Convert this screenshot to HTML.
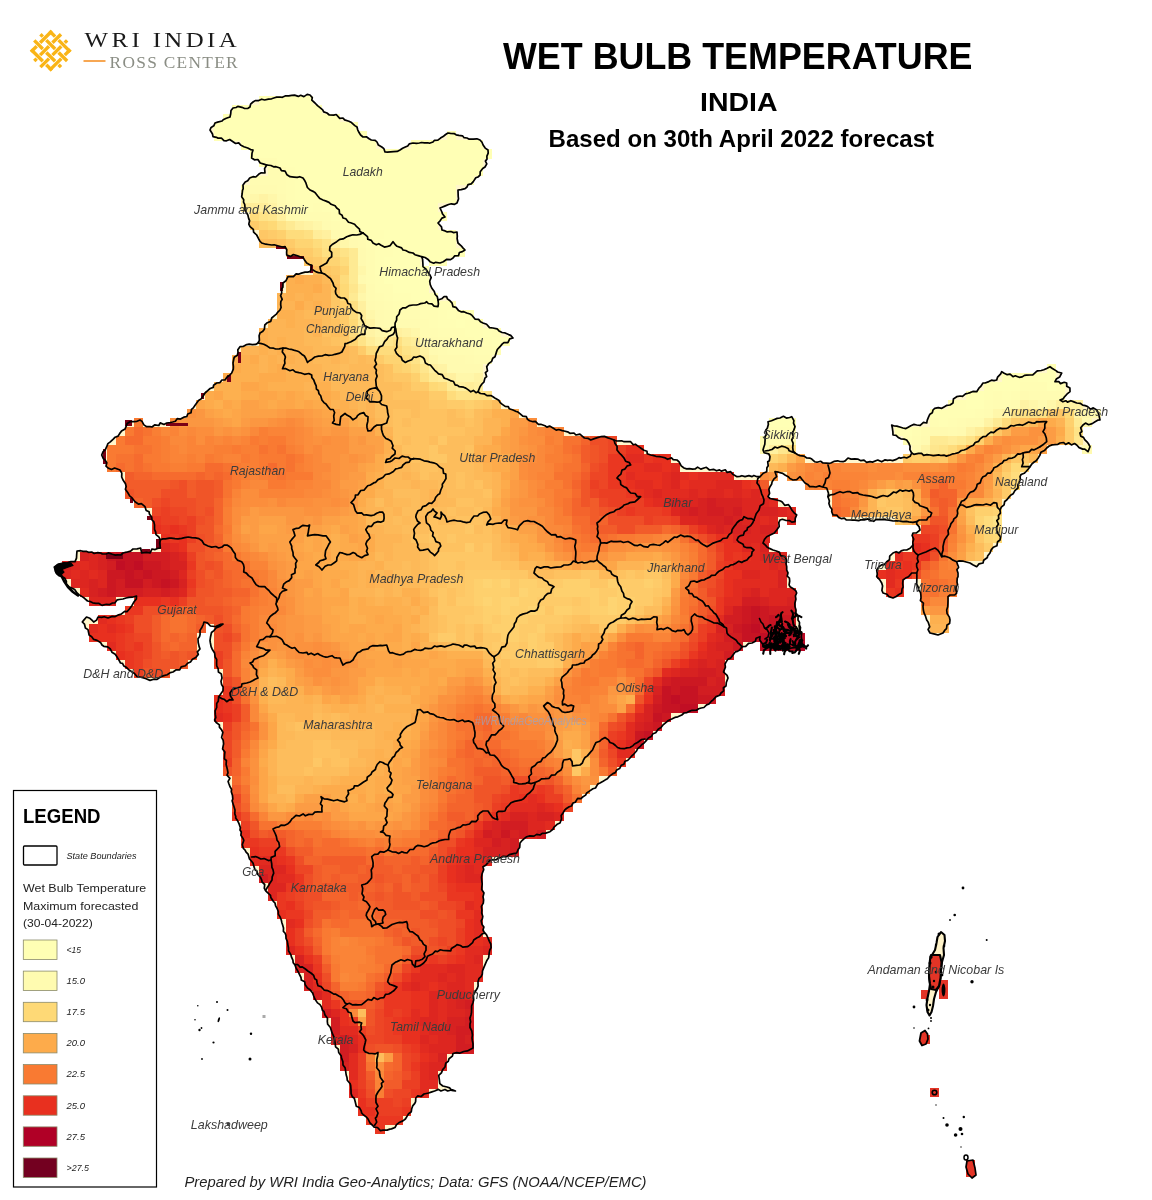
<!DOCTYPE html>
<html lang="en"><head><meta charset="utf-8"><title>Wet Bulb Temperature - India</title>
<style>html,body{margin:0;padding:0;background:#fff}body{width:1152px;height:1200px;position:relative;overflow:hidden;font-family:"Liberation Sans",sans-serif}</style>
</head><body>
<svg width="1152" height="1200" viewBox="0 0 1152 1200" style="position:absolute;left:0;top:0">
<polygon points="210.0,130.0 215.0,123.0 230.0,117.0 233.0,108.0 250.0,107.0 253.0,102.0 280.0,97.0 310.0,95.0 315.0,103.0 327.0,113.0 343.0,118.0 357.0,127.0 363.0,137.0 377.0,142.0 385.0,152.0 400.0,150.0 413.0,143.0 433.0,142.0 448.0,133.0 467.0,138.0 480.0,140.0 488.0,150.0 485.0,167.0 478.0,177.0 467.0,187.0 458.0,190.0 457.0,203.0 440.0,208.0 445.0,217.0 438.0,223.0 442.0,230.0 457.0,232.0 458.0,243.0 465.0,250.0 453.0,258.0 440.0,263.0 430.0,261.7 421.7,256.7 423.0,266.7 430.0,275.0 431.7,288.0 438.0,300.0 446.7,296.7 453.0,306.7 466.7,313.0 483.0,323.0 493.0,328.0 513.0,338.0 500.0,346.7 495.0,356.7 486.7,366.7 486.7,376.7 480.0,386.7 478.0,391.7 493.0,396.7 513.0,410.0 533.0,421.7 553.0,428.0 574.0,433.0 590.7,440.0 600.7,436.7 614.0,440.0 630.7,441.7 650.7,455.0 677.0,460.0 684.0,468.0 704.0,468.0 730.7,471.7 737.0,476.7 757.0,476.7 766.7,471.7 770.0,456.7 763.0,450.0 765.0,436.7 768.0,421.7 780.0,418.0 791.7,416.7 795.0,426.7 791.7,440.0 795.0,453.0 806.7,458.0 823.0,463.0 843.0,461.7 848.0,458.0 870.0,461.7 890.0,460.0 906.7,458.0 911.7,453.0 906.7,440.0 893.0,435.0 891.7,425.0 903.0,428.0 916.7,425.0 926.7,423.0 933.0,410.0 950.0,405.0 956.7,396.7 976.7,391.7 983.0,383.0 996.7,380.0 1001.7,371.7 1013.0,376.7 1030.0,375.0 1050.0,366.7 1061.7,373.0 1055.0,381.7 1066.7,383.0 1070.0,391.7 1060.0,400.0 1076.7,403.0 1096.7,410.0 1100.0,420.0 1083.0,425.0 1080.0,433.0 1090.0,446.7 1088.0,451.7 1076.7,445.0 1060.0,443.0 1046.7,448.0 1040.0,455.0 1030.0,466.7 1020.0,476.7 1018.0,488.0 1006.7,500.0 1000.0,510.0 996.7,526.7 1000.0,540.0 990.0,553.0 983.0,563.0 976.7,566.7 970.0,563.0 956.7,561.7 958.0,573.0 956.7,593.0 948.0,596.7 946.7,610.0 950.0,620.0 943.0,633.0 938.0,635.0 930.0,633.0 926.7,620.0 923.0,606.7 918.0,586.7 916.7,573.0 911.7,573.0 903.0,580.0 901.7,593.0 893.0,598.0 883.0,593.0 881.7,583.0 876.7,576.7 876.7,570.0 886.7,561.7 893.0,553.0 906.7,550.0 913.0,545.0 913.0,533.0 920.0,530.0 916.7,521.7 903.0,521.7 886.7,520.0 870.0,520.0 850.0,520.0 833.0,515.0 830.0,506.7 828.0,496.7 826.7,488.0 821.7,486.7 813.0,486.7 805.0,483.0 800.0,476.7 793.0,480.0 785.0,475.0 775.0,471.7 776.7,476.7 770.0,486.7 768.0,496.7 776.7,500.0 790.0,506.7 796.7,515.0 795.0,521.7 780.0,520.0 776.7,530.0 766.7,536.7 763.0,543.0 773.0,550.0 785.0,556.7 786.7,570.0 790.0,586.7 796.7,593.0 795.0,606.7 798.0,620.0 801.7,633.0 801.7,646.7 780.0,648.0 763.0,646.7 760.0,636.7 752.0,643.0 742.0,646.7 733.0,655.0 725.0,664.0 723.5,672.0 728.0,678.0 726.0,686.0 721.0,693.0 709.0,704.0 698.7,708.7 684.0,713.0 671.7,719.0 661.0,727.5 653.0,733.7 640.0,746.7 630.0,758.0 616.7,770.0 600.0,783.0 586.7,793.0 573.0,803.0 563.0,813.0 560.0,823.0 550.0,831.7 540.0,835.0 526.7,836.7 520.0,843.0 516.7,853.0 506.7,856.7 490.0,860.0 483.0,866.7 481.7,880.0 483.0,896.7 481.7,913.0 483.0,930.0 488.0,938.0 490.8,944.0 489.8,950.0 486.7,960.8 482.5,971.0 478.0,981.7 475.0,992.0 473.0,1002.5 471.0,1015.0 470.0,1027.5 472.0,1038.0 473.0,1048.0 463.7,1051.5 453.0,1053.5 449.0,1058.7 445.0,1067.0 438.7,1075.4 439.8,1083.7 447.0,1087.0 455.4,1091.0 445.0,1089.5 434.6,1091.0 424.0,1094.0 415.8,1098.0 411.7,1108.7 405.4,1119.0 395.0,1127.5 380.4,1130.6 370.0,1123.0 361.7,1113.0 355.4,1102.5 351.0,1090.0 347.0,1077.5 343.0,1065.0 338.7,1052.5 334.6,1040.0 330.4,1027.5 325.0,1015.0 320.0,1004.6 313.7,996.0 307.5,988.0 301.0,977.5 295.0,965.0 290.8,954.6 287.7,944.0 285.0,933.0 280.0,916.7 275.0,903.0 268.0,893.0 261.7,880.0 253.0,863.0 245.0,850.0 240.0,830.0 235.0,810.0 230.0,786.7 226.7,766.7 223.0,746.7 221.7,730.0 214.6,720.0 216.7,707.5 218.7,697.0 223.0,690.8 222.0,678.0 216.7,665.8 214.6,653.0 210.4,643.0 211.5,632.5 216.0,628.0 223.0,624.0 210.4,626.0 204.0,622.0 200.0,630.4 198.0,638.7 200.0,649.0 195.8,657.5 185.4,665.8 173.0,672.0 160.4,677.0 150.0,680.4 139.6,677.0 129.0,670.0 118.7,659.6 110.4,649.0 102.0,645.0 91.7,636.7 85.4,628.0 82.3,622.0 86.5,617.0 93.7,622.0 98.0,617.0 108.0,618.0 118.7,614.8 127.0,611.7 132.0,605.4 136.5,596.0 123.0,599.0 112.5,603.0 102.0,605.4 87.5,601.0 77.0,593.0 68.8,586.7 64.6,578.0 57.0,574.0 55.0,568.0 60.0,564.0 64.6,564.8 75.0,561.7 77.0,551.0 91.7,552.0 106.0,554.0 120.8,555.0 123.0,553.0 133.0,549.0 140.6,548.0 141.7,553.0 150.0,553.0 152.0,549.0 160.4,548.0 160.4,539.8 156.0,534.6 152.0,520.0 145.0,506.7 135.0,501.7 128.0,493.0 123.0,480.0 120.0,470.0 108.0,468.0 105.0,460.0 101.7,455.0 106.7,446.7 120.0,433.0 130.0,421.7 140.0,420.0 146.7,426.7 166.7,423.0 186.7,416.7 196.7,403.0 205.0,393.0 216.7,383.0 225.0,380.0 231.7,373.0 233.0,363.0 240.0,346.7 258.0,343.0 260.0,333.0 271.7,318.0 280.0,310.0 281.7,293.0 283.0,283.0 288.0,276.7 310.0,271.7 311.7,265.0 300.0,256.7 286.7,255.0 285.0,246.7 271.7,245.0 261.7,243.0 256.7,235.0 250.0,226.7 246.7,213.0 241.7,196.7 243.0,185.0 253.0,176.7 265.0,173.0 266.7,165.0 251.7,158.0 253.0,150.0 233.0,141.7 213.0,136.7" fill="#fff6cc" stroke="none"/>
<g shape-rendering="crispEdges"><rect x="259.0" y="95.6" width="54.0" height="9.2" fill="#ffffb5"/><rect x="232.2" y="104.5" width="89.8" height="9.2" fill="#ffffb5"/><rect x="223.2" y="113.5" width="116.6" height="9.2" fill="#ffffb5"/><rect x="214.3" y="122.4" width="143.5" height="9.2" fill="#ffffb5"/><rect x="214.3" y="131.4" width="152.4" height="9.2" fill="#ffffb5"/><rect x="447.0" y="131.4" width="9.2" height="9.2" fill="#ffffb5"/><rect x="241.1" y="140.3" width="134.6" height="9.2" fill="#ffffb5"/><rect x="411.2" y="140.3" width="71.9" height="9.2" fill="#ffffb5"/><rect x="250.1" y="149.3" width="241.9" height="9.2" fill="#ffffb5"/><rect x="259.0" y="158.2" width="18.2" height="9.2" fill="#fffdb3"/><rect x="276.9" y="158.2" width="206.2" height="9.2" fill="#ffffb5"/><rect x="268.0" y="167.2" width="18.2" height="9.2" fill="#fffcb2"/><rect x="285.9" y="167.2" width="9.2" height="9.2" fill="#fffeb4"/><rect x="294.8" y="167.2" width="188.2" height="9.2" fill="#ffffb5"/><rect x="250.1" y="176.2" width="36.1" height="9.2" fill="#fffcb2"/><rect x="285.9" y="176.2" width="9.2" height="9.2" fill="#fffdb3"/><rect x="294.8" y="176.2" width="9.2" height="9.2" fill="#fffeb4"/><rect x="303.8" y="176.2" width="170.3" height="9.2" fill="#ffffb5"/><rect x="241.1" y="185.1" width="36.1" height="9.2" fill="#fffbb1"/><rect x="276.9" y="185.1" width="9.2" height="9.2" fill="#fffcb2"/><rect x="285.9" y="185.1" width="9.2" height="9.2" fill="#fffdb3"/><rect x="294.8" y="185.1" width="18.2" height="9.2" fill="#fffeb4"/><rect x="312.8" y="185.1" width="143.5" height="9.2" fill="#ffffb5"/><rect x="241.1" y="194.0" width="9.2" height="9.2" fill="#fffab0"/><rect x="250.1" y="194.0" width="9.2" height="9.2" fill="#fff7aa"/><rect x="259.0" y="194.0" width="9.2" height="9.2" fill="#fff3a4"/><rect x="268.0" y="194.0" width="9.2" height="9.2" fill="#fff7aa"/><rect x="276.9" y="194.0" width="9.2" height="9.2" fill="#fffbb1"/><rect x="285.9" y="194.0" width="9.2" height="9.2" fill="#fffdb3"/><rect x="294.8" y="194.0" width="27.1" height="9.2" fill="#fffeb4"/><rect x="321.7" y="194.0" width="134.6" height="9.2" fill="#ffffb5"/><rect x="241.1" y="203.0" width="27.1" height="9.2" fill="#ffed99"/><rect x="268.0" y="203.0" width="9.2" height="9.2" fill="#fff3a4"/><rect x="276.9" y="203.0" width="9.2" height="9.2" fill="#fffab0"/><rect x="285.9" y="203.0" width="9.2" height="9.2" fill="#fffcb2"/><rect x="294.8" y="203.0" width="9.2" height="9.2" fill="#fffdb3"/><rect x="303.8" y="203.0" width="9.2" height="9.2" fill="#fffeb4"/><rect x="312.8" y="203.0" width="9.2" height="9.2" fill="#fffdb3"/><rect x="321.7" y="203.0" width="9.2" height="9.2" fill="#fffeb4"/><rect x="330.6" y="203.0" width="107.7" height="9.2" fill="#ffffb5"/><rect x="250.1" y="211.9" width="9.2" height="9.2" fill="#fedc7c"/><rect x="259.0" y="211.9" width="9.2" height="9.2" fill="#fee387"/><rect x="268.0" y="211.9" width="9.2" height="9.2" fill="#fee68d"/><rect x="276.9" y="211.9" width="9.2" height="9.2" fill="#fff09f"/><rect x="285.9" y="211.9" width="9.2" height="9.2" fill="#fffab0"/><rect x="294.8" y="211.9" width="9.2" height="9.2" fill="#fffbb1"/><rect x="303.8" y="211.9" width="27.1" height="9.2" fill="#fffcb2"/><rect x="330.6" y="211.9" width="18.2" height="9.2" fill="#fffeb4"/><rect x="348.5" y="211.9" width="98.7" height="9.2" fill="#ffffb5"/><rect x="250.1" y="220.9" width="9.2" height="9.2" fill="#fecb69"/><rect x="259.0" y="220.9" width="9.2" height="9.2" fill="#fed472"/><rect x="268.0" y="220.9" width="9.2" height="9.2" fill="#fed976"/><rect x="276.9" y="220.9" width="9.2" height="9.2" fill="#fee387"/><rect x="285.9" y="220.9" width="9.2" height="9.2" fill="#feea93"/><rect x="294.8" y="220.9" width="9.2" height="9.2" fill="#fff09f"/><rect x="303.8" y="220.9" width="9.2" height="9.2" fill="#fff3a4"/><rect x="312.8" y="220.9" width="9.2" height="9.2" fill="#fff7aa"/><rect x="321.7" y="220.9" width="9.2" height="9.2" fill="#fffbb1"/><rect x="330.6" y="220.9" width="9.2" height="9.2" fill="#fffcb2"/><rect x="339.6" y="220.9" width="9.2" height="9.2" fill="#fffdb3"/><rect x="348.5" y="220.9" width="9.2" height="9.2" fill="#fffeb4"/><rect x="357.5" y="220.9" width="80.8" height="9.2" fill="#ffffb5"/><rect x="259.0" y="229.8" width="9.2" height="9.2" fill="#fec765"/><rect x="268.0" y="229.8" width="9.2" height="9.2" fill="#fecb69"/><rect x="276.9" y="229.8" width="9.2" height="9.2" fill="#fed06d"/><rect x="285.9" y="229.8" width="18.2" height="9.2" fill="#fedc7c"/><rect x="303.8" y="229.8" width="9.2" height="9.2" fill="#fee082"/><rect x="312.8" y="229.8" width="9.2" height="9.2" fill="#ffed99"/><rect x="321.7" y="229.8" width="9.2" height="9.2" fill="#fff09f"/><rect x="330.6" y="229.8" width="9.2" height="9.2" fill="#fffab0"/><rect x="339.6" y="229.8" width="18.2" height="9.2" fill="#fffcb2"/><rect x="357.5" y="229.8" width="9.2" height="9.2" fill="#fffdb3"/><rect x="366.4" y="229.8" width="18.2" height="9.2" fill="#fffeb4"/><rect x="384.3" y="229.8" width="71.9" height="9.2" fill="#ffffb5"/><rect x="259.0" y="238.8" width="18.2" height="9.2" fill="#fdbd5c"/><rect x="276.9" y="238.8" width="9.2" height="9.2" fill="#fec260"/><rect x="285.9" y="238.8" width="9.2" height="9.2" fill="#fecb69"/><rect x="294.8" y="238.8" width="18.2" height="9.2" fill="#fed472"/><rect x="312.8" y="238.8" width="9.2" height="9.2" fill="#fedc7c"/><rect x="321.7" y="238.8" width="9.2" height="9.2" fill="#fee387"/><rect x="330.6" y="238.8" width="9.2" height="9.2" fill="#fff09f"/><rect x="339.6" y="238.8" width="9.2" height="9.2" fill="#fff7aa"/><rect x="348.5" y="238.8" width="9.2" height="9.2" fill="#fffab0"/><rect x="357.5" y="238.8" width="9.2" height="9.2" fill="#fffbb1"/><rect x="366.4" y="238.8" width="9.2" height="9.2" fill="#fffdb3"/><rect x="375.4" y="238.8" width="80.8" height="9.2" fill="#ffffb5"/><rect x="285.9" y="247.7" width="9.2" height="9.2" fill="#fec260"/><rect x="294.8" y="247.7" width="18.2" height="9.2" fill="#fecb69"/><rect x="312.8" y="247.7" width="9.2" height="9.2" fill="#fed472"/><rect x="321.7" y="247.7" width="9.2" height="9.2" fill="#fee082"/><rect x="330.6" y="247.7" width="9.2" height="9.2" fill="#fedc7c"/><rect x="339.6" y="247.7" width="9.2" height="9.2" fill="#fee387"/><rect x="348.5" y="247.7" width="9.2" height="9.2" fill="#feea93"/><rect x="357.5" y="247.7" width="9.2" height="9.2" fill="#fffab0"/><rect x="366.4" y="247.7" width="9.2" height="9.2" fill="#fffcb2"/><rect x="375.4" y="247.7" width="18.2" height="9.2" fill="#fffeb4"/><rect x="393.3" y="247.7" width="71.9" height="9.2" fill="#ffffb5"/><rect x="303.8" y="256.7" width="9.2" height="9.2" fill="#fec765"/><rect x="312.8" y="256.7" width="9.2" height="9.2" fill="#fecb69"/><rect x="321.7" y="256.7" width="18.2" height="9.2" fill="#fed472"/><rect x="339.6" y="256.7" width="9.2" height="9.2" fill="#fedc7c"/><rect x="348.5" y="256.7" width="9.2" height="9.2" fill="#feea93"/><rect x="357.5" y="256.7" width="9.2" height="9.2" fill="#fffab0"/><rect x="366.4" y="256.7" width="9.2" height="9.2" fill="#fffcb2"/><rect x="375.4" y="256.7" width="9.2" height="9.2" fill="#fffeb4"/><rect x="384.3" y="256.7" width="36.1" height="9.2" fill="#ffffb5"/><rect x="429.1" y="256.7" width="18.2" height="9.2" fill="#ffffb5"/><rect x="312.8" y="265.6" width="9.2" height="9.2" fill="#fdbd5c"/><rect x="321.7" y="265.6" width="9.2" height="9.2" fill="#fec765"/><rect x="330.6" y="265.6" width="9.2" height="9.2" fill="#fecb69"/><rect x="339.6" y="265.6" width="9.2" height="9.2" fill="#fed472"/><rect x="348.5" y="265.6" width="9.2" height="9.2" fill="#feea93"/><rect x="357.5" y="265.6" width="9.2" height="9.2" fill="#fff7aa"/><rect x="366.4" y="265.6" width="9.2" height="9.2" fill="#fffcb2"/><rect x="375.4" y="265.6" width="18.2" height="9.2" fill="#fffeb4"/><rect x="393.3" y="265.6" width="36.1" height="9.2" fill="#ffffb5"/><rect x="285.9" y="274.6" width="9.2" height="9.2" fill="#fdb04f"/><rect x="294.8" y="274.6" width="9.2" height="9.2" fill="#fdab4b"/><rect x="303.8" y="274.6" width="18.2" height="9.2" fill="#fdb04f"/><rect x="321.7" y="274.6" width="9.2" height="9.2" fill="#fdb958"/><rect x="330.6" y="274.6" width="9.2" height="9.2" fill="#fec765"/><rect x="339.6" y="274.6" width="9.2" height="9.2" fill="#fedc7c"/><rect x="348.5" y="274.6" width="9.2" height="9.2" fill="#feea93"/><rect x="357.5" y="274.6" width="9.2" height="9.2" fill="#fffab0"/><rect x="366.4" y="274.6" width="9.2" height="9.2" fill="#fffcb2"/><rect x="375.4" y="274.6" width="9.2" height="9.2" fill="#fffdb3"/><rect x="384.3" y="274.6" width="45.0" height="9.2" fill="#ffffb5"/><rect x="285.9" y="283.5" width="27.1" height="9.2" fill="#fdb04f"/><rect x="312.8" y="283.5" width="9.2" height="9.2" fill="#fdab4b"/><rect x="321.7" y="283.5" width="9.2" height="9.2" fill="#fdb454"/><rect x="330.6" y="283.5" width="9.2" height="9.2" fill="#fec260"/><rect x="339.6" y="283.5" width="9.2" height="9.2" fill="#fed976"/><rect x="348.5" y="283.5" width="9.2" height="9.2" fill="#fee68d"/><rect x="357.5" y="283.5" width="9.2" height="9.2" fill="#fff3a4"/><rect x="366.4" y="283.5" width="9.2" height="9.2" fill="#fffbb1"/><rect x="375.4" y="283.5" width="18.2" height="9.2" fill="#fffdb3"/><rect x="393.3" y="283.5" width="36.1" height="9.2" fill="#ffffb5"/><rect x="276.9" y="292.5" width="9.2" height="9.2" fill="#fdb454"/><rect x="285.9" y="292.5" width="9.2" height="9.2" fill="#fdb04f"/><rect x="294.8" y="292.5" width="9.2" height="9.2" fill="#fdb454"/><rect x="303.8" y="292.5" width="9.2" height="9.2" fill="#fdb04f"/><rect x="312.8" y="292.5" width="18.2" height="9.2" fill="#fdb454"/><rect x="330.6" y="292.5" width="9.2" height="9.2" fill="#fec765"/><rect x="339.6" y="292.5" width="9.2" height="9.2" fill="#fed976"/><rect x="348.5" y="292.5" width="9.2" height="9.2" fill="#feea93"/><rect x="357.5" y="292.5" width="9.2" height="9.2" fill="#fff7aa"/><rect x="366.4" y="292.5" width="9.2" height="9.2" fill="#fffbb1"/><rect x="375.4" y="292.5" width="9.2" height="9.2" fill="#fffcb2"/><rect x="384.3" y="292.5" width="9.2" height="9.2" fill="#fffdb3"/><rect x="393.3" y="292.5" width="18.2" height="9.2" fill="#fffeb4"/><rect x="411.2" y="292.5" width="27.1" height="9.2" fill="#ffffb5"/><rect x="276.9" y="301.4" width="18.2" height="9.2" fill="#fdb454"/><rect x="294.8" y="301.4" width="9.2" height="9.2" fill="#fdab4b"/><rect x="303.8" y="301.4" width="9.2" height="9.2" fill="#fdb454"/><rect x="312.8" y="301.4" width="9.2" height="9.2" fill="#fdb04f"/><rect x="321.7" y="301.4" width="9.2" height="9.2" fill="#fdb454"/><rect x="330.6" y="301.4" width="9.2" height="9.2" fill="#fec765"/><rect x="339.6" y="301.4" width="9.2" height="9.2" fill="#fed06d"/><rect x="348.5" y="301.4" width="9.2" height="9.2" fill="#fee082"/><rect x="357.5" y="301.4" width="9.2" height="9.2" fill="#fff09f"/><rect x="366.4" y="301.4" width="9.2" height="9.2" fill="#fffab0"/><rect x="375.4" y="301.4" width="9.2" height="9.2" fill="#fffbb1"/><rect x="384.3" y="301.4" width="9.2" height="9.2" fill="#fffcb2"/><rect x="393.3" y="301.4" width="36.1" height="9.2" fill="#fffdb3"/><rect x="429.1" y="301.4" width="27.1" height="9.2" fill="#fffeb4"/><rect x="276.9" y="310.4" width="18.2" height="9.2" fill="#fdb04f"/><rect x="294.8" y="310.4" width="9.2" height="9.2" fill="#fdb454"/><rect x="303.8" y="310.4" width="18.2" height="9.2" fill="#fdb958"/><rect x="321.7" y="310.4" width="9.2" height="9.2" fill="#fdbd5c"/><rect x="330.6" y="310.4" width="9.2" height="9.2" fill="#fec765"/><rect x="339.6" y="310.4" width="9.2" height="9.2" fill="#fecb69"/><rect x="348.5" y="310.4" width="9.2" height="9.2" fill="#fedc7c"/><rect x="357.5" y="310.4" width="9.2" height="9.2" fill="#ffed99"/><rect x="366.4" y="310.4" width="9.2" height="9.2" fill="#fff7aa"/><rect x="375.4" y="310.4" width="9.2" height="9.2" fill="#fffab0"/><rect x="384.3" y="310.4" width="9.2" height="9.2" fill="#fffbb1"/><rect x="393.3" y="310.4" width="27.1" height="9.2" fill="#fffcb2"/><rect x="420.1" y="310.4" width="18.2" height="9.2" fill="#fffdb3"/><rect x="438.0" y="310.4" width="9.2" height="9.2" fill="#fffeb4"/><rect x="447.0" y="310.4" width="9.2" height="9.2" fill="#ffffb5"/><rect x="455.9" y="310.4" width="9.2" height="9.2" fill="#fffeb4"/><rect x="464.9" y="310.4" width="9.2" height="9.2" fill="#ffffb5"/><rect x="268.0" y="319.3" width="18.2" height="9.2" fill="#fdb454"/><rect x="285.9" y="319.3" width="9.2" height="9.2" fill="#fdb04f"/><rect x="294.8" y="319.3" width="27.1" height="9.2" fill="#fdb454"/><rect x="321.7" y="319.3" width="9.2" height="9.2" fill="#fdbd5c"/><rect x="330.6" y="319.3" width="9.2" height="9.2" fill="#fec260"/><rect x="339.6" y="319.3" width="9.2" height="9.2" fill="#fecb69"/><rect x="348.5" y="319.3" width="9.2" height="9.2" fill="#fed976"/><rect x="357.5" y="319.3" width="9.2" height="9.2" fill="#feea93"/><rect x="366.4" y="319.3" width="9.2" height="9.2" fill="#fff3a4"/><rect x="375.4" y="319.3" width="9.2" height="9.2" fill="#fffab0"/><rect x="384.3" y="319.3" width="36.1" height="9.2" fill="#fffbb1"/><rect x="420.1" y="319.3" width="9.2" height="9.2" fill="#fffcb2"/><rect x="429.1" y="319.3" width="9.2" height="9.2" fill="#fffdb3"/><rect x="438.0" y="319.3" width="18.2" height="9.2" fill="#fffeb4"/><rect x="455.9" y="319.3" width="9.2" height="9.2" fill="#ffffb5"/><rect x="464.9" y="319.3" width="18.2" height="9.2" fill="#fffeb4"/><rect x="259.0" y="328.3" width="9.2" height="9.2" fill="#fdb04f"/><rect x="268.0" y="328.3" width="36.1" height="9.2" fill="#fdb454"/><rect x="303.8" y="328.3" width="9.2" height="9.2" fill="#fdb958"/><rect x="312.8" y="328.3" width="9.2" height="9.2" fill="#fdb454"/><rect x="321.7" y="328.3" width="9.2" height="9.2" fill="#fec260"/><rect x="330.6" y="328.3" width="9.2" height="9.2" fill="#fdbd5c"/><rect x="339.6" y="328.3" width="9.2" height="9.2" fill="#fec260"/><rect x="348.5" y="328.3" width="9.2" height="9.2" fill="#fedc7c"/><rect x="357.5" y="328.3" width="9.2" height="9.2" fill="#feea93"/><rect x="366.4" y="328.3" width="9.2" height="9.2" fill="#fff3a4"/><rect x="375.4" y="328.3" width="18.2" height="9.2" fill="#fff7aa"/><rect x="393.3" y="328.3" width="9.2" height="9.2" fill="#fff09f"/><rect x="402.2" y="328.3" width="9.2" height="9.2" fill="#fff3a4"/><rect x="411.2" y="328.3" width="9.2" height="9.2" fill="#fff7aa"/><rect x="420.1" y="328.3" width="18.2" height="9.2" fill="#fffcb2"/><rect x="438.0" y="328.3" width="27.1" height="9.2" fill="#fffdb3"/><rect x="464.9" y="328.3" width="18.2" height="9.2" fill="#fffeb4"/><rect x="482.8" y="328.3" width="9.2" height="9.2" fill="#ffffb5"/><rect x="491.7" y="328.3" width="9.2" height="9.2" fill="#fffeb4"/><rect x="259.0" y="337.2" width="9.2" height="9.2" fill="#fdb04f"/><rect x="268.0" y="337.2" width="9.2" height="9.2" fill="#fdb454"/><rect x="276.9" y="337.2" width="9.2" height="9.2" fill="#fdb04f"/><rect x="285.9" y="337.2" width="18.2" height="9.2" fill="#fdb454"/><rect x="303.8" y="337.2" width="18.2" height="9.2" fill="#fdb958"/><rect x="321.7" y="337.2" width="9.2" height="9.2" fill="#fdbd5c"/><rect x="330.6" y="337.2" width="9.2" height="9.2" fill="#fec260"/><rect x="339.6" y="337.2" width="9.2" height="9.2" fill="#fec765"/><rect x="348.5" y="337.2" width="9.2" height="9.2" fill="#fed472"/><rect x="357.5" y="337.2" width="9.2" height="9.2" fill="#fee387"/><rect x="366.4" y="337.2" width="9.2" height="9.2" fill="#ffed99"/><rect x="375.4" y="337.2" width="9.2" height="9.2" fill="#fff3a4"/><rect x="384.3" y="337.2" width="9.2" height="9.2" fill="#fee68d"/><rect x="393.3" y="337.2" width="9.2" height="9.2" fill="#fee082"/><rect x="402.2" y="337.2" width="9.2" height="9.2" fill="#feea93"/><rect x="411.2" y="337.2" width="9.2" height="9.2" fill="#ffed99"/><rect x="420.1" y="337.2" width="9.2" height="9.2" fill="#fffab0"/><rect x="429.1" y="337.2" width="9.2" height="9.2" fill="#fffbb1"/><rect x="438.0" y="337.2" width="18.2" height="9.2" fill="#fffcb2"/><rect x="455.9" y="337.2" width="18.2" height="9.2" fill="#fffdb3"/><rect x="473.8" y="337.2" width="18.2" height="9.2" fill="#fffeb4"/><rect x="491.7" y="337.2" width="18.2" height="9.2" fill="#ffffb5"/><rect x="241.1" y="346.2" width="18.2" height="9.2" fill="#fdb454"/><rect x="259.0" y="346.2" width="9.2" height="9.2" fill="#fdb04f"/><rect x="268.0" y="346.2" width="9.2" height="9.2" fill="#fdb454"/><rect x="276.9" y="346.2" width="9.2" height="9.2" fill="#fdb04f"/><rect x="285.9" y="346.2" width="27.1" height="9.2" fill="#fdb454"/><rect x="312.8" y="346.2" width="36.1" height="9.2" fill="#fdb958"/><rect x="348.5" y="346.2" width="9.2" height="9.2" fill="#fdbd5c"/><rect x="357.5" y="346.2" width="9.2" height="9.2" fill="#fecb69"/><rect x="366.4" y="346.2" width="27.1" height="9.2" fill="#fedc7c"/><rect x="393.3" y="346.2" width="9.2" height="9.2" fill="#fed976"/><rect x="402.2" y="346.2" width="9.2" height="9.2" fill="#fee387"/><rect x="411.2" y="346.2" width="9.2" height="9.2" fill="#fee68d"/><rect x="420.1" y="346.2" width="9.2" height="9.2" fill="#fff3a4"/><rect x="429.1" y="346.2" width="9.2" height="9.2" fill="#fffab0"/><rect x="438.0" y="346.2" width="9.2" height="9.2" fill="#fffbb1"/><rect x="447.0" y="346.2" width="27.1" height="9.2" fill="#fffcb2"/><rect x="473.8" y="346.2" width="18.2" height="9.2" fill="#fffdb3"/><rect x="491.7" y="346.2" width="9.2" height="9.2" fill="#fffeb4"/><rect x="232.2" y="355.1" width="18.2" height="9.2" fill="#fdb04f"/><rect x="250.1" y="355.1" width="9.2" height="9.2" fill="#fdab4b"/><rect x="259.0" y="355.1" width="9.2" height="9.2" fill="#fdb454"/><rect x="268.0" y="355.1" width="9.2" height="9.2" fill="#fdb04f"/><rect x="276.9" y="355.1" width="9.2" height="9.2" fill="#fdb454"/><rect x="285.9" y="355.1" width="9.2" height="9.2" fill="#fdb04f"/><rect x="294.8" y="355.1" width="18.2" height="9.2" fill="#fdb454"/><rect x="312.8" y="355.1" width="18.2" height="9.2" fill="#fdb958"/><rect x="330.6" y="355.1" width="9.2" height="9.2" fill="#fdb454"/><rect x="339.6" y="355.1" width="9.2" height="9.2" fill="#fdb958"/><rect x="348.5" y="355.1" width="9.2" height="9.2" fill="#fdbd5c"/><rect x="357.5" y="355.1" width="9.2" height="9.2" fill="#fdb958"/><rect x="366.4" y="355.1" width="9.2" height="9.2" fill="#fdbd5c"/><rect x="375.4" y="355.1" width="9.2" height="9.2" fill="#fecb69"/><rect x="384.3" y="355.1" width="18.2" height="9.2" fill="#fed472"/><rect x="402.2" y="355.1" width="9.2" height="9.2" fill="#fedc7c"/><rect x="411.2" y="355.1" width="9.2" height="9.2" fill="#fee387"/><rect x="420.1" y="355.1" width="9.2" height="9.2" fill="#fff09f"/><rect x="429.1" y="355.1" width="9.2" height="9.2" fill="#fff7aa"/><rect x="438.0" y="355.1" width="27.1" height="9.2" fill="#fffab0"/><rect x="464.9" y="355.1" width="9.2" height="9.2" fill="#fffbb1"/><rect x="473.8" y="355.1" width="18.2" height="9.2" fill="#fffcb2"/><rect x="232.2" y="364.1" width="9.2" height="9.2" fill="#fdab4b"/><rect x="241.1" y="364.1" width="18.2" height="9.2" fill="#fdb04f"/><rect x="259.0" y="364.1" width="9.2" height="9.2" fill="#fdb454"/><rect x="268.0" y="364.1" width="9.2" height="9.2" fill="#fdb04f"/><rect x="276.9" y="364.1" width="9.2" height="9.2" fill="#fdab4b"/><rect x="285.9" y="364.1" width="36.1" height="9.2" fill="#fdb454"/><rect x="321.7" y="364.1" width="18.2" height="9.2" fill="#fdb958"/><rect x="339.6" y="364.1" width="9.2" height="9.2" fill="#fdbd5c"/><rect x="348.5" y="364.1" width="27.1" height="9.2" fill="#fdb958"/><rect x="375.4" y="364.1" width="9.2" height="9.2" fill="#fdbd5c"/><rect x="384.3" y="364.1" width="9.2" height="9.2" fill="#fec260"/><rect x="393.3" y="364.1" width="9.2" height="9.2" fill="#fed06d"/><rect x="402.2" y="364.1" width="9.2" height="9.2" fill="#fed472"/><rect x="411.2" y="364.1" width="9.2" height="9.2" fill="#fedc7c"/><rect x="420.1" y="364.1" width="9.2" height="9.2" fill="#fee68d"/><rect x="429.1" y="364.1" width="9.2" height="9.2" fill="#fff09f"/><rect x="438.0" y="364.1" width="9.2" height="9.2" fill="#fff3a4"/><rect x="447.0" y="364.1" width="36.1" height="9.2" fill="#fffab0"/><rect x="1046.6" y="364.1" width="9.2" height="9.2" fill="#ffffb5"/><rect x="223.2" y="373.0" width="9.2" height="9.2" fill="#fdab4b"/><rect x="232.2" y="373.0" width="27.1" height="9.2" fill="#fdb04f"/><rect x="259.0" y="373.0" width="27.1" height="9.2" fill="#fdab4b"/><rect x="285.9" y="373.0" width="27.1" height="9.2" fill="#fdb04f"/><rect x="312.8" y="373.0" width="18.2" height="9.2" fill="#fdb454"/><rect x="330.6" y="373.0" width="9.2" height="9.2" fill="#fdbd5c"/><rect x="339.6" y="373.0" width="9.2" height="9.2" fill="#fdb454"/><rect x="348.5" y="373.0" width="9.2" height="9.2" fill="#fdbd5c"/><rect x="357.5" y="373.0" width="9.2" height="9.2" fill="#fdb454"/><rect x="366.4" y="373.0" width="9.2" height="9.2" fill="#fdb958"/><rect x="375.4" y="373.0" width="9.2" height="9.2" fill="#fdbd5c"/><rect x="384.3" y="373.0" width="9.2" height="9.2" fill="#fec260"/><rect x="393.3" y="373.0" width="18.2" height="9.2" fill="#fec765"/><rect x="411.2" y="373.0" width="9.2" height="9.2" fill="#fed06d"/><rect x="420.1" y="373.0" width="9.2" height="9.2" fill="#fee082"/><rect x="429.1" y="373.0" width="9.2" height="9.2" fill="#feea93"/><rect x="438.0" y="373.0" width="9.2" height="9.2" fill="#ffed99"/><rect x="447.0" y="373.0" width="9.2" height="9.2" fill="#fff09f"/><rect x="455.9" y="373.0" width="18.2" height="9.2" fill="#fff7aa"/><rect x="473.8" y="373.0" width="9.2" height="9.2" fill="#fff3a4"/><rect x="1001.9" y="373.0" width="18.2" height="9.2" fill="#ffffb5"/><rect x="1019.8" y="373.0" width="18.2" height="9.2" fill="#fffeb4"/><rect x="1037.7" y="373.0" width="18.2" height="9.2" fill="#ffffb5"/><rect x="214.3" y="382.0" width="27.1" height="9.2" fill="#fdb04f"/><rect x="241.1" y="382.0" width="18.2" height="9.2" fill="#fda648"/><rect x="259.0" y="382.0" width="9.2" height="9.2" fill="#fdab4b"/><rect x="268.0" y="382.0" width="36.1" height="9.2" fill="#fdb04f"/><rect x="303.8" y="382.0" width="9.2" height="9.2" fill="#fdb454"/><rect x="312.8" y="382.0" width="18.2" height="9.2" fill="#fdb04f"/><rect x="330.6" y="382.0" width="45.0" height="9.2" fill="#fdb958"/><rect x="375.4" y="382.0" width="27.1" height="9.2" fill="#fdbd5c"/><rect x="402.2" y="382.0" width="9.2" height="9.2" fill="#fec260"/><rect x="411.2" y="382.0" width="18.2" height="9.2" fill="#fecb69"/><rect x="429.1" y="382.0" width="9.2" height="9.2" fill="#fed976"/><rect x="438.0" y="382.0" width="9.2" height="9.2" fill="#fedc7c"/><rect x="447.0" y="382.0" width="9.2" height="9.2" fill="#feea93"/><rect x="455.9" y="382.0" width="9.2" height="9.2" fill="#fff09f"/><rect x="464.9" y="382.0" width="9.2" height="9.2" fill="#ffed99"/><rect x="473.8" y="382.0" width="9.2" height="9.2" fill="#fff09f"/><rect x="984.0" y="382.0" width="9.2" height="9.2" fill="#fffeb4"/><rect x="992.9" y="382.0" width="27.1" height="9.2" fill="#ffffb5"/><rect x="1019.8" y="382.0" width="27.1" height="9.2" fill="#fffdb3"/><rect x="1046.6" y="382.0" width="9.2" height="9.2" fill="#ffffb5"/><rect x="1055.6" y="382.0" width="9.2" height="9.2" fill="#fffeb4"/><rect x="205.3" y="390.9" width="9.2" height="9.2" fill="#fdab4b"/><rect x="214.3" y="390.9" width="9.2" height="9.2" fill="#fda648"/><rect x="223.2" y="390.9" width="18.2" height="9.2" fill="#fdb04f"/><rect x="241.1" y="390.9" width="18.2" height="9.2" fill="#fdab4b"/><rect x="259.0" y="390.9" width="18.2" height="9.2" fill="#fda648"/><rect x="276.9" y="390.9" width="9.2" height="9.2" fill="#fdab4b"/><rect x="285.9" y="390.9" width="9.2" height="9.2" fill="#fda648"/><rect x="294.8" y="390.9" width="9.2" height="9.2" fill="#fdab4b"/><rect x="303.8" y="390.9" width="18.2" height="9.2" fill="#fdb04f"/><rect x="321.7" y="390.9" width="9.2" height="9.2" fill="#fdab4b"/><rect x="330.6" y="390.9" width="9.2" height="9.2" fill="#fdb04f"/><rect x="339.6" y="390.9" width="9.2" height="9.2" fill="#fdb958"/><rect x="348.5" y="390.9" width="9.2" height="9.2" fill="#fdb454"/><rect x="357.5" y="390.9" width="18.2" height="9.2" fill="#fdb958"/><rect x="375.4" y="390.9" width="18.2" height="9.2" fill="#fdbd5c"/><rect x="393.3" y="390.9" width="36.1" height="9.2" fill="#fec260"/><rect x="429.1" y="390.9" width="18.2" height="9.2" fill="#fecb69"/><rect x="447.0" y="390.9" width="9.2" height="9.2" fill="#fedc7c"/><rect x="455.9" y="390.9" width="18.2" height="9.2" fill="#fee387"/><rect x="473.8" y="390.9" width="18.2" height="9.2" fill="#fee082"/><rect x="966.1" y="390.9" width="18.2" height="9.2" fill="#ffffb5"/><rect x="984.0" y="390.9" width="9.2" height="9.2" fill="#fffeb4"/><rect x="992.9" y="390.9" width="9.2" height="9.2" fill="#fffdb3"/><rect x="1001.9" y="390.9" width="9.2" height="9.2" fill="#fffeb4"/><rect x="1010.8" y="390.9" width="9.2" height="9.2" fill="#fffdb3"/><rect x="1019.8" y="390.9" width="9.2" height="9.2" fill="#fffbb1"/><rect x="1028.8" y="390.9" width="36.1" height="9.2" fill="#fffcb2"/><rect x="196.4" y="399.9" width="9.2" height="9.2" fill="#fda648"/><rect x="205.3" y="399.9" width="9.2" height="9.2" fill="#fdab4b"/><rect x="214.3" y="399.9" width="9.2" height="9.2" fill="#fdb04f"/><rect x="223.2" y="399.9" width="9.2" height="9.2" fill="#fda648"/><rect x="232.2" y="399.9" width="9.2" height="9.2" fill="#fdab4b"/><rect x="241.1" y="399.9" width="18.2" height="9.2" fill="#fca146"/><rect x="259.0" y="399.9" width="9.2" height="9.2" fill="#fda648"/><rect x="268.0" y="399.9" width="9.2" height="9.2" fill="#fdab4b"/><rect x="276.9" y="399.9" width="18.2" height="9.2" fill="#fda648"/><rect x="294.8" y="399.9" width="9.2" height="9.2" fill="#fdab4b"/><rect x="303.8" y="399.9" width="9.2" height="9.2" fill="#fda648"/><rect x="312.8" y="399.9" width="18.2" height="9.2" fill="#fdab4b"/><rect x="330.6" y="399.9" width="9.2" height="9.2" fill="#fdb454"/><rect x="339.6" y="399.9" width="9.2" height="9.2" fill="#fdb04f"/><rect x="348.5" y="399.9" width="9.2" height="9.2" fill="#fdb454"/><rect x="357.5" y="399.9" width="9.2" height="9.2" fill="#fdb958"/><rect x="366.4" y="399.9" width="9.2" height="9.2" fill="#fdb454"/><rect x="375.4" y="399.9" width="45.0" height="9.2" fill="#fdbd5c"/><rect x="420.1" y="399.9" width="9.2" height="9.2" fill="#fec260"/><rect x="429.1" y="399.9" width="18.2" height="9.2" fill="#fec765"/><rect x="447.0" y="399.9" width="18.2" height="9.2" fill="#fecb69"/><rect x="464.9" y="399.9" width="9.2" height="9.2" fill="#fed06d"/><rect x="473.8" y="399.9" width="9.2" height="9.2" fill="#fecb69"/><rect x="482.8" y="399.9" width="9.2" height="9.2" fill="#fec765"/><rect x="491.7" y="399.9" width="9.2" height="9.2" fill="#fdbd5c"/><rect x="948.2" y="399.9" width="18.2" height="9.2" fill="#fffeb4"/><rect x="966.1" y="399.9" width="18.2" height="9.2" fill="#ffffb5"/><rect x="984.0" y="399.9" width="9.2" height="9.2" fill="#fffdb3"/><rect x="992.9" y="399.9" width="18.2" height="9.2" fill="#fffcb2"/><rect x="1010.8" y="399.9" width="9.2" height="9.2" fill="#fffbb1"/><rect x="1019.8" y="399.9" width="9.2" height="9.2" fill="#fff3a4"/><rect x="1028.8" y="399.9" width="9.2" height="9.2" fill="#fff7aa"/><rect x="1037.7" y="399.9" width="9.2" height="9.2" fill="#fffab0"/><rect x="1046.6" y="399.9" width="9.2" height="9.2" fill="#fff7aa"/><rect x="1055.6" y="399.9" width="9.2" height="9.2" fill="#fff09f"/><rect x="1064.5" y="399.9" width="18.2" height="9.2" fill="#fff3a4"/><rect x="187.4" y="408.8" width="9.2" height="9.2" fill="#fb923e"/><rect x="196.4" y="408.8" width="9.2" height="9.2" fill="#fb9741"/><rect x="205.3" y="408.8" width="9.2" height="9.2" fill="#fca146"/><rect x="214.3" y="408.8" width="9.2" height="9.2" fill="#fda648"/><rect x="223.2" y="408.8" width="9.2" height="9.2" fill="#fdab4b"/><rect x="232.2" y="408.8" width="9.2" height="9.2" fill="#fda648"/><rect x="241.1" y="408.8" width="36.1" height="9.2" fill="#fca146"/><rect x="276.9" y="408.8" width="9.2" height="9.2" fill="#fc9c44"/><rect x="285.9" y="408.8" width="18.2" height="9.2" fill="#fb9741"/><rect x="303.8" y="408.8" width="9.2" height="9.2" fill="#fc9c44"/><rect x="312.8" y="408.8" width="9.2" height="9.2" fill="#fca146"/><rect x="321.7" y="408.8" width="18.2" height="9.2" fill="#fda648"/><rect x="339.6" y="408.8" width="18.2" height="9.2" fill="#fdb04f"/><rect x="357.5" y="408.8" width="9.2" height="9.2" fill="#fdb958"/><rect x="366.4" y="408.8" width="9.2" height="9.2" fill="#fdb454"/><rect x="375.4" y="408.8" width="18.2" height="9.2" fill="#fdbd5c"/><rect x="393.3" y="408.8" width="18.2" height="9.2" fill="#fec260"/><rect x="411.2" y="408.8" width="9.2" height="9.2" fill="#fdbd5c"/><rect x="420.1" y="408.8" width="27.1" height="9.2" fill="#fec260"/><rect x="447.0" y="408.8" width="9.2" height="9.2" fill="#fdbd5c"/><rect x="455.9" y="408.8" width="9.2" height="9.2" fill="#fec260"/><rect x="464.9" y="408.8" width="9.2" height="9.2" fill="#fec765"/><rect x="473.8" y="408.8" width="9.2" height="9.2" fill="#fdbd5c"/><rect x="482.8" y="408.8" width="9.2" height="9.2" fill="#fdb958"/><rect x="491.7" y="408.8" width="18.2" height="9.2" fill="#fdb04f"/><rect x="509.6" y="408.8" width="9.2" height="9.2" fill="#fda648"/><rect x="930.3" y="408.8" width="9.2" height="9.2" fill="#ffffb5"/><rect x="939.2" y="408.8" width="36.1" height="9.2" fill="#fffeb4"/><rect x="975.0" y="408.8" width="9.2" height="9.2" fill="#fffdb3"/><rect x="984.0" y="408.8" width="9.2" height="9.2" fill="#fffcb2"/><rect x="992.9" y="408.8" width="9.2" height="9.2" fill="#fff7aa"/><rect x="1001.9" y="408.8" width="9.2" height="9.2" fill="#fff3a4"/><rect x="1010.8" y="408.8" width="9.2" height="9.2" fill="#fee387"/><rect x="1019.8" y="408.8" width="27.1" height="9.2" fill="#fee082"/><rect x="1046.6" y="408.8" width="9.2" height="9.2" fill="#fecb69"/><rect x="1055.6" y="408.8" width="9.2" height="9.2" fill="#fec765"/><rect x="1064.5" y="408.8" width="9.2" height="9.2" fill="#fed976"/><rect x="1073.5" y="408.8" width="9.2" height="9.2" fill="#fff3a4"/><rect x="1082.4" y="408.8" width="9.2" height="9.2" fill="#fff7aa"/><rect x="1091.4" y="408.8" width="9.2" height="9.2" fill="#fffab0"/><rect x="133.8" y="417.8" width="9.2" height="9.2" fill="#f97a32"/><rect x="169.5" y="417.8" width="9.2" height="9.2" fill="#fb8e3c"/><rect x="178.5" y="417.8" width="36.1" height="9.2" fill="#fb9741"/><rect x="214.3" y="417.8" width="9.2" height="9.2" fill="#fc9c44"/><rect x="223.2" y="417.8" width="9.2" height="9.2" fill="#fca146"/><rect x="232.2" y="417.8" width="9.2" height="9.2" fill="#fda648"/><rect x="241.1" y="417.8" width="9.2" height="9.2" fill="#fc9c44"/><rect x="250.1" y="417.8" width="18.2" height="9.2" fill="#fb9741"/><rect x="268.0" y="417.8" width="9.2" height="9.2" fill="#fb923e"/><rect x="276.9" y="417.8" width="9.2" height="9.2" fill="#fb8e3c"/><rect x="285.9" y="417.8" width="9.2" height="9.2" fill="#fa893a"/><rect x="294.8" y="417.8" width="9.2" height="9.2" fill="#fb8e3c"/><rect x="303.8" y="417.8" width="9.2" height="9.2" fill="#fb9741"/><rect x="312.8" y="417.8" width="9.2" height="9.2" fill="#fc9c44"/><rect x="321.7" y="417.8" width="27.1" height="9.2" fill="#fca146"/><rect x="348.5" y="417.8" width="9.2" height="9.2" fill="#fdab4b"/><rect x="357.5" y="417.8" width="18.2" height="9.2" fill="#fdb04f"/><rect x="375.4" y="417.8" width="9.2" height="9.2" fill="#fdb958"/><rect x="384.3" y="417.8" width="9.2" height="9.2" fill="#fdbd5c"/><rect x="393.3" y="417.8" width="9.2" height="9.2" fill="#fec260"/><rect x="402.2" y="417.8" width="9.2" height="9.2" fill="#fdbd5c"/><rect x="411.2" y="417.8" width="36.1" height="9.2" fill="#fec260"/><rect x="447.0" y="417.8" width="18.2" height="9.2" fill="#fdbd5c"/><rect x="464.9" y="417.8" width="9.2" height="9.2" fill="#fec260"/><rect x="473.8" y="417.8" width="9.2" height="9.2" fill="#fdbd5c"/><rect x="482.8" y="417.8" width="18.2" height="9.2" fill="#fdb454"/><rect x="500.7" y="417.8" width="9.2" height="9.2" fill="#fdb04f"/><rect x="509.6" y="417.8" width="18.2" height="9.2" fill="#fc9c44"/><rect x="527.5" y="417.8" width="9.2" height="9.2" fill="#fb8e3c"/><rect x="769.2" y="417.8" width="27.1" height="9.2" fill="#ffffb5"/><rect x="930.3" y="417.8" width="9.2" height="9.2" fill="#fffdb3"/><rect x="939.2" y="417.8" width="9.2" height="9.2" fill="#fffeb4"/><rect x="948.2" y="417.8" width="9.2" height="9.2" fill="#fffdb3"/><rect x="957.1" y="417.8" width="9.2" height="9.2" fill="#fffcb2"/><rect x="966.1" y="417.8" width="18.2" height="9.2" fill="#fffbb1"/><rect x="984.0" y="417.8" width="9.2" height="9.2" fill="#fff3a4"/><rect x="992.9" y="417.8" width="9.2" height="9.2" fill="#feea93"/><rect x="1001.9" y="417.8" width="9.2" height="9.2" fill="#fedc7c"/><rect x="1010.8" y="417.8" width="9.2" height="9.2" fill="#fecb69"/><rect x="1019.8" y="417.8" width="9.2" height="9.2" fill="#fec260"/><rect x="1028.8" y="417.8" width="9.2" height="9.2" fill="#fdb958"/><rect x="1037.7" y="417.8" width="9.2" height="9.2" fill="#fda648"/><rect x="1046.6" y="417.8" width="9.2" height="9.2" fill="#fdab4b"/><rect x="1055.6" y="417.8" width="9.2" height="9.2" fill="#fdb454"/><rect x="1064.5" y="417.8" width="9.2" height="9.2" fill="#fed06d"/><rect x="1073.5" y="417.8" width="9.2" height="9.2" fill="#feea93"/><rect x="1082.4" y="417.8" width="9.2" height="9.2" fill="#fffab0"/><rect x="124.8" y="426.7" width="9.2" height="9.2" fill="#f97a32"/><rect x="133.8" y="426.7" width="9.2" height="9.2" fill="#f66b2e"/><rect x="142.7" y="426.7" width="9.2" height="9.2" fill="#f77330"/><rect x="151.6" y="426.7" width="9.2" height="9.2" fill="#f97f34"/><rect x="160.6" y="426.7" width="9.2" height="9.2" fill="#fa893a"/><rect x="169.5" y="426.7" width="9.2" height="9.2" fill="#fa8437"/><rect x="178.5" y="426.7" width="9.2" height="9.2" fill="#fb8e3c"/><rect x="187.4" y="426.7" width="9.2" height="9.2" fill="#fa893a"/><rect x="196.4" y="426.7" width="18.2" height="9.2" fill="#fb8e3c"/><rect x="214.3" y="426.7" width="9.2" height="9.2" fill="#fb9741"/><rect x="223.2" y="426.7" width="9.2" height="9.2" fill="#fb923e"/><rect x="232.2" y="426.7" width="9.2" height="9.2" fill="#fb9741"/><rect x="241.1" y="426.7" width="9.2" height="9.2" fill="#fb923e"/><rect x="250.1" y="426.7" width="9.2" height="9.2" fill="#fa893a"/><rect x="259.0" y="426.7" width="9.2" height="9.2" fill="#f97f34"/><rect x="268.0" y="426.7" width="27.1" height="9.2" fill="#fa8437"/><rect x="294.8" y="426.7" width="9.2" height="9.2" fill="#fa893a"/><rect x="303.8" y="426.7" width="9.2" height="9.2" fill="#fb8e3c"/><rect x="312.8" y="426.7" width="9.2" height="9.2" fill="#fb9741"/><rect x="321.7" y="426.7" width="9.2" height="9.2" fill="#fc9c44"/><rect x="330.6" y="426.7" width="18.2" height="9.2" fill="#fb9741"/><rect x="348.5" y="426.7" width="27.1" height="9.2" fill="#fca146"/><rect x="375.4" y="426.7" width="9.2" height="9.2" fill="#fdb04f"/><rect x="384.3" y="426.7" width="9.2" height="9.2" fill="#fdb454"/><rect x="393.3" y="426.7" width="71.9" height="9.2" fill="#fec260"/><rect x="464.9" y="426.7" width="18.2" height="9.2" fill="#fdbd5c"/><rect x="482.8" y="426.7" width="18.2" height="9.2" fill="#fdb454"/><rect x="500.7" y="426.7" width="9.2" height="9.2" fill="#fda648"/><rect x="509.6" y="426.7" width="9.2" height="9.2" fill="#fc9c44"/><rect x="518.6" y="426.7" width="9.2" height="9.2" fill="#fb9741"/><rect x="527.5" y="426.7" width="9.2" height="9.2" fill="#fb8e3c"/><rect x="536.5" y="426.7" width="9.2" height="9.2" fill="#fa893a"/><rect x="545.4" y="426.7" width="18.2" height="9.2" fill="#fa8437"/><rect x="769.2" y="426.7" width="27.1" height="9.2" fill="#fffeb4"/><rect x="894.5" y="426.7" width="18.2" height="9.2" fill="#ffffb5"/><rect x="912.4" y="426.7" width="9.2" height="9.2" fill="#fffdb3"/><rect x="921.3" y="426.7" width="9.2" height="9.2" fill="#fffbb1"/><rect x="930.3" y="426.7" width="18.2" height="9.2" fill="#fffab0"/><rect x="948.2" y="426.7" width="9.2" height="9.2" fill="#fffbb1"/><rect x="957.1" y="426.7" width="9.2" height="9.2" fill="#fffab0"/><rect x="966.1" y="426.7" width="9.2" height="9.2" fill="#fff3a4"/><rect x="975.0" y="426.7" width="9.2" height="9.2" fill="#ffed99"/><rect x="984.0" y="426.7" width="9.2" height="9.2" fill="#fee387"/><rect x="992.9" y="426.7" width="9.2" height="9.2" fill="#fec765"/><rect x="1001.9" y="426.7" width="9.2" height="9.2" fill="#fdb454"/><rect x="1010.8" y="426.7" width="18.2" height="9.2" fill="#fc9c44"/><rect x="1028.8" y="426.7" width="18.2" height="9.2" fill="#fb923e"/><rect x="1046.6" y="426.7" width="9.2" height="9.2" fill="#fc9c44"/><rect x="1055.6" y="426.7" width="9.2" height="9.2" fill="#fdab4b"/><rect x="1064.5" y="426.7" width="9.2" height="9.2" fill="#fecb69"/><rect x="1073.5" y="426.7" width="9.2" height="9.2" fill="#fee387"/><rect x="115.8" y="435.7" width="9.2" height="9.2" fill="#f97a32"/><rect x="124.8" y="435.7" width="18.2" height="9.2" fill="#f66b2e"/><rect x="142.7" y="435.7" width="18.2" height="9.2" fill="#f97a32"/><rect x="160.6" y="435.7" width="9.2" height="9.2" fill="#f97f34"/><rect x="169.5" y="435.7" width="18.2" height="9.2" fill="#fa893a"/><rect x="187.4" y="435.7" width="9.2" height="9.2" fill="#fa8437"/><rect x="196.4" y="435.7" width="9.2" height="9.2" fill="#fb8e3c"/><rect x="205.3" y="435.7" width="9.2" height="9.2" fill="#fa8437"/><rect x="214.3" y="435.7" width="9.2" height="9.2" fill="#fa893a"/><rect x="223.2" y="435.7" width="9.2" height="9.2" fill="#fa8437"/><rect x="232.2" y="435.7" width="9.2" height="9.2" fill="#fa893a"/><rect x="241.1" y="435.7" width="9.2" height="9.2" fill="#fa8437"/><rect x="250.1" y="435.7" width="9.2" height="9.2" fill="#f97a32"/><rect x="259.0" y="435.7" width="9.2" height="9.2" fill="#f97f34"/><rect x="268.0" y="435.7" width="18.2" height="9.2" fill="#f97a32"/><rect x="285.9" y="435.7" width="9.2" height="9.2" fill="#fa8437"/><rect x="294.8" y="435.7" width="9.2" height="9.2" fill="#fa893a"/><rect x="303.8" y="435.7" width="9.2" height="9.2" fill="#fb8e3c"/><rect x="312.8" y="435.7" width="9.2" height="9.2" fill="#fb923e"/><rect x="321.7" y="435.7" width="9.2" height="9.2" fill="#fb8e3c"/><rect x="330.6" y="435.7" width="18.2" height="9.2" fill="#fb923e"/><rect x="348.5" y="435.7" width="9.2" height="9.2" fill="#fc9c44"/><rect x="357.5" y="435.7" width="9.2" height="9.2" fill="#fb9741"/><rect x="366.4" y="435.7" width="18.2" height="9.2" fill="#fca146"/><rect x="384.3" y="435.7" width="9.2" height="9.2" fill="#fdb04f"/><rect x="393.3" y="435.7" width="9.2" height="9.2" fill="#fec260"/><rect x="402.2" y="435.7" width="9.2" height="9.2" fill="#fdbd5c"/><rect x="411.2" y="435.7" width="18.2" height="9.2" fill="#fec260"/><rect x="429.1" y="435.7" width="9.2" height="9.2" fill="#fdbd5c"/><rect x="438.0" y="435.7" width="9.2" height="9.2" fill="#fec765"/><rect x="447.0" y="435.7" width="27.1" height="9.2" fill="#fdbd5c"/><rect x="473.8" y="435.7" width="18.2" height="9.2" fill="#fdb454"/><rect x="491.7" y="435.7" width="9.2" height="9.2" fill="#fda648"/><rect x="500.7" y="435.7" width="9.2" height="9.2" fill="#fca146"/><rect x="509.6" y="435.7" width="9.2" height="9.2" fill="#fc9c44"/><rect x="518.6" y="435.7" width="9.2" height="9.2" fill="#fb923e"/><rect x="527.5" y="435.7" width="18.2" height="9.2" fill="#fb8e3c"/><rect x="545.4" y="435.7" width="9.2" height="9.2" fill="#f97f34"/><rect x="554.4" y="435.7" width="9.2" height="9.2" fill="#fa8437"/><rect x="563.3" y="435.7" width="18.2" height="9.2" fill="#f77330"/><rect x="581.2" y="435.7" width="9.2" height="9.2" fill="#f4642c"/><rect x="590.2" y="435.7" width="18.2" height="9.2" fill="#ef4e27"/><rect x="608.1" y="435.7" width="9.2" height="9.2" fill="#ed4625"/><rect x="760.2" y="435.7" width="27.1" height="9.2" fill="#fffcb2"/><rect x="787.1" y="435.7" width="9.2" height="9.2" fill="#fffab0"/><rect x="903.4" y="435.7" width="9.2" height="9.2" fill="#fffeb4"/><rect x="912.4" y="435.7" width="9.2" height="9.2" fill="#fffcb2"/><rect x="921.3" y="435.7" width="9.2" height="9.2" fill="#fffab0"/><rect x="930.3" y="435.7" width="18.2" height="9.2" fill="#feea93"/><rect x="948.2" y="435.7" width="9.2" height="9.2" fill="#ffed99"/><rect x="957.1" y="435.7" width="9.2" height="9.2" fill="#feea93"/><rect x="966.1" y="435.7" width="9.2" height="9.2" fill="#fee387"/><rect x="975.0" y="435.7" width="9.2" height="9.2" fill="#fed06d"/><rect x="984.0" y="435.7" width="9.2" height="9.2" fill="#fdb04f"/><rect x="992.9" y="435.7" width="9.2" height="9.2" fill="#fb9741"/><rect x="1001.9" y="435.7" width="9.2" height="9.2" fill="#fb8e3c"/><rect x="1010.8" y="435.7" width="27.1" height="9.2" fill="#fb923e"/><rect x="1037.7" y="435.7" width="18.2" height="9.2" fill="#fc9c44"/><rect x="1055.6" y="435.7" width="9.2" height="9.2" fill="#fdb04f"/><rect x="1064.5" y="435.7" width="9.2" height="9.2" fill="#fecb69"/><rect x="1073.5" y="435.7" width="9.2" height="9.2" fill="#fee68d"/><rect x="106.9" y="444.6" width="27.1" height="9.2" fill="#f97a32"/><rect x="133.8" y="444.6" width="18.2" height="9.2" fill="#f77330"/><rect x="151.6" y="444.6" width="9.2" height="9.2" fill="#f97a32"/><rect x="160.6" y="444.6" width="9.2" height="9.2" fill="#f97f34"/><rect x="169.5" y="444.6" width="9.2" height="9.2" fill="#fa8437"/><rect x="178.5" y="444.6" width="9.2" height="9.2" fill="#fa893a"/><rect x="187.4" y="444.6" width="27.1" height="9.2" fill="#fa8437"/><rect x="214.3" y="444.6" width="18.2" height="9.2" fill="#f97f34"/><rect x="232.2" y="444.6" width="9.2" height="9.2" fill="#f97a32"/><rect x="241.1" y="444.6" width="18.2" height="9.2" fill="#f97f34"/><rect x="259.0" y="444.6" width="9.2" height="9.2" fill="#f77330"/><rect x="268.0" y="444.6" width="9.2" height="9.2" fill="#f97a32"/><rect x="276.9" y="444.6" width="9.2" height="9.2" fill="#f77330"/><rect x="285.9" y="444.6" width="9.2" height="9.2" fill="#f97f34"/><rect x="294.8" y="444.6" width="9.2" height="9.2" fill="#fa8437"/><rect x="303.8" y="444.6" width="9.2" height="9.2" fill="#fb8e3c"/><rect x="312.8" y="444.6" width="9.2" height="9.2" fill="#fa893a"/><rect x="321.7" y="444.6" width="27.1" height="9.2" fill="#fb923e"/><rect x="348.5" y="444.6" width="27.1" height="9.2" fill="#fc9c44"/><rect x="375.4" y="444.6" width="9.2" height="9.2" fill="#fca146"/><rect x="384.3" y="444.6" width="9.2" height="9.2" fill="#fdb04f"/><rect x="393.3" y="444.6" width="9.2" height="9.2" fill="#fdb958"/><rect x="402.2" y="444.6" width="27.1" height="9.2" fill="#fec260"/><rect x="429.1" y="444.6" width="9.2" height="9.2" fill="#fec765"/><rect x="438.0" y="444.6" width="27.1" height="9.2" fill="#fdbd5c"/><rect x="464.9" y="444.6" width="9.2" height="9.2" fill="#fec260"/><rect x="473.8" y="444.6" width="9.2" height="9.2" fill="#fdb04f"/><rect x="482.8" y="444.6" width="18.2" height="9.2" fill="#fdab4b"/><rect x="500.7" y="444.6" width="9.2" height="9.2" fill="#fca146"/><rect x="509.6" y="444.6" width="9.2" height="9.2" fill="#fc9c44"/><rect x="518.6" y="444.6" width="9.2" height="9.2" fill="#fb9741"/><rect x="527.5" y="444.6" width="9.2" height="9.2" fill="#fb923e"/><rect x="536.5" y="444.6" width="9.2" height="9.2" fill="#fa893a"/><rect x="545.4" y="444.6" width="9.2" height="9.2" fill="#fa8437"/><rect x="554.4" y="444.6" width="9.2" height="9.2" fill="#f97f34"/><rect x="563.3" y="444.6" width="9.2" height="9.2" fill="#f77330"/><rect x="572.3" y="444.6" width="9.2" height="9.2" fill="#f66b2e"/><rect x="581.2" y="444.6" width="9.2" height="9.2" fill="#f25c2a"/><rect x="590.2" y="444.6" width="9.2" height="9.2" fill="#f05528"/><rect x="599.1" y="444.6" width="9.2" height="9.2" fill="#ef4e27"/><rect x="608.1" y="444.6" width="9.2" height="9.2" fill="#ed4625"/><rect x="617.0" y="444.6" width="9.2" height="9.2" fill="#eb3f23"/><rect x="626.0" y="444.6" width="18.2" height="9.2" fill="#e8301f"/><rect x="760.2" y="444.6" width="9.2" height="9.2" fill="#fffab0"/><rect x="769.2" y="444.6" width="9.2" height="9.2" fill="#fff09f"/><rect x="778.1" y="444.6" width="9.2" height="9.2" fill="#fee68d"/><rect x="787.1" y="444.6" width="9.2" height="9.2" fill="#fee082"/><rect x="912.4" y="444.6" width="9.2" height="9.2" fill="#fffab0"/><rect x="921.3" y="444.6" width="9.2" height="9.2" fill="#fff3a4"/><rect x="930.3" y="444.6" width="9.2" height="9.2" fill="#fee68d"/><rect x="939.2" y="444.6" width="9.2" height="9.2" fill="#fee387"/><rect x="948.2" y="444.6" width="9.2" height="9.2" fill="#fedc7c"/><rect x="957.1" y="444.6" width="9.2" height="9.2" fill="#fed06d"/><rect x="966.1" y="444.6" width="9.2" height="9.2" fill="#fdab4b"/><rect x="975.0" y="444.6" width="9.2" height="9.2" fill="#fb923e"/><rect x="984.0" y="444.6" width="9.2" height="9.2" fill="#fa8437"/><rect x="992.9" y="444.6" width="9.2" height="9.2" fill="#fa893a"/><rect x="1001.9" y="444.6" width="9.2" height="9.2" fill="#fb923e"/><rect x="1010.8" y="444.6" width="9.2" height="9.2" fill="#fc9c44"/><rect x="1019.8" y="444.6" width="18.2" height="9.2" fill="#fda648"/><rect x="1037.7" y="444.6" width="9.2" height="9.2" fill="#fca146"/><rect x="1082.4" y="444.6" width="9.2" height="9.2" fill="#fffab0"/><rect x="106.9" y="453.6" width="9.2" height="9.2" fill="#f97a32"/><rect x="115.8" y="453.6" width="18.2" height="9.2" fill="#f77330"/><rect x="133.8" y="453.6" width="9.2" height="9.2" fill="#f66b2e"/><rect x="142.7" y="453.6" width="18.2" height="9.2" fill="#f97a32"/><rect x="160.6" y="453.6" width="9.2" height="9.2" fill="#f97f34"/><rect x="169.5" y="453.6" width="18.2" height="9.2" fill="#fa8437"/><rect x="187.4" y="453.6" width="9.2" height="9.2" fill="#f97f34"/><rect x="196.4" y="453.6" width="9.2" height="9.2" fill="#fa8437"/><rect x="205.3" y="453.6" width="9.2" height="9.2" fill="#f97a32"/><rect x="214.3" y="453.6" width="9.2" height="9.2" fill="#f97f34"/><rect x="223.2" y="453.6" width="18.2" height="9.2" fill="#fa8437"/><rect x="241.1" y="453.6" width="9.2" height="9.2" fill="#f97a32"/><rect x="250.1" y="453.6" width="9.2" height="9.2" fill="#f97f34"/><rect x="259.0" y="453.6" width="27.1" height="9.2" fill="#f97a32"/><rect x="285.9" y="453.6" width="9.2" height="9.2" fill="#f77330"/><rect x="294.8" y="453.6" width="9.2" height="9.2" fill="#f97a32"/><rect x="303.8" y="453.6" width="9.2" height="9.2" fill="#fa8437"/><rect x="312.8" y="453.6" width="9.2" height="9.2" fill="#fa893a"/><rect x="321.7" y="453.6" width="18.2" height="9.2" fill="#fb923e"/><rect x="339.6" y="453.6" width="9.2" height="9.2" fill="#fb9741"/><rect x="348.5" y="453.6" width="9.2" height="9.2" fill="#fb923e"/><rect x="357.5" y="453.6" width="9.2" height="9.2" fill="#fb9741"/><rect x="366.4" y="453.6" width="9.2" height="9.2" fill="#fc9c44"/><rect x="375.4" y="453.6" width="9.2" height="9.2" fill="#fdab4b"/><rect x="384.3" y="453.6" width="18.2" height="9.2" fill="#fdb454"/><rect x="402.2" y="453.6" width="9.2" height="9.2" fill="#fdb958"/><rect x="411.2" y="453.6" width="18.2" height="9.2" fill="#fec260"/><rect x="429.1" y="453.6" width="18.2" height="9.2" fill="#fec765"/><rect x="447.0" y="453.6" width="18.2" height="9.2" fill="#fdbd5c"/><rect x="464.9" y="453.6" width="9.2" height="9.2" fill="#fdb958"/><rect x="473.8" y="453.6" width="9.2" height="9.2" fill="#fdb04f"/><rect x="482.8" y="453.6" width="27.1" height="9.2" fill="#fdab4b"/><rect x="509.6" y="453.6" width="9.2" height="9.2" fill="#fca146"/><rect x="518.6" y="453.6" width="9.2" height="9.2" fill="#fb923e"/><rect x="527.5" y="453.6" width="9.2" height="9.2" fill="#fb8e3c"/><rect x="536.5" y="453.6" width="9.2" height="9.2" fill="#fa893a"/><rect x="545.4" y="453.6" width="18.2" height="9.2" fill="#f97f34"/><rect x="563.3" y="453.6" width="9.2" height="9.2" fill="#f97a32"/><rect x="572.3" y="453.6" width="9.2" height="9.2" fill="#f77330"/><rect x="581.2" y="453.6" width="9.2" height="9.2" fill="#f25c2a"/><rect x="590.2" y="453.6" width="9.2" height="9.2" fill="#f05528"/><rect x="599.1" y="453.6" width="9.2" height="9.2" fill="#ef4e27"/><rect x="608.1" y="453.6" width="18.2" height="9.2" fill="#ea3721"/><rect x="626.0" y="453.6" width="18.2" height="9.2" fill="#e22b20"/><rect x="643.9" y="453.6" width="9.2" height="9.2" fill="#ea3721"/><rect x="652.8" y="453.6" width="18.2" height="9.2" fill="#e8301f"/><rect x="769.2" y="453.6" width="9.2" height="9.2" fill="#fed472"/><rect x="778.1" y="453.6" width="9.2" height="9.2" fill="#fecb69"/><rect x="787.1" y="453.6" width="9.2" height="9.2" fill="#fdb958"/><rect x="796.0" y="453.6" width="9.2" height="9.2" fill="#fda648"/><rect x="903.4" y="453.6" width="9.2" height="9.2" fill="#fecb69"/><rect x="912.4" y="453.6" width="18.2" height="9.2" fill="#fed06d"/><rect x="930.3" y="453.6" width="9.2" height="9.2" fill="#fec765"/><rect x="939.2" y="453.6" width="9.2" height="9.2" fill="#fecb69"/><rect x="948.2" y="453.6" width="9.2" height="9.2" fill="#fdb04f"/><rect x="957.1" y="453.6" width="9.2" height="9.2" fill="#fb9741"/><rect x="966.1" y="453.6" width="9.2" height="9.2" fill="#fa8437"/><rect x="975.0" y="453.6" width="9.2" height="9.2" fill="#f97f34"/><rect x="984.0" y="453.6" width="9.2" height="9.2" fill="#fb8e3c"/><rect x="992.9" y="453.6" width="9.2" height="9.2" fill="#fc9c44"/><rect x="1001.9" y="453.6" width="9.2" height="9.2" fill="#fdb454"/><rect x="1010.8" y="453.6" width="18.2" height="9.2" fill="#fec765"/><rect x="1028.8" y="453.6" width="9.2" height="9.2" fill="#fdb958"/><rect x="106.9" y="462.5" width="9.2" height="9.2" fill="#f97a32"/><rect x="115.8" y="462.5" width="9.2" height="9.2" fill="#f66b2e"/><rect x="124.8" y="462.5" width="9.2" height="9.2" fill="#f77330"/><rect x="133.8" y="462.5" width="9.2" height="9.2" fill="#f66b2e"/><rect x="142.7" y="462.5" width="9.2" height="9.2" fill="#f77330"/><rect x="151.6" y="462.5" width="18.2" height="9.2" fill="#f97a32"/><rect x="169.5" y="462.5" width="18.2" height="9.2" fill="#f97f34"/><rect x="187.4" y="462.5" width="18.2" height="9.2" fill="#f97a32"/><rect x="205.3" y="462.5" width="18.2" height="9.2" fill="#f66b2e"/><rect x="223.2" y="462.5" width="9.2" height="9.2" fill="#f77330"/><rect x="232.2" y="462.5" width="9.2" height="9.2" fill="#f97a32"/><rect x="241.1" y="462.5" width="18.2" height="9.2" fill="#f97f34"/><rect x="259.0" y="462.5" width="9.2" height="9.2" fill="#f97a32"/><rect x="268.0" y="462.5" width="9.2" height="9.2" fill="#f66b2e"/><rect x="276.9" y="462.5" width="9.2" height="9.2" fill="#f97a32"/><rect x="285.9" y="462.5" width="9.2" height="9.2" fill="#f77330"/><rect x="294.8" y="462.5" width="9.2" height="9.2" fill="#f97f34"/><rect x="303.8" y="462.5" width="9.2" height="9.2" fill="#fa8437"/><rect x="312.8" y="462.5" width="18.2" height="9.2" fill="#fa893a"/><rect x="330.6" y="462.5" width="9.2" height="9.2" fill="#fb923e"/><rect x="339.6" y="462.5" width="18.2" height="9.2" fill="#fb9741"/><rect x="357.5" y="462.5" width="9.2" height="9.2" fill="#fca146"/><rect x="366.4" y="462.5" width="9.2" height="9.2" fill="#fda648"/><rect x="375.4" y="462.5" width="9.2" height="9.2" fill="#fdab4b"/><rect x="384.3" y="462.5" width="9.2" height="9.2" fill="#fdb454"/><rect x="393.3" y="462.5" width="18.2" height="9.2" fill="#fdb958"/><rect x="411.2" y="462.5" width="9.2" height="9.2" fill="#fdbd5c"/><rect x="420.1" y="462.5" width="18.2" height="9.2" fill="#fec260"/><rect x="438.0" y="462.5" width="36.1" height="9.2" fill="#fdbd5c"/><rect x="473.8" y="462.5" width="9.2" height="9.2" fill="#fdb958"/><rect x="482.8" y="462.5" width="9.2" height="9.2" fill="#fdb04f"/><rect x="491.7" y="462.5" width="18.2" height="9.2" fill="#fdab4b"/><rect x="509.6" y="462.5" width="9.2" height="9.2" fill="#fca146"/><rect x="518.6" y="462.5" width="9.2" height="9.2" fill="#fb8e3c"/><rect x="527.5" y="462.5" width="18.2" height="9.2" fill="#fa893a"/><rect x="545.4" y="462.5" width="9.2" height="9.2" fill="#fa8437"/><rect x="554.4" y="462.5" width="9.2" height="9.2" fill="#f97a32"/><rect x="563.3" y="462.5" width="18.2" height="9.2" fill="#f77330"/><rect x="581.2" y="462.5" width="9.2" height="9.2" fill="#f4642c"/><rect x="590.2" y="462.5" width="9.2" height="9.2" fill="#ef4e27"/><rect x="599.1" y="462.5" width="9.2" height="9.2" fill="#ed4625"/><rect x="608.1" y="462.5" width="18.2" height="9.2" fill="#ea3721"/><rect x="626.0" y="462.5" width="18.2" height="9.2" fill="#e8301f"/><rect x="643.9" y="462.5" width="18.2" height="9.2" fill="#e22b20"/><rect x="661.8" y="462.5" width="9.2" height="9.2" fill="#e8301f"/><rect x="670.8" y="462.5" width="9.2" height="9.2" fill="#e22b20"/><rect x="769.2" y="462.5" width="9.2" height="9.2" fill="#fdb958"/><rect x="778.1" y="462.5" width="9.2" height="9.2" fill="#fdb04f"/><rect x="787.1" y="462.5" width="9.2" height="9.2" fill="#fc9c44"/><rect x="796.0" y="462.5" width="9.2" height="9.2" fill="#fb923e"/><rect x="805.0" y="462.5" width="9.2" height="9.2" fill="#fa893a"/><rect x="813.9" y="462.5" width="9.2" height="9.2" fill="#fa8437"/><rect x="822.9" y="462.5" width="9.2" height="9.2" fill="#fa893a"/><rect x="831.8" y="462.5" width="9.2" height="9.2" fill="#fa8437"/><rect x="840.8" y="462.5" width="27.1" height="9.2" fill="#fa893a"/><rect x="867.6" y="462.5" width="9.2" height="9.2" fill="#fb8e3c"/><rect x="876.6" y="462.5" width="27.1" height="9.2" fill="#fa893a"/><rect x="903.4" y="462.5" width="27.1" height="9.2" fill="#fb8e3c"/><rect x="930.3" y="462.5" width="9.2" height="9.2" fill="#fb923e"/><rect x="939.2" y="462.5" width="9.2" height="9.2" fill="#fb8e3c"/><rect x="948.2" y="462.5" width="9.2" height="9.2" fill="#fa8437"/><rect x="957.1" y="462.5" width="9.2" height="9.2" fill="#f97a32"/><rect x="966.1" y="462.5" width="9.2" height="9.2" fill="#f97f34"/><rect x="975.0" y="462.5" width="9.2" height="9.2" fill="#fa893a"/><rect x="984.0" y="462.5" width="9.2" height="9.2" fill="#fb9741"/><rect x="992.9" y="462.5" width="9.2" height="9.2" fill="#fdb04f"/><rect x="1001.9" y="462.5" width="9.2" height="9.2" fill="#fec765"/><rect x="1010.8" y="462.5" width="9.2" height="9.2" fill="#fed976"/><rect x="1019.8" y="462.5" width="9.2" height="9.2" fill="#fed472"/><rect x="124.8" y="471.5" width="9.2" height="9.2" fill="#f25c2a"/><rect x="133.8" y="471.5" width="18.2" height="9.2" fill="#f4642c"/><rect x="151.6" y="471.5" width="45.0" height="9.2" fill="#f66b2e"/><rect x="196.4" y="471.5" width="9.2" height="9.2" fill="#f4642c"/><rect x="205.3" y="471.5" width="9.2" height="9.2" fill="#f66b2e"/><rect x="214.3" y="471.5" width="9.2" height="9.2" fill="#f4642c"/><rect x="223.2" y="471.5" width="9.2" height="9.2" fill="#f66b2e"/><rect x="232.2" y="471.5" width="9.2" height="9.2" fill="#f97a32"/><rect x="241.1" y="471.5" width="9.2" height="9.2" fill="#f97f34"/><rect x="250.1" y="471.5" width="9.2" height="9.2" fill="#fa8437"/><rect x="259.0" y="471.5" width="9.2" height="9.2" fill="#f97f34"/><rect x="268.0" y="471.5" width="9.2" height="9.2" fill="#f97a32"/><rect x="276.9" y="471.5" width="9.2" height="9.2" fill="#f77330"/><rect x="285.9" y="471.5" width="27.1" height="9.2" fill="#f97a32"/><rect x="312.8" y="471.5" width="9.2" height="9.2" fill="#fa893a"/><rect x="321.7" y="471.5" width="9.2" height="9.2" fill="#fb8e3c"/><rect x="330.6" y="471.5" width="9.2" height="9.2" fill="#fb923e"/><rect x="339.6" y="471.5" width="9.2" height="9.2" fill="#fb9741"/><rect x="348.5" y="471.5" width="18.2" height="9.2" fill="#fc9c44"/><rect x="366.4" y="471.5" width="9.2" height="9.2" fill="#fdab4b"/><rect x="375.4" y="471.5" width="9.2" height="9.2" fill="#fdb04f"/><rect x="384.3" y="471.5" width="18.2" height="9.2" fill="#fdb958"/><rect x="402.2" y="471.5" width="9.2" height="9.2" fill="#fdb454"/><rect x="411.2" y="471.5" width="9.2" height="9.2" fill="#fdb958"/><rect x="420.1" y="471.5" width="9.2" height="9.2" fill="#fec260"/><rect x="429.1" y="471.5" width="27.1" height="9.2" fill="#fdbd5c"/><rect x="455.9" y="471.5" width="9.2" height="9.2" fill="#fec260"/><rect x="464.9" y="471.5" width="9.2" height="9.2" fill="#fdbd5c"/><rect x="473.8" y="471.5" width="18.2" height="9.2" fill="#fdb958"/><rect x="491.7" y="471.5" width="9.2" height="9.2" fill="#fdb454"/><rect x="500.7" y="471.5" width="9.2" height="9.2" fill="#fda648"/><rect x="509.6" y="471.5" width="9.2" height="9.2" fill="#fca146"/><rect x="518.6" y="471.5" width="9.2" height="9.2" fill="#fb8e3c"/><rect x="527.5" y="471.5" width="9.2" height="9.2" fill="#fa893a"/><rect x="536.5" y="471.5" width="18.2" height="9.2" fill="#fa8437"/><rect x="554.4" y="471.5" width="18.2" height="9.2" fill="#f77330"/><rect x="572.3" y="471.5" width="9.2" height="9.2" fill="#f66b2e"/><rect x="581.2" y="471.5" width="9.2" height="9.2" fill="#f25c2a"/><rect x="590.2" y="471.5" width="18.2" height="9.2" fill="#ed4625"/><rect x="608.1" y="471.5" width="18.2" height="9.2" fill="#ea3721"/><rect x="626.0" y="471.5" width="9.2" height="9.2" fill="#e22b20"/><rect x="634.9" y="471.5" width="27.1" height="9.2" fill="#e8301f"/><rect x="661.8" y="471.5" width="9.2" height="9.2" fill="#e22b20"/><rect x="670.8" y="471.5" width="9.2" height="9.2" fill="#dd2620"/><rect x="679.7" y="471.5" width="9.2" height="9.2" fill="#e22b20"/><rect x="688.6" y="471.5" width="9.2" height="9.2" fill="#e8301f"/><rect x="697.6" y="471.5" width="36.1" height="9.2" fill="#e22b20"/><rect x="760.2" y="471.5" width="9.2" height="9.2" fill="#fb8e3c"/><rect x="769.2" y="471.5" width="9.2" height="9.2" fill="#fb9741"/><rect x="787.1" y="471.5" width="9.2" height="9.2" fill="#fb923e"/><rect x="796.0" y="471.5" width="9.2" height="9.2" fill="#fb8e3c"/><rect x="805.0" y="471.5" width="9.2" height="9.2" fill="#fa8437"/><rect x="813.9" y="471.5" width="9.2" height="9.2" fill="#fa893a"/><rect x="822.9" y="471.5" width="9.2" height="9.2" fill="#f97f34"/><rect x="831.8" y="471.5" width="36.1" height="9.2" fill="#fa8437"/><rect x="867.6" y="471.5" width="27.1" height="9.2" fill="#fa893a"/><rect x="894.5" y="471.5" width="9.2" height="9.2" fill="#fb8e3c"/><rect x="903.4" y="471.5" width="18.2" height="9.2" fill="#fa8437"/><rect x="921.3" y="471.5" width="9.2" height="9.2" fill="#f97a32"/><rect x="930.3" y="471.5" width="36.1" height="9.2" fill="#f97f34"/><rect x="966.1" y="471.5" width="9.2" height="9.2" fill="#fa8437"/><rect x="975.0" y="471.5" width="9.2" height="9.2" fill="#fb8e3c"/><rect x="984.0" y="471.5" width="9.2" height="9.2" fill="#fb9741"/><rect x="992.9" y="471.5" width="9.2" height="9.2" fill="#fdb958"/><rect x="1001.9" y="471.5" width="9.2" height="9.2" fill="#fed06d"/><rect x="1010.8" y="471.5" width="9.2" height="9.2" fill="#fedc7c"/><rect x="124.8" y="480.4" width="45.0" height="9.2" fill="#f25c2a"/><rect x="169.5" y="480.4" width="9.2" height="9.2" fill="#f05528"/><rect x="178.5" y="480.4" width="9.2" height="9.2" fill="#ef4e27"/><rect x="187.4" y="480.4" width="9.2" height="9.2" fill="#f25c2a"/><rect x="196.4" y="480.4" width="18.2" height="9.2" fill="#f05528"/><rect x="214.3" y="480.4" width="9.2" height="9.2" fill="#f25c2a"/><rect x="223.2" y="480.4" width="9.2" height="9.2" fill="#f77330"/><rect x="232.2" y="480.4" width="9.2" height="9.2" fill="#f97a32"/><rect x="241.1" y="480.4" width="9.2" height="9.2" fill="#fa8437"/><rect x="250.1" y="480.4" width="18.2" height="9.2" fill="#fa893a"/><rect x="268.0" y="480.4" width="18.2" height="9.2" fill="#f97a32"/><rect x="285.9" y="480.4" width="9.2" height="9.2" fill="#f97f34"/><rect x="294.8" y="480.4" width="18.2" height="9.2" fill="#fa8437"/><rect x="312.8" y="480.4" width="18.2" height="9.2" fill="#fa893a"/><rect x="330.6" y="480.4" width="9.2" height="9.2" fill="#fb923e"/><rect x="339.6" y="480.4" width="18.2" height="9.2" fill="#fc9c44"/><rect x="357.5" y="480.4" width="9.2" height="9.2" fill="#fca146"/><rect x="366.4" y="480.4" width="9.2" height="9.2" fill="#fdab4b"/><rect x="375.4" y="480.4" width="9.2" height="9.2" fill="#fdb04f"/><rect x="384.3" y="480.4" width="27.1" height="9.2" fill="#fdb958"/><rect x="411.2" y="480.4" width="9.2" height="9.2" fill="#fdb454"/><rect x="420.1" y="480.4" width="18.2" height="9.2" fill="#fdb958"/><rect x="438.0" y="480.4" width="18.2" height="9.2" fill="#fdbd5c"/><rect x="455.9" y="480.4" width="9.2" height="9.2" fill="#fec260"/><rect x="464.9" y="480.4" width="9.2" height="9.2" fill="#fdbd5c"/><rect x="473.8" y="480.4" width="9.2" height="9.2" fill="#fec260"/><rect x="482.8" y="480.4" width="9.2" height="9.2" fill="#fdb958"/><rect x="491.7" y="480.4" width="9.2" height="9.2" fill="#fdb454"/><rect x="500.7" y="480.4" width="9.2" height="9.2" fill="#fdab4b"/><rect x="509.6" y="480.4" width="9.2" height="9.2" fill="#fc9c44"/><rect x="518.6" y="480.4" width="9.2" height="9.2" fill="#fb9741"/><rect x="527.5" y="480.4" width="9.2" height="9.2" fill="#fb8e3c"/><rect x="536.5" y="480.4" width="9.2" height="9.2" fill="#fa893a"/><rect x="545.4" y="480.4" width="18.2" height="9.2" fill="#f97f34"/><rect x="563.3" y="480.4" width="9.2" height="9.2" fill="#f77330"/><rect x="572.3" y="480.4" width="9.2" height="9.2" fill="#f4642c"/><rect x="581.2" y="480.4" width="9.2" height="9.2" fill="#f05528"/><rect x="590.2" y="480.4" width="9.2" height="9.2" fill="#eb3f23"/><rect x="599.1" y="480.4" width="9.2" height="9.2" fill="#ed4625"/><rect x="608.1" y="480.4" width="18.2" height="9.2" fill="#ea3721"/><rect x="626.0" y="480.4" width="9.2" height="9.2" fill="#e8301f"/><rect x="634.9" y="480.4" width="18.2" height="9.2" fill="#e22b20"/><rect x="652.8" y="480.4" width="9.2" height="9.2" fill="#e8301f"/><rect x="661.8" y="480.4" width="9.2" height="9.2" fill="#e22b20"/><rect x="670.8" y="480.4" width="9.2" height="9.2" fill="#dd2620"/><rect x="679.7" y="480.4" width="9.2" height="9.2" fill="#e8301f"/><rect x="688.6" y="480.4" width="27.1" height="9.2" fill="#e22b20"/><rect x="715.5" y="480.4" width="27.1" height="9.2" fill="#dd2620"/><rect x="742.3" y="480.4" width="9.2" height="9.2" fill="#e8301f"/><rect x="751.3" y="480.4" width="9.2" height="9.2" fill="#ea3721"/><rect x="760.2" y="480.4" width="9.2" height="9.2" fill="#f25c2a"/><rect x="805.0" y="480.4" width="9.2" height="9.2" fill="#fa8437"/><rect x="813.9" y="480.4" width="9.2" height="9.2" fill="#f97f34"/><rect x="822.9" y="480.4" width="9.2" height="9.2" fill="#fa8437"/><rect x="831.8" y="480.4" width="18.2" height="9.2" fill="#f97f34"/><rect x="849.7" y="480.4" width="9.2" height="9.2" fill="#fa8437"/><rect x="858.7" y="480.4" width="9.2" height="9.2" fill="#fa893a"/><rect x="867.6" y="480.4" width="9.2" height="9.2" fill="#fb923e"/><rect x="876.6" y="480.4" width="9.2" height="9.2" fill="#fc9c44"/><rect x="885.5" y="480.4" width="9.2" height="9.2" fill="#fda648"/><rect x="894.5" y="480.4" width="9.2" height="9.2" fill="#fc9c44"/><rect x="903.4" y="480.4" width="9.2" height="9.2" fill="#fca146"/><rect x="912.4" y="480.4" width="9.2" height="9.2" fill="#fb923e"/><rect x="921.3" y="480.4" width="9.2" height="9.2" fill="#f97f34"/><rect x="930.3" y="480.4" width="9.2" height="9.2" fill="#f77330"/><rect x="939.2" y="480.4" width="9.2" height="9.2" fill="#f4642c"/><rect x="948.2" y="480.4" width="18.2" height="9.2" fill="#f97a32"/><rect x="966.1" y="480.4" width="9.2" height="9.2" fill="#fa8437"/><rect x="975.0" y="480.4" width="9.2" height="9.2" fill="#fa893a"/><rect x="984.0" y="480.4" width="9.2" height="9.2" fill="#fc9c44"/><rect x="992.9" y="480.4" width="9.2" height="9.2" fill="#fdb958"/><rect x="1001.9" y="480.4" width="9.2" height="9.2" fill="#fecb69"/><rect x="1010.8" y="480.4" width="9.2" height="9.2" fill="#fed976"/><rect x="124.8" y="489.4" width="9.2" height="9.2" fill="#f05528"/><rect x="133.8" y="489.4" width="27.1" height="9.2" fill="#f25c2a"/><rect x="160.6" y="489.4" width="27.1" height="9.2" fill="#ef4e27"/><rect x="187.4" y="489.4" width="9.2" height="9.2" fill="#f25c2a"/><rect x="196.4" y="489.4" width="18.2" height="9.2" fill="#f05528"/><rect x="214.3" y="489.4" width="9.2" height="9.2" fill="#f25c2a"/><rect x="223.2" y="489.4" width="9.2" height="9.2" fill="#f77330"/><rect x="232.2" y="489.4" width="9.2" height="9.2" fill="#fa8437"/><rect x="241.1" y="489.4" width="18.2" height="9.2" fill="#fb8e3c"/><rect x="259.0" y="489.4" width="45.0" height="9.2" fill="#fa8437"/><rect x="303.8" y="489.4" width="18.2" height="9.2" fill="#fa893a"/><rect x="321.7" y="489.4" width="9.2" height="9.2" fill="#fb8e3c"/><rect x="330.6" y="489.4" width="9.2" height="9.2" fill="#fb923e"/><rect x="339.6" y="489.4" width="9.2" height="9.2" fill="#fb9741"/><rect x="348.5" y="489.4" width="9.2" height="9.2" fill="#fc9c44"/><rect x="357.5" y="489.4" width="18.2" height="9.2" fill="#fdab4b"/><rect x="375.4" y="489.4" width="18.2" height="9.2" fill="#fdb454"/><rect x="393.3" y="489.4" width="27.1" height="9.2" fill="#fdbd5c"/><rect x="420.1" y="489.4" width="9.2" height="9.2" fill="#fdb958"/><rect x="429.1" y="489.4" width="9.2" height="9.2" fill="#fdb454"/><rect x="438.0" y="489.4" width="9.2" height="9.2" fill="#fdb958"/><rect x="447.0" y="489.4" width="36.1" height="9.2" fill="#fdbd5c"/><rect x="482.8" y="489.4" width="9.2" height="9.2" fill="#fec260"/><rect x="491.7" y="489.4" width="9.2" height="9.2" fill="#fdb454"/><rect x="500.7" y="489.4" width="9.2" height="9.2" fill="#fda648"/><rect x="509.6" y="489.4" width="9.2" height="9.2" fill="#fc9c44"/><rect x="518.6" y="489.4" width="9.2" height="9.2" fill="#fb9741"/><rect x="527.5" y="489.4" width="9.2" height="9.2" fill="#fb8e3c"/><rect x="536.5" y="489.4" width="18.2" height="9.2" fill="#fa8437"/><rect x="554.4" y="489.4" width="18.2" height="9.2" fill="#f97a32"/><rect x="572.3" y="489.4" width="9.2" height="9.2" fill="#f66b2e"/><rect x="581.2" y="489.4" width="9.2" height="9.2" fill="#f05528"/><rect x="590.2" y="489.4" width="9.2" height="9.2" fill="#ed4625"/><rect x="599.1" y="489.4" width="27.1" height="9.2" fill="#eb3f23"/><rect x="626.0" y="489.4" width="9.2" height="9.2" fill="#ea3721"/><rect x="634.9" y="489.4" width="9.2" height="9.2" fill="#e8301f"/><rect x="643.9" y="489.4" width="9.2" height="9.2" fill="#e22b20"/><rect x="652.8" y="489.4" width="9.2" height="9.2" fill="#dd2620"/><rect x="661.8" y="489.4" width="27.1" height="9.2" fill="#e22b20"/><rect x="688.6" y="489.4" width="9.2" height="9.2" fill="#dd2620"/><rect x="697.6" y="489.4" width="9.2" height="9.2" fill="#e22b20"/><rect x="706.5" y="489.4" width="18.2" height="9.2" fill="#dd2620"/><rect x="724.4" y="489.4" width="9.2" height="9.2" fill="#e22b20"/><rect x="733.4" y="489.4" width="9.2" height="9.2" fill="#dd2620"/><rect x="742.3" y="489.4" width="9.2" height="9.2" fill="#e22b20"/><rect x="751.3" y="489.4" width="9.2" height="9.2" fill="#dd2620"/><rect x="760.2" y="489.4" width="9.2" height="9.2" fill="#ea3721"/><rect x="831.8" y="489.4" width="9.2" height="9.2" fill="#f77330"/><rect x="840.8" y="489.4" width="9.2" height="9.2" fill="#f97f34"/><rect x="849.7" y="489.4" width="9.2" height="9.2" fill="#fa8437"/><rect x="858.7" y="489.4" width="9.2" height="9.2" fill="#fb923e"/><rect x="867.6" y="489.4" width="9.2" height="9.2" fill="#fdb04f"/><rect x="876.6" y="489.4" width="9.2" height="9.2" fill="#fdbd5c"/><rect x="885.5" y="489.4" width="9.2" height="9.2" fill="#fec765"/><rect x="894.5" y="489.4" width="9.2" height="9.2" fill="#fec260"/><rect x="903.4" y="489.4" width="9.2" height="9.2" fill="#fdb958"/><rect x="912.4" y="489.4" width="9.2" height="9.2" fill="#fdab4b"/><rect x="921.3" y="489.4" width="9.2" height="9.2" fill="#f97f34"/><rect x="930.3" y="489.4" width="9.2" height="9.2" fill="#f25c2a"/><rect x="939.2" y="489.4" width="18.2" height="9.2" fill="#f4642c"/><rect x="957.1" y="489.4" width="9.2" height="9.2" fill="#f97f34"/><rect x="966.1" y="489.4" width="18.2" height="9.2" fill="#fa893a"/><rect x="984.0" y="489.4" width="9.2" height="9.2" fill="#fca146"/><rect x="992.9" y="489.4" width="9.2" height="9.2" fill="#fdb454"/><rect x="1001.9" y="489.4" width="9.2" height="9.2" fill="#fecb69"/><rect x="133.8" y="498.3" width="9.2" height="9.2" fill="#f4642c"/><rect x="142.7" y="498.3" width="9.2" height="9.2" fill="#f25c2a"/><rect x="151.6" y="498.3" width="9.2" height="9.2" fill="#ef4e27"/><rect x="160.6" y="498.3" width="9.2" height="9.2" fill="#ed4625"/><rect x="169.5" y="498.3" width="27.1" height="9.2" fill="#ef4e27"/><rect x="196.4" y="498.3" width="18.2" height="9.2" fill="#f05528"/><rect x="214.3" y="498.3" width="9.2" height="9.2" fill="#f4642c"/><rect x="223.2" y="498.3" width="9.2" height="9.2" fill="#f97a32"/><rect x="232.2" y="498.3" width="9.2" height="9.2" fill="#fa893a"/><rect x="241.1" y="498.3" width="27.1" height="9.2" fill="#fb8e3c"/><rect x="268.0" y="498.3" width="9.2" height="9.2" fill="#fb923e"/><rect x="276.9" y="498.3" width="9.2" height="9.2" fill="#fa893a"/><rect x="285.9" y="498.3" width="27.1" height="9.2" fill="#fb8e3c"/><rect x="312.8" y="498.3" width="18.2" height="9.2" fill="#fb923e"/><rect x="330.6" y="498.3" width="9.2" height="9.2" fill="#fb8e3c"/><rect x="339.6" y="498.3" width="9.2" height="9.2" fill="#fb923e"/><rect x="348.5" y="498.3" width="9.2" height="9.2" fill="#fc9c44"/><rect x="357.5" y="498.3" width="9.2" height="9.2" fill="#fdab4b"/><rect x="366.4" y="498.3" width="9.2" height="9.2" fill="#fdb454"/><rect x="375.4" y="498.3" width="9.2" height="9.2" fill="#fdbd5c"/><rect x="384.3" y="498.3" width="9.2" height="9.2" fill="#fdb454"/><rect x="393.3" y="498.3" width="18.2" height="9.2" fill="#fdb958"/><rect x="411.2" y="498.3" width="9.2" height="9.2" fill="#fdbd5c"/><rect x="420.1" y="498.3" width="9.2" height="9.2" fill="#fdb958"/><rect x="429.1" y="498.3" width="9.2" height="9.2" fill="#fdb454"/><rect x="438.0" y="498.3" width="18.2" height="9.2" fill="#fdb958"/><rect x="455.9" y="498.3" width="18.2" height="9.2" fill="#fec260"/><rect x="473.8" y="498.3" width="18.2" height="9.2" fill="#fdbd5c"/><rect x="491.7" y="498.3" width="9.2" height="9.2" fill="#fdb04f"/><rect x="500.7" y="498.3" width="9.2" height="9.2" fill="#fca146"/><rect x="509.6" y="498.3" width="9.2" height="9.2" fill="#fb9741"/><rect x="518.6" y="498.3" width="18.2" height="9.2" fill="#fb923e"/><rect x="536.5" y="498.3" width="9.2" height="9.2" fill="#fb8e3c"/><rect x="545.4" y="498.3" width="9.2" height="9.2" fill="#fa8437"/><rect x="554.4" y="498.3" width="9.2" height="9.2" fill="#f97a32"/><rect x="563.3" y="498.3" width="9.2" height="9.2" fill="#f77330"/><rect x="572.3" y="498.3" width="9.2" height="9.2" fill="#f4642c"/><rect x="581.2" y="498.3" width="9.2" height="9.2" fill="#f05528"/><rect x="590.2" y="498.3" width="9.2" height="9.2" fill="#f25c2a"/><rect x="599.1" y="498.3" width="9.2" height="9.2" fill="#ed4625"/><rect x="608.1" y="498.3" width="36.1" height="9.2" fill="#eb3f23"/><rect x="643.9" y="498.3" width="9.2" height="9.2" fill="#e8301f"/><rect x="652.8" y="498.3" width="18.2" height="9.2" fill="#e22b20"/><rect x="670.8" y="498.3" width="9.2" height="9.2" fill="#d72221"/><rect x="679.7" y="498.3" width="18.2" height="9.2" fill="#dd2620"/><rect x="697.6" y="498.3" width="9.2" height="9.2" fill="#d72221"/><rect x="706.5" y="498.3" width="9.2" height="9.2" fill="#d21d22"/><rect x="715.5" y="498.3" width="27.1" height="9.2" fill="#d72221"/><rect x="742.3" y="498.3" width="27.1" height="9.2" fill="#dd2620"/><rect x="769.2" y="498.3" width="9.2" height="9.2" fill="#e22b20"/><rect x="831.8" y="498.3" width="9.2" height="9.2" fill="#f77330"/><rect x="840.8" y="498.3" width="9.2" height="9.2" fill="#f97a32"/><rect x="849.7" y="498.3" width="9.2" height="9.2" fill="#f97f34"/><rect x="858.7" y="498.3" width="9.2" height="9.2" fill="#fb9741"/><rect x="867.6" y="498.3" width="9.2" height="9.2" fill="#fdb454"/><rect x="876.6" y="498.3" width="9.2" height="9.2" fill="#fec765"/><rect x="885.5" y="498.3" width="18.2" height="9.2" fill="#fec260"/><rect x="903.4" y="498.3" width="9.2" height="9.2" fill="#fdbd5c"/><rect x="912.4" y="498.3" width="9.2" height="9.2" fill="#fdb04f"/><rect x="921.3" y="498.3" width="9.2" height="9.2" fill="#fb8e3c"/><rect x="930.3" y="498.3" width="9.2" height="9.2" fill="#f4642c"/><rect x="939.2" y="498.3" width="9.2" height="9.2" fill="#f25c2a"/><rect x="948.2" y="498.3" width="9.2" height="9.2" fill="#f4642c"/><rect x="957.1" y="498.3" width="9.2" height="9.2" fill="#fb9741"/><rect x="966.1" y="498.3" width="18.2" height="9.2" fill="#fdab4b"/><rect x="984.0" y="498.3" width="9.2" height="9.2" fill="#fdb04f"/><rect x="992.9" y="498.3" width="9.2" height="9.2" fill="#fdbd5c"/><rect x="151.6" y="507.3" width="9.2" height="9.2" fill="#ed4625"/><rect x="160.6" y="507.3" width="9.2" height="9.2" fill="#eb3f23"/><rect x="169.5" y="507.3" width="18.2" height="9.2" fill="#ed4625"/><rect x="187.4" y="507.3" width="9.2" height="9.2" fill="#ef4e27"/><rect x="196.4" y="507.3" width="9.2" height="9.2" fill="#f05528"/><rect x="205.3" y="507.3" width="9.2" height="9.2" fill="#ef4e27"/><rect x="214.3" y="507.3" width="9.2" height="9.2" fill="#f4642c"/><rect x="223.2" y="507.3" width="9.2" height="9.2" fill="#f97f34"/><rect x="232.2" y="507.3" width="9.2" height="9.2" fill="#fb8e3c"/><rect x="241.1" y="507.3" width="9.2" height="9.2" fill="#fb923e"/><rect x="250.1" y="507.3" width="9.2" height="9.2" fill="#fc9c44"/><rect x="259.0" y="507.3" width="45.0" height="9.2" fill="#fb9741"/><rect x="303.8" y="507.3" width="18.2" height="9.2" fill="#fb923e"/><rect x="321.7" y="507.3" width="18.2" height="9.2" fill="#fb9741"/><rect x="339.6" y="507.3" width="9.2" height="9.2" fill="#fc9c44"/><rect x="348.5" y="507.3" width="9.2" height="9.2" fill="#fca146"/><rect x="357.5" y="507.3" width="9.2" height="9.2" fill="#fdb04f"/><rect x="366.4" y="507.3" width="18.2" height="9.2" fill="#fdb454"/><rect x="384.3" y="507.3" width="9.2" height="9.2" fill="#fdb958"/><rect x="393.3" y="507.3" width="9.2" height="9.2" fill="#fdb454"/><rect x="402.2" y="507.3" width="45.0" height="9.2" fill="#fdbd5c"/><rect x="447.0" y="507.3" width="9.2" height="9.2" fill="#fec260"/><rect x="455.9" y="507.3" width="18.2" height="9.2" fill="#fdbd5c"/><rect x="473.8" y="507.3" width="9.2" height="9.2" fill="#fec260"/><rect x="482.8" y="507.3" width="9.2" height="9.2" fill="#fdb958"/><rect x="491.7" y="507.3" width="9.2" height="9.2" fill="#fdab4b"/><rect x="500.7" y="507.3" width="9.2" height="9.2" fill="#fda648"/><rect x="509.6" y="507.3" width="27.1" height="9.2" fill="#fb9741"/><rect x="536.5" y="507.3" width="18.2" height="9.2" fill="#fa893a"/><rect x="554.4" y="507.3" width="9.2" height="9.2" fill="#f97f34"/><rect x="563.3" y="507.3" width="9.2" height="9.2" fill="#f77330"/><rect x="572.3" y="507.3" width="18.2" height="9.2" fill="#f4642c"/><rect x="590.2" y="507.3" width="9.2" height="9.2" fill="#f25c2a"/><rect x="599.1" y="507.3" width="9.2" height="9.2" fill="#f05528"/><rect x="608.1" y="507.3" width="9.2" height="9.2" fill="#ef4e27"/><rect x="617.0" y="507.3" width="9.2" height="9.2" fill="#eb3f23"/><rect x="626.0" y="507.3" width="9.2" height="9.2" fill="#ea3721"/><rect x="634.9" y="507.3" width="27.1" height="9.2" fill="#eb3f23"/><rect x="661.8" y="507.3" width="9.2" height="9.2" fill="#ea3721"/><rect x="670.8" y="507.3" width="9.2" height="9.2" fill="#dd2620"/><rect x="679.7" y="507.3" width="9.2" height="9.2" fill="#d72221"/><rect x="688.6" y="507.3" width="9.2" height="9.2" fill="#d21d22"/><rect x="697.6" y="507.3" width="9.2" height="9.2" fill="#d72221"/><rect x="706.5" y="507.3" width="18.2" height="9.2" fill="#d21d22"/><rect x="724.4" y="507.3" width="9.2" height="9.2" fill="#d72221"/><rect x="733.4" y="507.3" width="9.2" height="9.2" fill="#d21d22"/><rect x="742.3" y="507.3" width="18.2" height="9.2" fill="#dd2620"/><rect x="760.2" y="507.3" width="18.2" height="9.2" fill="#d72221"/><rect x="778.1" y="507.3" width="9.2" height="9.2" fill="#dd2620"/><rect x="787.1" y="507.3" width="9.2" height="9.2" fill="#e22b20"/><rect x="831.8" y="507.3" width="9.2" height="9.2" fill="#f66b2e"/><rect x="840.8" y="507.3" width="9.2" height="9.2" fill="#f77330"/><rect x="849.7" y="507.3" width="9.2" height="9.2" fill="#fa893a"/><rect x="858.7" y="507.3" width="9.2" height="9.2" fill="#fca146"/><rect x="867.6" y="507.3" width="9.2" height="9.2" fill="#fdb454"/><rect x="876.6" y="507.3" width="9.2" height="9.2" fill="#fec260"/><rect x="885.5" y="507.3" width="18.2" height="9.2" fill="#fec765"/><rect x="903.4" y="507.3" width="9.2" height="9.2" fill="#fdbd5c"/><rect x="912.4" y="507.3" width="9.2" height="9.2" fill="#fdb454"/><rect x="921.3" y="507.3" width="9.2" height="9.2" fill="#fb9741"/><rect x="930.3" y="507.3" width="9.2" height="9.2" fill="#f77330"/><rect x="939.2" y="507.3" width="9.2" height="9.2" fill="#f25c2a"/><rect x="948.2" y="507.3" width="9.2" height="9.2" fill="#f77330"/><rect x="957.1" y="507.3" width="9.2" height="9.2" fill="#fda648"/><rect x="966.1" y="507.3" width="9.2" height="9.2" fill="#fec260"/><rect x="975.0" y="507.3" width="18.2" height="9.2" fill="#fed06d"/><rect x="992.9" y="507.3" width="9.2" height="9.2" fill="#fed472"/><rect x="151.6" y="516.2" width="9.2" height="9.2" fill="#ea3721"/><rect x="160.6" y="516.2" width="18.2" height="9.2" fill="#eb3f23"/><rect x="178.5" y="516.2" width="9.2" height="9.2" fill="#ed4625"/><rect x="187.4" y="516.2" width="9.2" height="9.2" fill="#eb3f23"/><rect x="196.4" y="516.2" width="9.2" height="9.2" fill="#ef4e27"/><rect x="205.3" y="516.2" width="9.2" height="9.2" fill="#f05528"/><rect x="214.3" y="516.2" width="9.2" height="9.2" fill="#f4642c"/><rect x="223.2" y="516.2" width="9.2" height="9.2" fill="#f97f34"/><rect x="232.2" y="516.2" width="9.2" height="9.2" fill="#fb8e3c"/><rect x="241.1" y="516.2" width="18.2" height="9.2" fill="#fc9c44"/><rect x="259.0" y="516.2" width="27.1" height="9.2" fill="#fca146"/><rect x="285.9" y="516.2" width="18.2" height="9.2" fill="#fb9741"/><rect x="303.8" y="516.2" width="9.2" height="9.2" fill="#fc9c44"/><rect x="312.8" y="516.2" width="9.2" height="9.2" fill="#fb9741"/><rect x="321.7" y="516.2" width="18.2" height="9.2" fill="#fca146"/><rect x="339.6" y="516.2" width="18.2" height="9.2" fill="#fda648"/><rect x="357.5" y="516.2" width="9.2" height="9.2" fill="#fdab4b"/><rect x="366.4" y="516.2" width="9.2" height="9.2" fill="#fdb958"/><rect x="375.4" y="516.2" width="9.2" height="9.2" fill="#fdbd5c"/><rect x="384.3" y="516.2" width="9.2" height="9.2" fill="#fdb958"/><rect x="393.3" y="516.2" width="9.2" height="9.2" fill="#fdbd5c"/><rect x="402.2" y="516.2" width="9.2" height="9.2" fill="#fdb958"/><rect x="411.2" y="516.2" width="9.2" height="9.2" fill="#fdbd5c"/><rect x="420.1" y="516.2" width="9.2" height="9.2" fill="#fdb958"/><rect x="429.1" y="516.2" width="9.2" height="9.2" fill="#fec260"/><rect x="438.0" y="516.2" width="18.2" height="9.2" fill="#fdbd5c"/><rect x="455.9" y="516.2" width="27.1" height="9.2" fill="#fec260"/><rect x="482.8" y="516.2" width="9.2" height="9.2" fill="#fdbd5c"/><rect x="491.7" y="516.2" width="9.2" height="9.2" fill="#fdb454"/><rect x="500.7" y="516.2" width="9.2" height="9.2" fill="#fda648"/><rect x="509.6" y="516.2" width="9.2" height="9.2" fill="#fc9c44"/><rect x="518.6" y="516.2" width="9.2" height="9.2" fill="#fb9741"/><rect x="527.5" y="516.2" width="18.2" height="9.2" fill="#fb923e"/><rect x="545.4" y="516.2" width="9.2" height="9.2" fill="#fa893a"/><rect x="554.4" y="516.2" width="18.2" height="9.2" fill="#f97f34"/><rect x="572.3" y="516.2" width="18.2" height="9.2" fill="#f66b2e"/><rect x="590.2" y="516.2" width="9.2" height="9.2" fill="#f25c2a"/><rect x="599.1" y="516.2" width="9.2" height="9.2" fill="#f4642c"/><rect x="608.1" y="516.2" width="36.1" height="9.2" fill="#ef4e27"/><rect x="643.9" y="516.2" width="9.2" height="9.2" fill="#eb3f23"/><rect x="652.8" y="516.2" width="18.2" height="9.2" fill="#ed4625"/><rect x="670.8" y="516.2" width="9.2" height="9.2" fill="#eb3f23"/><rect x="679.7" y="516.2" width="18.2" height="9.2" fill="#dd2620"/><rect x="697.6" y="516.2" width="27.1" height="9.2" fill="#d72221"/><rect x="724.4" y="516.2" width="9.2" height="9.2" fill="#d21d22"/><rect x="733.4" y="516.2" width="9.2" height="9.2" fill="#d72221"/><rect x="742.3" y="516.2" width="18.2" height="9.2" fill="#dd2620"/><rect x="760.2" y="516.2" width="9.2" height="9.2" fill="#e22b20"/><rect x="769.2" y="516.2" width="9.2" height="9.2" fill="#dd2620"/><rect x="787.1" y="516.2" width="9.2" height="9.2" fill="#dd2620"/><rect x="894.5" y="516.2" width="9.2" height="9.2" fill="#fec765"/><rect x="903.4" y="516.2" width="9.2" height="9.2" fill="#fdbd5c"/><rect x="912.4" y="516.2" width="9.2" height="9.2" fill="#fda648"/><rect x="921.3" y="516.2" width="9.2" height="9.2" fill="#f97f34"/><rect x="930.3" y="516.2" width="18.2" height="9.2" fill="#f05528"/><rect x="948.2" y="516.2" width="9.2" height="9.2" fill="#f77330"/><rect x="957.1" y="516.2" width="9.2" height="9.2" fill="#fca146"/><rect x="966.1" y="516.2" width="9.2" height="9.2" fill="#fdbd5c"/><rect x="975.0" y="516.2" width="9.2" height="9.2" fill="#fed472"/><rect x="984.0" y="516.2" width="9.2" height="9.2" fill="#fedc7c"/><rect x="992.9" y="516.2" width="9.2" height="9.2" fill="#fee387"/><rect x="151.6" y="525.2" width="9.2" height="9.2" fill="#e8301f"/><rect x="160.6" y="525.2" width="9.2" height="9.2" fill="#ea3721"/><rect x="169.5" y="525.2" width="9.2" height="9.2" fill="#e8301f"/><rect x="178.5" y="525.2" width="9.2" height="9.2" fill="#ea3721"/><rect x="187.4" y="525.2" width="9.2" height="9.2" fill="#eb3f23"/><rect x="196.4" y="525.2" width="18.2" height="9.2" fill="#f05528"/><rect x="214.3" y="525.2" width="9.2" height="9.2" fill="#f66b2e"/><rect x="223.2" y="525.2" width="9.2" height="9.2" fill="#f97a32"/><rect x="232.2" y="525.2" width="9.2" height="9.2" fill="#fb923e"/><rect x="241.1" y="525.2" width="9.2" height="9.2" fill="#fca146"/><rect x="250.1" y="525.2" width="9.2" height="9.2" fill="#fc9c44"/><rect x="259.0" y="525.2" width="18.2" height="9.2" fill="#fda648"/><rect x="276.9" y="525.2" width="9.2" height="9.2" fill="#fca146"/><rect x="285.9" y="525.2" width="9.2" height="9.2" fill="#fc9c44"/><rect x="294.8" y="525.2" width="27.1" height="9.2" fill="#fca146"/><rect x="321.7" y="525.2" width="9.2" height="9.2" fill="#fda648"/><rect x="330.6" y="525.2" width="9.2" height="9.2" fill="#fdab4b"/><rect x="339.6" y="525.2" width="9.2" height="9.2" fill="#fca146"/><rect x="348.5" y="525.2" width="9.2" height="9.2" fill="#fda648"/><rect x="357.5" y="525.2" width="9.2" height="9.2" fill="#fdab4b"/><rect x="366.4" y="525.2" width="18.2" height="9.2" fill="#fdb454"/><rect x="384.3" y="525.2" width="18.2" height="9.2" fill="#fdb958"/><rect x="402.2" y="525.2" width="27.1" height="9.2" fill="#fdbd5c"/><rect x="429.1" y="525.2" width="36.1" height="9.2" fill="#fec260"/><rect x="464.9" y="525.2" width="9.2" height="9.2" fill="#fec765"/><rect x="473.8" y="525.2" width="9.2" height="9.2" fill="#fdbd5c"/><rect x="482.8" y="525.2" width="9.2" height="9.2" fill="#fec260"/><rect x="491.7" y="525.2" width="9.2" height="9.2" fill="#fdb958"/><rect x="500.7" y="525.2" width="9.2" height="9.2" fill="#fdb454"/><rect x="509.6" y="525.2" width="9.2" height="9.2" fill="#fdab4b"/><rect x="518.6" y="525.2" width="18.2" height="9.2" fill="#fca146"/><rect x="536.5" y="525.2" width="9.2" height="9.2" fill="#fb9741"/><rect x="545.4" y="525.2" width="18.2" height="9.2" fill="#fa893a"/><rect x="563.3" y="525.2" width="9.2" height="9.2" fill="#fa8437"/><rect x="572.3" y="525.2" width="9.2" height="9.2" fill="#f77330"/><rect x="581.2" y="525.2" width="9.2" height="9.2" fill="#f66b2e"/><rect x="590.2" y="525.2" width="9.2" height="9.2" fill="#f4642c"/><rect x="599.1" y="525.2" width="18.2" height="9.2" fill="#f25c2a"/><rect x="617.0" y="525.2" width="18.2" height="9.2" fill="#ef4e27"/><rect x="634.9" y="525.2" width="27.1" height="9.2" fill="#f25c2a"/><rect x="661.8" y="525.2" width="9.2" height="9.2" fill="#f66b2e"/><rect x="670.8" y="525.2" width="9.2" height="9.2" fill="#f4642c"/><rect x="679.7" y="525.2" width="9.2" height="9.2" fill="#f05528"/><rect x="688.6" y="525.2" width="9.2" height="9.2" fill="#eb3f23"/><rect x="697.6" y="525.2" width="9.2" height="9.2" fill="#e8301f"/><rect x="706.5" y="525.2" width="9.2" height="9.2" fill="#dd2620"/><rect x="715.5" y="525.2" width="9.2" height="9.2" fill="#d72221"/><rect x="724.4" y="525.2" width="9.2" height="9.2" fill="#dd2620"/><rect x="733.4" y="525.2" width="18.2" height="9.2" fill="#d72221"/><rect x="751.3" y="525.2" width="9.2" height="9.2" fill="#dd2620"/><rect x="760.2" y="525.2" width="18.2" height="9.2" fill="#d72221"/><rect x="921.3" y="525.2" width="18.2" height="9.2" fill="#ed4625"/><rect x="939.2" y="525.2" width="9.2" height="9.2" fill="#ef4e27"/><rect x="948.2" y="525.2" width="9.2" height="9.2" fill="#f77330"/><rect x="957.1" y="525.2" width="9.2" height="9.2" fill="#fb9741"/><rect x="966.1" y="525.2" width="9.2" height="9.2" fill="#fdb04f"/><rect x="975.0" y="525.2" width="9.2" height="9.2" fill="#fec765"/><rect x="984.0" y="525.2" width="9.2" height="9.2" fill="#fedc7c"/><rect x="992.9" y="525.2" width="9.2" height="9.2" fill="#fee082"/><rect x="160.6" y="534.1" width="9.2" height="9.2" fill="#e8301f"/><rect x="169.5" y="534.1" width="9.2" height="9.2" fill="#ea3721"/><rect x="178.5" y="534.1" width="9.2" height="9.2" fill="#e8301f"/><rect x="187.4" y="534.1" width="9.2" height="9.2" fill="#eb3f23"/><rect x="196.4" y="534.1" width="9.2" height="9.2" fill="#ef4e27"/><rect x="205.3" y="534.1" width="9.2" height="9.2" fill="#f05528"/><rect x="214.3" y="534.1" width="9.2" height="9.2" fill="#f4642c"/><rect x="223.2" y="534.1" width="9.2" height="9.2" fill="#f97f34"/><rect x="232.2" y="534.1" width="9.2" height="9.2" fill="#fb8e3c"/><rect x="241.1" y="534.1" width="9.2" height="9.2" fill="#fb9741"/><rect x="250.1" y="534.1" width="9.2" height="9.2" fill="#fc9c44"/><rect x="259.0" y="534.1" width="45.0" height="9.2" fill="#fca146"/><rect x="303.8" y="534.1" width="9.2" height="9.2" fill="#fdab4b"/><rect x="312.8" y="534.1" width="9.2" height="9.2" fill="#fda648"/><rect x="321.7" y="534.1" width="9.2" height="9.2" fill="#fdab4b"/><rect x="330.6" y="534.1" width="9.2" height="9.2" fill="#fdb04f"/><rect x="339.6" y="534.1" width="9.2" height="9.2" fill="#fdab4b"/><rect x="348.5" y="534.1" width="9.2" height="9.2" fill="#fca146"/><rect x="357.5" y="534.1" width="9.2" height="9.2" fill="#fda648"/><rect x="366.4" y="534.1" width="9.2" height="9.2" fill="#fdab4b"/><rect x="375.4" y="534.1" width="27.1" height="9.2" fill="#fdb454"/><rect x="402.2" y="534.1" width="9.2" height="9.2" fill="#fdb958"/><rect x="411.2" y="534.1" width="18.2" height="9.2" fill="#fec260"/><rect x="429.1" y="534.1" width="9.2" height="9.2" fill="#fec765"/><rect x="438.0" y="534.1" width="9.2" height="9.2" fill="#fec260"/><rect x="447.0" y="534.1" width="9.2" height="9.2" fill="#fec765"/><rect x="455.9" y="534.1" width="36.1" height="9.2" fill="#fec260"/><rect x="491.7" y="534.1" width="9.2" height="9.2" fill="#fdbd5c"/><rect x="500.7" y="534.1" width="9.2" height="9.2" fill="#fdb454"/><rect x="509.6" y="534.1" width="18.2" height="9.2" fill="#fdab4b"/><rect x="527.5" y="534.1" width="9.2" height="9.2" fill="#fda648"/><rect x="536.5" y="534.1" width="18.2" height="9.2" fill="#fb9741"/><rect x="554.4" y="534.1" width="9.2" height="9.2" fill="#fa893a"/><rect x="563.3" y="534.1" width="9.2" height="9.2" fill="#f97f34"/><rect x="572.3" y="534.1" width="9.2" height="9.2" fill="#f97a32"/><rect x="581.2" y="534.1" width="9.2" height="9.2" fill="#f77330"/><rect x="590.2" y="534.1" width="18.2" height="9.2" fill="#f66b2e"/><rect x="608.1" y="534.1" width="9.2" height="9.2" fill="#f77330"/><rect x="617.0" y="534.1" width="18.2" height="9.2" fill="#f97a32"/><rect x="634.9" y="534.1" width="18.2" height="9.2" fill="#f97f34"/><rect x="652.8" y="534.1" width="9.2" height="9.2" fill="#fa8437"/><rect x="661.8" y="534.1" width="18.2" height="9.2" fill="#fa893a"/><rect x="679.7" y="534.1" width="9.2" height="9.2" fill="#f77330"/><rect x="688.6" y="534.1" width="9.2" height="9.2" fill="#f25c2a"/><rect x="697.6" y="534.1" width="9.2" height="9.2" fill="#ef4e27"/><rect x="706.5" y="534.1" width="9.2" height="9.2" fill="#eb3f23"/><rect x="715.5" y="534.1" width="18.2" height="9.2" fill="#e8301f"/><rect x="733.4" y="534.1" width="36.1" height="9.2" fill="#dd2620"/><rect x="912.4" y="534.1" width="18.2" height="9.2" fill="#ea3721"/><rect x="930.3" y="534.1" width="9.2" height="9.2" fill="#eb3f23"/><rect x="939.2" y="534.1" width="9.2" height="9.2" fill="#f05528"/><rect x="948.2" y="534.1" width="9.2" height="9.2" fill="#f97f34"/><rect x="957.1" y="534.1" width="9.2" height="9.2" fill="#fb923e"/><rect x="966.1" y="534.1" width="9.2" height="9.2" fill="#fda648"/><rect x="975.0" y="534.1" width="9.2" height="9.2" fill="#fec765"/><rect x="984.0" y="534.1" width="9.2" height="9.2" fill="#fed472"/><rect x="992.9" y="534.1" width="9.2" height="9.2" fill="#fed976"/><rect x="160.6" y="543.1" width="9.2" height="9.2" fill="#dd2620"/><rect x="169.5" y="543.1" width="9.2" height="9.2" fill="#e22b20"/><rect x="178.5" y="543.1" width="9.2" height="9.2" fill="#e8301f"/><rect x="187.4" y="543.1" width="18.2" height="9.2" fill="#ef4e27"/><rect x="205.3" y="543.1" width="18.2" height="9.2" fill="#f25c2a"/><rect x="223.2" y="543.1" width="9.2" height="9.2" fill="#f97a32"/><rect x="232.2" y="543.1" width="9.2" height="9.2" fill="#fa893a"/><rect x="241.1" y="543.1" width="9.2" height="9.2" fill="#fb8e3c"/><rect x="250.1" y="543.1" width="9.2" height="9.2" fill="#fb9741"/><rect x="259.0" y="543.1" width="9.2" height="9.2" fill="#fca146"/><rect x="268.0" y="543.1" width="9.2" height="9.2" fill="#fc9c44"/><rect x="276.9" y="543.1" width="18.2" height="9.2" fill="#fca146"/><rect x="294.8" y="543.1" width="9.2" height="9.2" fill="#fda648"/><rect x="303.8" y="543.1" width="9.2" height="9.2" fill="#fdab4b"/><rect x="312.8" y="543.1" width="9.2" height="9.2" fill="#fda648"/><rect x="321.7" y="543.1" width="9.2" height="9.2" fill="#fdab4b"/><rect x="330.6" y="543.1" width="9.2" height="9.2" fill="#fdb04f"/><rect x="339.6" y="543.1" width="18.2" height="9.2" fill="#fdab4b"/><rect x="357.5" y="543.1" width="9.2" height="9.2" fill="#fda648"/><rect x="366.4" y="543.1" width="9.2" height="9.2" fill="#fdab4b"/><rect x="375.4" y="543.1" width="18.2" height="9.2" fill="#fdb454"/><rect x="393.3" y="543.1" width="27.1" height="9.2" fill="#fdb958"/><rect x="420.1" y="543.1" width="9.2" height="9.2" fill="#fdbd5c"/><rect x="429.1" y="543.1" width="36.1" height="9.2" fill="#fec260"/><rect x="464.9" y="543.1" width="9.2" height="9.2" fill="#fecb69"/><rect x="473.8" y="543.1" width="9.2" height="9.2" fill="#fec260"/><rect x="482.8" y="543.1" width="9.2" height="9.2" fill="#fec765"/><rect x="491.7" y="543.1" width="9.2" height="9.2" fill="#fdbd5c"/><rect x="500.7" y="543.1" width="9.2" height="9.2" fill="#fdb958"/><rect x="509.6" y="543.1" width="9.2" height="9.2" fill="#fdb454"/><rect x="518.6" y="543.1" width="18.2" height="9.2" fill="#fdab4b"/><rect x="536.5" y="543.1" width="9.2" height="9.2" fill="#fda648"/><rect x="545.4" y="543.1" width="9.2" height="9.2" fill="#fb9741"/><rect x="554.4" y="543.1" width="9.2" height="9.2" fill="#fb8e3c"/><rect x="563.3" y="543.1" width="9.2" height="9.2" fill="#fa8437"/><rect x="572.3" y="543.1" width="9.2" height="9.2" fill="#f97f34"/><rect x="581.2" y="543.1" width="18.2" height="9.2" fill="#f97a32"/><rect x="599.1" y="543.1" width="9.2" height="9.2" fill="#f97f34"/><rect x="608.1" y="543.1" width="18.2" height="9.2" fill="#fb8e3c"/><rect x="626.0" y="543.1" width="9.2" height="9.2" fill="#fb923e"/><rect x="634.9" y="543.1" width="27.1" height="9.2" fill="#fb9741"/><rect x="661.8" y="543.1" width="9.2" height="9.2" fill="#fb923e"/><rect x="670.8" y="543.1" width="9.2" height="9.2" fill="#fb8e3c"/><rect x="679.7" y="543.1" width="9.2" height="9.2" fill="#fa8437"/><rect x="688.6" y="543.1" width="9.2" height="9.2" fill="#f97a32"/><rect x="697.6" y="543.1" width="9.2" height="9.2" fill="#f66b2e"/><rect x="706.5" y="543.1" width="9.2" height="9.2" fill="#f05528"/><rect x="715.5" y="543.1" width="9.2" height="9.2" fill="#eb3f23"/><rect x="724.4" y="543.1" width="18.2" height="9.2" fill="#e8301f"/><rect x="742.3" y="543.1" width="9.2" height="9.2" fill="#dd2620"/><rect x="751.3" y="543.1" width="9.2" height="9.2" fill="#e22b20"/><rect x="760.2" y="543.1" width="9.2" height="9.2" fill="#d72221"/><rect x="912.4" y="543.1" width="9.2" height="9.2" fill="#e22b20"/><rect x="921.3" y="543.1" width="9.2" height="9.2" fill="#e8301f"/><rect x="930.3" y="543.1" width="9.2" height="9.2" fill="#eb3f23"/><rect x="939.2" y="543.1" width="9.2" height="9.2" fill="#f25c2a"/><rect x="948.2" y="543.1" width="9.2" height="9.2" fill="#fa8437"/><rect x="957.1" y="543.1" width="9.2" height="9.2" fill="#fc9c44"/><rect x="966.1" y="543.1" width="9.2" height="9.2" fill="#fdb04f"/><rect x="975.0" y="543.1" width="9.2" height="9.2" fill="#fdbd5c"/><rect x="984.0" y="543.1" width="9.2" height="9.2" fill="#fecb69"/><rect x="80.0" y="552.0" width="9.2" height="9.2" fill="#d72221"/><rect x="89.0" y="552.0" width="9.2" height="9.2" fill="#dd2620"/><rect x="97.9" y="552.0" width="9.2" height="9.2" fill="#d72221"/><rect x="106.9" y="552.0" width="9.2" height="9.2" fill="#cc1822"/><rect x="115.8" y="552.0" width="27.1" height="9.2" fill="#c61323"/><rect x="142.7" y="552.0" width="27.1" height="9.2" fill="#d21d22"/><rect x="169.5" y="552.0" width="9.2" height="9.2" fill="#d72221"/><rect x="178.5" y="552.0" width="9.2" height="9.2" fill="#dd2620"/><rect x="187.4" y="552.0" width="9.2" height="9.2" fill="#eb3f23"/><rect x="196.4" y="552.0" width="9.2" height="9.2" fill="#f05528"/><rect x="205.3" y="552.0" width="9.2" height="9.2" fill="#f25c2a"/><rect x="214.3" y="552.0" width="9.2" height="9.2" fill="#f4642c"/><rect x="223.2" y="552.0" width="9.2" height="9.2" fill="#f66b2e"/><rect x="232.2" y="552.0" width="9.2" height="9.2" fill="#f97a32"/><rect x="241.1" y="552.0" width="9.2" height="9.2" fill="#fa8437"/><rect x="250.1" y="552.0" width="9.2" height="9.2" fill="#fa893a"/><rect x="259.0" y="552.0" width="9.2" height="9.2" fill="#fb8e3c"/><rect x="268.0" y="552.0" width="9.2" height="9.2" fill="#fb9741"/><rect x="276.9" y="552.0" width="9.2" height="9.2" fill="#fc9c44"/><rect x="285.9" y="552.0" width="18.2" height="9.2" fill="#fca146"/><rect x="303.8" y="552.0" width="9.2" height="9.2" fill="#fda648"/><rect x="312.8" y="552.0" width="9.2" height="9.2" fill="#fdab4b"/><rect x="321.7" y="552.0" width="9.2" height="9.2" fill="#fda648"/><rect x="330.6" y="552.0" width="9.2" height="9.2" fill="#fdb04f"/><rect x="339.6" y="552.0" width="9.2" height="9.2" fill="#fdab4b"/><rect x="348.5" y="552.0" width="18.2" height="9.2" fill="#fda648"/><rect x="366.4" y="552.0" width="9.2" height="9.2" fill="#fdb04f"/><rect x="375.4" y="552.0" width="9.2" height="9.2" fill="#fdb958"/><rect x="384.3" y="552.0" width="9.2" height="9.2" fill="#fdb454"/><rect x="393.3" y="552.0" width="27.1" height="9.2" fill="#fdb958"/><rect x="420.1" y="552.0" width="9.2" height="9.2" fill="#fdbd5c"/><rect x="429.1" y="552.0" width="9.2" height="9.2" fill="#fec260"/><rect x="438.0" y="552.0" width="54.0" height="9.2" fill="#fec765"/><rect x="491.7" y="552.0" width="18.2" height="9.2" fill="#fdbd5c"/><rect x="509.6" y="552.0" width="9.2" height="9.2" fill="#fdb958"/><rect x="518.6" y="552.0" width="9.2" height="9.2" fill="#fdab4b"/><rect x="527.5" y="552.0" width="18.2" height="9.2" fill="#fdb04f"/><rect x="545.4" y="552.0" width="9.2" height="9.2" fill="#fda648"/><rect x="554.4" y="552.0" width="9.2" height="9.2" fill="#fb9741"/><rect x="563.3" y="552.0" width="9.2" height="9.2" fill="#fb923e"/><rect x="572.3" y="552.0" width="9.2" height="9.2" fill="#fa8437"/><rect x="581.2" y="552.0" width="9.2" height="9.2" fill="#fa893a"/><rect x="590.2" y="552.0" width="9.2" height="9.2" fill="#fb8e3c"/><rect x="599.1" y="552.0" width="9.2" height="9.2" fill="#fb923e"/><rect x="608.1" y="552.0" width="18.2" height="9.2" fill="#fc9c44"/><rect x="626.0" y="552.0" width="27.1" height="9.2" fill="#fda648"/><rect x="652.8" y="552.0" width="9.2" height="9.2" fill="#fdab4b"/><rect x="661.8" y="552.0" width="9.2" height="9.2" fill="#fca146"/><rect x="670.8" y="552.0" width="9.2" height="9.2" fill="#fb9741"/><rect x="679.7" y="552.0" width="9.2" height="9.2" fill="#fa893a"/><rect x="688.6" y="552.0" width="9.2" height="9.2" fill="#f97f34"/><rect x="697.6" y="552.0" width="9.2" height="9.2" fill="#f66b2e"/><rect x="706.5" y="552.0" width="9.2" height="9.2" fill="#f25c2a"/><rect x="715.5" y="552.0" width="9.2" height="9.2" fill="#ed4625"/><rect x="724.4" y="552.0" width="9.2" height="9.2" fill="#e8301f"/><rect x="733.4" y="552.0" width="9.2" height="9.2" fill="#ea3721"/><rect x="742.3" y="552.0" width="9.2" height="9.2" fill="#e8301f"/><rect x="751.3" y="552.0" width="9.2" height="9.2" fill="#e22b20"/><rect x="760.2" y="552.0" width="9.2" height="9.2" fill="#dd2620"/><rect x="769.2" y="552.0" width="9.2" height="9.2" fill="#d72221"/><rect x="778.1" y="552.0" width="9.2" height="9.2" fill="#dd2620"/><rect x="894.5" y="552.0" width="9.2" height="9.2" fill="#e22b20"/><rect x="903.4" y="552.0" width="18.2" height="9.2" fill="#ea3721"/><rect x="921.3" y="552.0" width="9.2" height="9.2" fill="#e8301f"/><rect x="930.3" y="552.0" width="9.2" height="9.2" fill="#ef4e27"/><rect x="939.2" y="552.0" width="9.2" height="9.2" fill="#f77330"/><rect x="948.2" y="552.0" width="9.2" height="9.2" fill="#fb8e3c"/><rect x="957.1" y="552.0" width="9.2" height="9.2" fill="#fca146"/><rect x="966.1" y="552.0" width="9.2" height="9.2" fill="#fdb958"/><rect x="975.0" y="552.0" width="9.2" height="9.2" fill="#fec260"/><rect x="62.1" y="561.0" width="9.2" height="9.2" fill="#d72221"/><rect x="71.1" y="561.0" width="9.2" height="9.2" fill="#dd2620"/><rect x="80.0" y="561.0" width="9.2" height="9.2" fill="#e22b20"/><rect x="89.0" y="561.0" width="9.2" height="9.2" fill="#dd2620"/><rect x="97.9" y="561.0" width="9.2" height="9.2" fill="#d72221"/><rect x="106.9" y="561.0" width="9.2" height="9.2" fill="#d21d22"/><rect x="115.8" y="561.0" width="9.2" height="9.2" fill="#c10e24"/><rect x="124.8" y="561.0" width="9.2" height="9.2" fill="#c61323"/><rect x="133.8" y="561.0" width="9.2" height="9.2" fill="#c10e24"/><rect x="142.7" y="561.0" width="18.2" height="9.2" fill="#cc1822"/><rect x="160.6" y="561.0" width="9.2" height="9.2" fill="#d21d22"/><rect x="169.5" y="561.0" width="18.2" height="9.2" fill="#d72221"/><rect x="187.4" y="561.0" width="9.2" height="9.2" fill="#ea3721"/><rect x="196.4" y="561.0" width="9.2" height="9.2" fill="#f05528"/><rect x="205.3" y="561.0" width="9.2" height="9.2" fill="#ef4e27"/><rect x="214.3" y="561.0" width="9.2" height="9.2" fill="#f05528"/><rect x="223.2" y="561.0" width="18.2" height="9.2" fill="#f66b2e"/><rect x="241.1" y="561.0" width="9.2" height="9.2" fill="#f77330"/><rect x="250.1" y="561.0" width="18.2" height="9.2" fill="#fa8437"/><rect x="268.0" y="561.0" width="9.2" height="9.2" fill="#fb923e"/><rect x="276.9" y="561.0" width="9.2" height="9.2" fill="#fb9741"/><rect x="285.9" y="561.0" width="9.2" height="9.2" fill="#fc9c44"/><rect x="294.8" y="561.0" width="27.1" height="9.2" fill="#fda648"/><rect x="321.7" y="561.0" width="18.2" height="9.2" fill="#fdab4b"/><rect x="339.6" y="561.0" width="18.2" height="9.2" fill="#fdb04f"/><rect x="357.5" y="561.0" width="18.2" height="9.2" fill="#fdb454"/><rect x="375.4" y="561.0" width="9.2" height="9.2" fill="#fdb04f"/><rect x="384.3" y="561.0" width="18.2" height="9.2" fill="#fdb958"/><rect x="402.2" y="561.0" width="9.2" height="9.2" fill="#fdbd5c"/><rect x="411.2" y="561.0" width="9.2" height="9.2" fill="#fdb958"/><rect x="420.1" y="561.0" width="9.2" height="9.2" fill="#fdbd5c"/><rect x="429.1" y="561.0" width="9.2" height="9.2" fill="#fec260"/><rect x="438.0" y="561.0" width="18.2" height="9.2" fill="#fec765"/><rect x="455.9" y="561.0" width="9.2" height="9.2" fill="#fec260"/><rect x="464.9" y="561.0" width="36.1" height="9.2" fill="#fec765"/><rect x="500.7" y="561.0" width="18.2" height="9.2" fill="#fec260"/><rect x="518.6" y="561.0" width="18.2" height="9.2" fill="#fdb958"/><rect x="536.5" y="561.0" width="9.2" height="9.2" fill="#fdb454"/><rect x="545.4" y="561.0" width="18.2" height="9.2" fill="#fdb04f"/><rect x="563.3" y="561.0" width="9.2" height="9.2" fill="#fdab4b"/><rect x="572.3" y="561.0" width="9.2" height="9.2" fill="#fca146"/><rect x="581.2" y="561.0" width="18.2" height="9.2" fill="#fdab4b"/><rect x="599.1" y="561.0" width="18.2" height="9.2" fill="#fda648"/><rect x="617.0" y="561.0" width="27.1" height="9.2" fill="#fdb454"/><rect x="643.9" y="561.0" width="9.2" height="9.2" fill="#fdb958"/><rect x="652.8" y="561.0" width="18.2" height="9.2" fill="#fdb454"/><rect x="670.8" y="561.0" width="9.2" height="9.2" fill="#fc9c44"/><rect x="679.7" y="561.0" width="9.2" height="9.2" fill="#fb8e3c"/><rect x="688.6" y="561.0" width="9.2" height="9.2" fill="#f97f34"/><rect x="697.6" y="561.0" width="9.2" height="9.2" fill="#f66b2e"/><rect x="706.5" y="561.0" width="9.2" height="9.2" fill="#f25c2a"/><rect x="715.5" y="561.0" width="9.2" height="9.2" fill="#eb3f23"/><rect x="724.4" y="561.0" width="9.2" height="9.2" fill="#ea3721"/><rect x="733.4" y="561.0" width="36.1" height="9.2" fill="#e22b20"/><rect x="769.2" y="561.0" width="9.2" height="9.2" fill="#dd2620"/><rect x="778.1" y="561.0" width="9.2" height="9.2" fill="#e22b20"/><rect x="885.5" y="561.0" width="9.2" height="9.2" fill="#e22b20"/><rect x="894.5" y="561.0" width="9.2" height="9.2" fill="#ea3721"/><rect x="903.4" y="561.0" width="9.2" height="9.2" fill="#e8301f"/><rect x="912.4" y="561.0" width="9.2" height="9.2" fill="#ea3721"/><rect x="921.3" y="561.0" width="9.2" height="9.2" fill="#f25c2a"/><rect x="930.3" y="561.0" width="9.2" height="9.2" fill="#f66b2e"/><rect x="939.2" y="561.0" width="9.2" height="9.2" fill="#f97f34"/><rect x="948.2" y="561.0" width="9.2" height="9.2" fill="#fa8437"/><rect x="62.1" y="569.9" width="9.2" height="9.2" fill="#dd2620"/><rect x="71.1" y="569.9" width="9.2" height="9.2" fill="#e22b20"/><rect x="80.0" y="569.9" width="9.2" height="9.2" fill="#dd2620"/><rect x="89.0" y="569.9" width="9.2" height="9.2" fill="#e22b20"/><rect x="97.9" y="569.9" width="9.2" height="9.2" fill="#dd2620"/><rect x="106.9" y="569.9" width="18.2" height="9.2" fill="#cc1822"/><rect x="124.8" y="569.9" width="9.2" height="9.2" fill="#c61323"/><rect x="133.8" y="569.9" width="9.2" height="9.2" fill="#cc1822"/><rect x="142.7" y="569.9" width="9.2" height="9.2" fill="#c61323"/><rect x="151.6" y="569.9" width="18.2" height="9.2" fill="#cc1822"/><rect x="169.5" y="569.9" width="9.2" height="9.2" fill="#d21d22"/><rect x="178.5" y="569.9" width="9.2" height="9.2" fill="#dd2620"/><rect x="187.4" y="569.9" width="9.2" height="9.2" fill="#eb3f23"/><rect x="196.4" y="569.9" width="9.2" height="9.2" fill="#ef4e27"/><rect x="205.3" y="569.9" width="9.2" height="9.2" fill="#f25c2a"/><rect x="214.3" y="569.9" width="9.2" height="9.2" fill="#f05528"/><rect x="223.2" y="569.9" width="9.2" height="9.2" fill="#f4642c"/><rect x="232.2" y="569.9" width="18.2" height="9.2" fill="#f66b2e"/><rect x="250.1" y="569.9" width="9.2" height="9.2" fill="#f97a32"/><rect x="259.0" y="569.9" width="9.2" height="9.2" fill="#f97f34"/><rect x="268.0" y="569.9" width="9.2" height="9.2" fill="#fa893a"/><rect x="276.9" y="569.9" width="9.2" height="9.2" fill="#fb9741"/><rect x="285.9" y="569.9" width="9.2" height="9.2" fill="#fc9c44"/><rect x="294.8" y="569.9" width="9.2" height="9.2" fill="#fda648"/><rect x="303.8" y="569.9" width="9.2" height="9.2" fill="#fca146"/><rect x="312.8" y="569.9" width="9.2" height="9.2" fill="#fda648"/><rect x="321.7" y="569.9" width="27.1" height="9.2" fill="#fdab4b"/><rect x="348.5" y="569.9" width="9.2" height="9.2" fill="#fdb04f"/><rect x="357.5" y="569.9" width="9.2" height="9.2" fill="#fdb454"/><rect x="366.4" y="569.9" width="9.2" height="9.2" fill="#fdb04f"/><rect x="375.4" y="569.9" width="9.2" height="9.2" fill="#fdb958"/><rect x="384.3" y="569.9" width="9.2" height="9.2" fill="#fdb454"/><rect x="393.3" y="569.9" width="18.2" height="9.2" fill="#fdbd5c"/><rect x="411.2" y="569.9" width="9.2" height="9.2" fill="#fdb958"/><rect x="420.1" y="569.9" width="9.2" height="9.2" fill="#fdbd5c"/><rect x="429.1" y="569.9" width="9.2" height="9.2" fill="#fec260"/><rect x="438.0" y="569.9" width="27.1" height="9.2" fill="#fec765"/><rect x="464.9" y="569.9" width="45.0" height="9.2" fill="#fecb69"/><rect x="509.6" y="569.9" width="18.2" height="9.2" fill="#fec765"/><rect x="527.5" y="569.9" width="27.1" height="9.2" fill="#fdbd5c"/><rect x="554.4" y="569.9" width="27.1" height="9.2" fill="#fec260"/><rect x="581.2" y="569.9" width="18.2" height="9.2" fill="#fec765"/><rect x="599.1" y="569.9" width="18.2" height="9.2" fill="#fdb958"/><rect x="617.0" y="569.9" width="9.2" height="9.2" fill="#fec260"/><rect x="626.0" y="569.9" width="9.2" height="9.2" fill="#fec765"/><rect x="634.9" y="569.9" width="9.2" height="9.2" fill="#fec260"/><rect x="643.9" y="569.9" width="18.2" height="9.2" fill="#fec765"/><rect x="661.8" y="569.9" width="9.2" height="9.2" fill="#fdbd5c"/><rect x="670.8" y="569.9" width="9.2" height="9.2" fill="#fdab4b"/><rect x="679.7" y="569.9" width="9.2" height="9.2" fill="#fa893a"/><rect x="688.6" y="569.9" width="9.2" height="9.2" fill="#f97a32"/><rect x="697.6" y="569.9" width="9.2" height="9.2" fill="#f25c2a"/><rect x="706.5" y="569.9" width="9.2" height="9.2" fill="#ef4e27"/><rect x="715.5" y="569.9" width="9.2" height="9.2" fill="#ed4625"/><rect x="724.4" y="569.9" width="18.2" height="9.2" fill="#e8301f"/><rect x="742.3" y="569.9" width="18.2" height="9.2" fill="#dd2620"/><rect x="760.2" y="569.9" width="18.2" height="9.2" fill="#e22b20"/><rect x="778.1" y="569.9" width="9.2" height="9.2" fill="#d72221"/><rect x="876.6" y="569.9" width="9.2" height="9.2" fill="#e8301f"/><rect x="885.5" y="569.9" width="9.2" height="9.2" fill="#e22b20"/><rect x="894.5" y="569.9" width="18.2" height="9.2" fill="#e8301f"/><rect x="912.4" y="569.9" width="9.2" height="9.2" fill="#ef4e27"/><rect x="921.3" y="569.9" width="9.2" height="9.2" fill="#f66b2e"/><rect x="930.3" y="569.9" width="9.2" height="9.2" fill="#f77330"/><rect x="939.2" y="569.9" width="18.2" height="9.2" fill="#f97f34"/><rect x="71.1" y="578.9" width="18.2" height="9.2" fill="#dd2620"/><rect x="89.0" y="578.9" width="9.2" height="9.2" fill="#d72221"/><rect x="97.9" y="578.9" width="9.2" height="9.2" fill="#dd2620"/><rect x="106.9" y="578.9" width="9.2" height="9.2" fill="#cc1822"/><rect x="115.8" y="578.9" width="9.2" height="9.2" fill="#d21d22"/><rect x="124.8" y="578.9" width="18.2" height="9.2" fill="#c61323"/><rect x="142.7" y="578.9" width="9.2" height="9.2" fill="#d21d22"/><rect x="151.6" y="578.9" width="9.2" height="9.2" fill="#cc1822"/><rect x="160.6" y="578.9" width="9.2" height="9.2" fill="#c61323"/><rect x="169.5" y="578.9" width="9.2" height="9.2" fill="#cc1822"/><rect x="178.5" y="578.9" width="9.2" height="9.2" fill="#d72221"/><rect x="187.4" y="578.9" width="9.2" height="9.2" fill="#ea3721"/><rect x="196.4" y="578.9" width="9.2" height="9.2" fill="#ef4e27"/><rect x="205.3" y="578.9" width="9.2" height="9.2" fill="#f05528"/><rect x="214.3" y="578.9" width="9.2" height="9.2" fill="#f25c2a"/><rect x="223.2" y="578.9" width="9.2" height="9.2" fill="#f4642c"/><rect x="232.2" y="578.9" width="9.2" height="9.2" fill="#f66b2e"/><rect x="241.1" y="578.9" width="18.2" height="9.2" fill="#f77330"/><rect x="259.0" y="578.9" width="9.2" height="9.2" fill="#f97f34"/><rect x="268.0" y="578.9" width="9.2" height="9.2" fill="#fa893a"/><rect x="276.9" y="578.9" width="9.2" height="9.2" fill="#fb923e"/><rect x="285.9" y="578.9" width="9.2" height="9.2" fill="#fb9741"/><rect x="294.8" y="578.9" width="18.2" height="9.2" fill="#fc9c44"/><rect x="312.8" y="578.9" width="9.2" height="9.2" fill="#fda648"/><rect x="321.7" y="578.9" width="9.2" height="9.2" fill="#fdab4b"/><rect x="330.6" y="578.9" width="9.2" height="9.2" fill="#fda648"/><rect x="339.6" y="578.9" width="18.2" height="9.2" fill="#fdb04f"/><rect x="357.5" y="578.9" width="9.2" height="9.2" fill="#fdb454"/><rect x="366.4" y="578.9" width="9.2" height="9.2" fill="#fdb04f"/><rect x="375.4" y="578.9" width="18.2" height="9.2" fill="#fdb454"/><rect x="393.3" y="578.9" width="27.1" height="9.2" fill="#fdb958"/><rect x="420.1" y="578.9" width="18.2" height="9.2" fill="#fdbd5c"/><rect x="438.0" y="578.9" width="9.2" height="9.2" fill="#fec260"/><rect x="447.0" y="578.9" width="18.2" height="9.2" fill="#fec765"/><rect x="464.9" y="578.9" width="9.2" height="9.2" fill="#fecb69"/><rect x="473.8" y="578.9" width="9.2" height="9.2" fill="#fed06d"/><rect x="482.8" y="578.9" width="9.2" height="9.2" fill="#fed472"/><rect x="491.7" y="578.9" width="9.2" height="9.2" fill="#fed06d"/><rect x="500.7" y="578.9" width="9.2" height="9.2" fill="#fed472"/><rect x="509.6" y="578.9" width="9.2" height="9.2" fill="#fecb69"/><rect x="518.6" y="578.9" width="18.2" height="9.2" fill="#fed06d"/><rect x="536.5" y="578.9" width="27.1" height="9.2" fill="#fecb69"/><rect x="563.3" y="578.9" width="27.1" height="9.2" fill="#fed06d"/><rect x="590.2" y="578.9" width="18.2" height="9.2" fill="#fec765"/><rect x="608.1" y="578.9" width="9.2" height="9.2" fill="#fed06d"/><rect x="617.0" y="578.9" width="27.1" height="9.2" fill="#fecb69"/><rect x="643.9" y="578.9" width="9.2" height="9.2" fill="#fed06d"/><rect x="652.8" y="578.9" width="9.2" height="9.2" fill="#fecb69"/><rect x="661.8" y="578.9" width="9.2" height="9.2" fill="#fec260"/><rect x="670.8" y="578.9" width="9.2" height="9.2" fill="#fdab4b"/><rect x="679.7" y="578.9" width="9.2" height="9.2" fill="#fa8437"/><rect x="688.6" y="578.9" width="9.2" height="9.2" fill="#f77330"/><rect x="697.6" y="578.9" width="9.2" height="9.2" fill="#f05528"/><rect x="706.5" y="578.9" width="9.2" height="9.2" fill="#ef4e27"/><rect x="715.5" y="578.9" width="9.2" height="9.2" fill="#eb3f23"/><rect x="724.4" y="578.9" width="9.2" height="9.2" fill="#e8301f"/><rect x="733.4" y="578.9" width="45.0" height="9.2" fill="#e22b20"/><rect x="778.1" y="578.9" width="9.2" height="9.2" fill="#d72221"/><rect x="885.5" y="578.9" width="9.2" height="9.2" fill="#e22b20"/><rect x="894.5" y="578.9" width="9.2" height="9.2" fill="#ea3721"/><rect x="921.3" y="578.9" width="9.2" height="9.2" fill="#f77330"/><rect x="930.3" y="578.9" width="9.2" height="9.2" fill="#f66b2e"/><rect x="939.2" y="578.9" width="9.2" height="9.2" fill="#f77330"/><rect x="948.2" y="578.9" width="9.2" height="9.2" fill="#f97a32"/><rect x="80.0" y="587.8" width="9.2" height="9.2" fill="#e22b20"/><rect x="89.0" y="587.8" width="9.2" height="9.2" fill="#d72221"/><rect x="97.9" y="587.8" width="9.2" height="9.2" fill="#d21d22"/><rect x="106.9" y="587.8" width="9.2" height="9.2" fill="#cc1822"/><rect x="115.8" y="587.8" width="27.1" height="9.2" fill="#d21d22"/><rect x="142.7" y="587.8" width="18.2" height="9.2" fill="#d72221"/><rect x="160.6" y="587.8" width="9.2" height="9.2" fill="#d21d22"/><rect x="169.5" y="587.8" width="9.2" height="9.2" fill="#d72221"/><rect x="178.5" y="587.8" width="9.2" height="9.2" fill="#dd2620"/><rect x="187.4" y="587.8" width="9.2" height="9.2" fill="#eb3f23"/><rect x="196.4" y="587.8" width="18.2" height="9.2" fill="#f05528"/><rect x="214.3" y="587.8" width="18.2" height="9.2" fill="#f25c2a"/><rect x="232.2" y="587.8" width="18.2" height="9.2" fill="#f4642c"/><rect x="250.1" y="587.8" width="9.2" height="9.2" fill="#f77330"/><rect x="259.0" y="587.8" width="9.2" height="9.2" fill="#f97f34"/><rect x="268.0" y="587.8" width="9.2" height="9.2" fill="#fa8437"/><rect x="276.9" y="587.8" width="9.2" height="9.2" fill="#fb8e3c"/><rect x="285.9" y="587.8" width="9.2" height="9.2" fill="#fb9741"/><rect x="294.8" y="587.8" width="9.2" height="9.2" fill="#fc9c44"/><rect x="303.8" y="587.8" width="9.2" height="9.2" fill="#fda648"/><rect x="312.8" y="587.8" width="9.2" height="9.2" fill="#fca146"/><rect x="321.7" y="587.8" width="18.2" height="9.2" fill="#fdab4b"/><rect x="339.6" y="587.8" width="9.2" height="9.2" fill="#fda648"/><rect x="348.5" y="587.8" width="27.1" height="9.2" fill="#fdb454"/><rect x="375.4" y="587.8" width="9.2" height="9.2" fill="#fdb958"/><rect x="384.3" y="587.8" width="9.2" height="9.2" fill="#fdb454"/><rect x="393.3" y="587.8" width="9.2" height="9.2" fill="#fdb958"/><rect x="402.2" y="587.8" width="18.2" height="9.2" fill="#fdb04f"/><rect x="420.1" y="587.8" width="9.2" height="9.2" fill="#fdb958"/><rect x="429.1" y="587.8" width="9.2" height="9.2" fill="#fec260"/><rect x="438.0" y="587.8" width="9.2" height="9.2" fill="#fec765"/><rect x="447.0" y="587.8" width="9.2" height="9.2" fill="#fec260"/><rect x="455.9" y="587.8" width="9.2" height="9.2" fill="#fec765"/><rect x="464.9" y="587.8" width="9.2" height="9.2" fill="#fecb69"/><rect x="473.8" y="587.8" width="36.1" height="9.2" fill="#fed06d"/><rect x="509.6" y="587.8" width="9.2" height="9.2" fill="#fecb69"/><rect x="518.6" y="587.8" width="9.2" height="9.2" fill="#fed472"/><rect x="527.5" y="587.8" width="18.2" height="9.2" fill="#fed06d"/><rect x="545.4" y="587.8" width="9.2" height="9.2" fill="#fecb69"/><rect x="554.4" y="587.8" width="45.0" height="9.2" fill="#fed06d"/><rect x="599.1" y="587.8" width="18.2" height="9.2" fill="#fecb69"/><rect x="617.0" y="587.8" width="9.2" height="9.2" fill="#fed06d"/><rect x="626.0" y="587.8" width="27.1" height="9.2" fill="#fecb69"/><rect x="652.8" y="587.8" width="9.2" height="9.2" fill="#fec765"/><rect x="661.8" y="587.8" width="9.2" height="9.2" fill="#fec260"/><rect x="670.8" y="587.8" width="9.2" height="9.2" fill="#fc9c44"/><rect x="679.7" y="587.8" width="9.2" height="9.2" fill="#f97f34"/><rect x="688.6" y="587.8" width="9.2" height="9.2" fill="#f66b2e"/><rect x="697.6" y="587.8" width="9.2" height="9.2" fill="#f25c2a"/><rect x="706.5" y="587.8" width="9.2" height="9.2" fill="#ed4625"/><rect x="715.5" y="587.8" width="9.2" height="9.2" fill="#eb3f23"/><rect x="724.4" y="587.8" width="9.2" height="9.2" fill="#e8301f"/><rect x="733.4" y="587.8" width="9.2" height="9.2" fill="#e22b20"/><rect x="742.3" y="587.8" width="9.2" height="9.2" fill="#dd2620"/><rect x="751.3" y="587.8" width="9.2" height="9.2" fill="#d72221"/><rect x="760.2" y="587.8" width="9.2" height="9.2" fill="#e22b20"/><rect x="769.2" y="587.8" width="27.1" height="9.2" fill="#dd2620"/><rect x="885.5" y="587.8" width="9.2" height="9.2" fill="#ea3721"/><rect x="894.5" y="587.8" width="9.2" height="9.2" fill="#e8301f"/><rect x="921.3" y="587.8" width="18.2" height="9.2" fill="#f77330"/><rect x="939.2" y="587.8" width="18.2" height="9.2" fill="#f97f34"/><rect x="89.0" y="596.8" width="27.1" height="9.2" fill="#dd2620"/><rect x="133.8" y="596.8" width="27.1" height="9.2" fill="#e8301f"/><rect x="160.6" y="596.8" width="9.2" height="9.2" fill="#ea3721"/><rect x="169.5" y="596.8" width="9.2" height="9.2" fill="#e8301f"/><rect x="178.5" y="596.8" width="9.2" height="9.2" fill="#eb3f23"/><rect x="187.4" y="596.8" width="18.2" height="9.2" fill="#f05528"/><rect x="205.3" y="596.8" width="18.2" height="9.2" fill="#f25c2a"/><rect x="223.2" y="596.8" width="9.2" height="9.2" fill="#f4642c"/><rect x="232.2" y="596.8" width="18.2" height="9.2" fill="#f66b2e"/><rect x="250.1" y="596.8" width="9.2" height="9.2" fill="#f97a32"/><rect x="259.0" y="596.8" width="9.2" height="9.2" fill="#f97f34"/><rect x="268.0" y="596.8" width="9.2" height="9.2" fill="#fa8437"/><rect x="276.9" y="596.8" width="9.2" height="9.2" fill="#fb8e3c"/><rect x="285.9" y="596.8" width="9.2" height="9.2" fill="#fb923e"/><rect x="294.8" y="596.8" width="9.2" height="9.2" fill="#fc9c44"/><rect x="303.8" y="596.8" width="18.2" height="9.2" fill="#fca146"/><rect x="321.7" y="596.8" width="27.1" height="9.2" fill="#fda648"/><rect x="348.5" y="596.8" width="9.2" height="9.2" fill="#fdb04f"/><rect x="357.5" y="596.8" width="9.2" height="9.2" fill="#fdab4b"/><rect x="366.4" y="596.8" width="9.2" height="9.2" fill="#fdb04f"/><rect x="375.4" y="596.8" width="9.2" height="9.2" fill="#fdb454"/><rect x="384.3" y="596.8" width="18.2" height="9.2" fill="#fdb04f"/><rect x="402.2" y="596.8" width="9.2" height="9.2" fill="#fdb454"/><rect x="411.2" y="596.8" width="9.2" height="9.2" fill="#fdab4b"/><rect x="420.1" y="596.8" width="9.2" height="9.2" fill="#fdb454"/><rect x="429.1" y="596.8" width="9.2" height="9.2" fill="#fdb958"/><rect x="438.0" y="596.8" width="9.2" height="9.2" fill="#fec765"/><rect x="447.0" y="596.8" width="9.2" height="9.2" fill="#fec260"/><rect x="455.9" y="596.8" width="18.2" height="9.2" fill="#fecb69"/><rect x="473.8" y="596.8" width="9.2" height="9.2" fill="#fed06d"/><rect x="482.8" y="596.8" width="9.2" height="9.2" fill="#fed472"/><rect x="491.7" y="596.8" width="9.2" height="9.2" fill="#fed06d"/><rect x="500.7" y="596.8" width="18.2" height="9.2" fill="#fed472"/><rect x="518.6" y="596.8" width="18.2" height="9.2" fill="#fed06d"/><rect x="536.5" y="596.8" width="36.1" height="9.2" fill="#fecb69"/><rect x="572.3" y="596.8" width="9.2" height="9.2" fill="#fec765"/><rect x="581.2" y="596.8" width="9.2" height="9.2" fill="#fecb69"/><rect x="590.2" y="596.8" width="9.2" height="9.2" fill="#fed06d"/><rect x="599.1" y="596.8" width="9.2" height="9.2" fill="#fecb69"/><rect x="608.1" y="596.8" width="9.2" height="9.2" fill="#fed472"/><rect x="617.0" y="596.8" width="18.2" height="9.2" fill="#fed06d"/><rect x="634.9" y="596.8" width="18.2" height="9.2" fill="#fecb69"/><rect x="652.8" y="596.8" width="9.2" height="9.2" fill="#fec260"/><rect x="661.8" y="596.8" width="9.2" height="9.2" fill="#fdb454"/><rect x="670.8" y="596.8" width="9.2" height="9.2" fill="#fb9741"/><rect x="679.7" y="596.8" width="9.2" height="9.2" fill="#f97a32"/><rect x="688.6" y="596.8" width="9.2" height="9.2" fill="#f77330"/><rect x="697.6" y="596.8" width="9.2" height="9.2" fill="#f25c2a"/><rect x="706.5" y="596.8" width="9.2" height="9.2" fill="#f05528"/><rect x="715.5" y="596.8" width="9.2" height="9.2" fill="#ea3721"/><rect x="724.4" y="596.8" width="18.2" height="9.2" fill="#e22b20"/><rect x="742.3" y="596.8" width="18.2" height="9.2" fill="#d21d22"/><rect x="760.2" y="596.8" width="9.2" height="9.2" fill="#d72221"/><rect x="769.2" y="596.8" width="18.2" height="9.2" fill="#dd2620"/><rect x="787.1" y="596.8" width="9.2" height="9.2" fill="#d72221"/><rect x="921.3" y="596.8" width="9.2" height="9.2" fill="#f97a32"/><rect x="930.3" y="596.8" width="18.2" height="9.2" fill="#fa893a"/><rect x="124.8" y="605.7" width="18.2" height="9.2" fill="#ea3721"/><rect x="142.7" y="605.7" width="18.2" height="9.2" fill="#ef4e27"/><rect x="160.6" y="605.7" width="18.2" height="9.2" fill="#f05528"/><rect x="178.5" y="605.7" width="18.2" height="9.2" fill="#f4642c"/><rect x="196.4" y="605.7" width="27.1" height="9.2" fill="#f05528"/><rect x="223.2" y="605.7" width="9.2" height="9.2" fill="#f25c2a"/><rect x="232.2" y="605.7" width="9.2" height="9.2" fill="#f4642c"/><rect x="241.1" y="605.7" width="9.2" height="9.2" fill="#f97a32"/><rect x="250.1" y="605.7" width="9.2" height="9.2" fill="#f97f34"/><rect x="259.0" y="605.7" width="18.2" height="9.2" fill="#fa8437"/><rect x="276.9" y="605.7" width="9.2" height="9.2" fill="#fa893a"/><rect x="285.9" y="605.7" width="9.2" height="9.2" fill="#fb923e"/><rect x="294.8" y="605.7" width="9.2" height="9.2" fill="#fc9c44"/><rect x="303.8" y="605.7" width="18.2" height="9.2" fill="#fca146"/><rect x="321.7" y="605.7" width="9.2" height="9.2" fill="#fda648"/><rect x="330.6" y="605.7" width="18.2" height="9.2" fill="#fdab4b"/><rect x="348.5" y="605.7" width="9.2" height="9.2" fill="#fdb04f"/><rect x="357.5" y="605.7" width="36.1" height="9.2" fill="#fdab4b"/><rect x="393.3" y="605.7" width="18.2" height="9.2" fill="#fdb04f"/><rect x="411.2" y="605.7" width="9.2" height="9.2" fill="#fdb454"/><rect x="420.1" y="605.7" width="9.2" height="9.2" fill="#fdb04f"/><rect x="429.1" y="605.7" width="9.2" height="9.2" fill="#fdbd5c"/><rect x="438.0" y="605.7" width="36.1" height="9.2" fill="#fec765"/><rect x="473.8" y="605.7" width="9.2" height="9.2" fill="#fecb69"/><rect x="482.8" y="605.7" width="18.2" height="9.2" fill="#fed06d"/><rect x="500.7" y="605.7" width="9.2" height="9.2" fill="#fed472"/><rect x="509.6" y="605.7" width="18.2" height="9.2" fill="#fed06d"/><rect x="527.5" y="605.7" width="9.2" height="9.2" fill="#fed472"/><rect x="536.5" y="605.7" width="9.2" height="9.2" fill="#fed06d"/><rect x="545.4" y="605.7" width="9.2" height="9.2" fill="#fec765"/><rect x="554.4" y="605.7" width="18.2" height="9.2" fill="#fed06d"/><rect x="572.3" y="605.7" width="18.2" height="9.2" fill="#fecb69"/><rect x="590.2" y="605.7" width="18.2" height="9.2" fill="#fed06d"/><rect x="608.1" y="605.7" width="9.2" height="9.2" fill="#fed472"/><rect x="617.0" y="605.7" width="18.2" height="9.2" fill="#fed06d"/><rect x="634.9" y="605.7" width="9.2" height="9.2" fill="#fec765"/><rect x="643.9" y="605.7" width="18.2" height="9.2" fill="#fdbd5c"/><rect x="661.8" y="605.7" width="9.2" height="9.2" fill="#fdab4b"/><rect x="670.8" y="605.7" width="9.2" height="9.2" fill="#fb923e"/><rect x="679.7" y="605.7" width="9.2" height="9.2" fill="#f97a32"/><rect x="688.6" y="605.7" width="9.2" height="9.2" fill="#f66b2e"/><rect x="697.6" y="605.7" width="9.2" height="9.2" fill="#f25c2a"/><rect x="706.5" y="605.7" width="9.2" height="9.2" fill="#ef4e27"/><rect x="715.5" y="605.7" width="9.2" height="9.2" fill="#ea3721"/><rect x="724.4" y="605.7" width="9.2" height="9.2" fill="#dd2620"/><rect x="733.4" y="605.7" width="9.2" height="9.2" fill="#d21d22"/><rect x="742.3" y="605.7" width="9.2" height="9.2" fill="#cc1822"/><rect x="751.3" y="605.7" width="9.2" height="9.2" fill="#c61323"/><rect x="760.2" y="605.7" width="9.2" height="9.2" fill="#cc1822"/><rect x="769.2" y="605.7" width="27.1" height="9.2" fill="#d21d22"/><rect x="921.3" y="605.7" width="9.2" height="9.2" fill="#fc9c44"/><rect x="930.3" y="605.7" width="18.2" height="9.2" fill="#fb9741"/><rect x="97.9" y="614.7" width="9.2" height="9.2" fill="#e22b20"/><rect x="106.9" y="614.7" width="9.2" height="9.2" fill="#e8301f"/><rect x="115.8" y="614.7" width="9.2" height="9.2" fill="#ea3721"/><rect x="124.8" y="614.7" width="9.2" height="9.2" fill="#eb3f23"/><rect x="133.8" y="614.7" width="18.2" height="9.2" fill="#ef4e27"/><rect x="151.6" y="614.7" width="9.2" height="9.2" fill="#f25c2a"/><rect x="160.6" y="614.7" width="9.2" height="9.2" fill="#f66b2e"/><rect x="169.5" y="614.7" width="18.2" height="9.2" fill="#f77330"/><rect x="187.4" y="614.7" width="9.2" height="9.2" fill="#f66b2e"/><rect x="196.4" y="614.7" width="9.2" height="9.2" fill="#f4642c"/><rect x="205.3" y="614.7" width="9.2" height="9.2" fill="#f25c2a"/><rect x="214.3" y="614.7" width="9.2" height="9.2" fill="#ef4e27"/><rect x="223.2" y="614.7" width="9.2" height="9.2" fill="#f25c2a"/><rect x="232.2" y="614.7" width="9.2" height="9.2" fill="#f66b2e"/><rect x="241.1" y="614.7" width="9.2" height="9.2" fill="#f97a32"/><rect x="250.1" y="614.7" width="9.2" height="9.2" fill="#f97f34"/><rect x="259.0" y="614.7" width="9.2" height="9.2" fill="#fa893a"/><rect x="268.0" y="614.7" width="9.2" height="9.2" fill="#fb8e3c"/><rect x="276.9" y="614.7" width="9.2" height="9.2" fill="#fb923e"/><rect x="285.9" y="614.7" width="18.2" height="9.2" fill="#fb9741"/><rect x="303.8" y="614.7" width="18.2" height="9.2" fill="#fc9c44"/><rect x="321.7" y="614.7" width="18.2" height="9.2" fill="#fda648"/><rect x="339.6" y="614.7" width="9.2" height="9.2" fill="#fdab4b"/><rect x="348.5" y="614.7" width="18.2" height="9.2" fill="#fdb04f"/><rect x="366.4" y="614.7" width="9.2" height="9.2" fill="#fdab4b"/><rect x="375.4" y="614.7" width="9.2" height="9.2" fill="#fda648"/><rect x="384.3" y="614.7" width="18.2" height="9.2" fill="#fdab4b"/><rect x="402.2" y="614.7" width="9.2" height="9.2" fill="#fdb04f"/><rect x="411.2" y="614.7" width="9.2" height="9.2" fill="#fdab4b"/><rect x="420.1" y="614.7" width="9.2" height="9.2" fill="#fdb958"/><rect x="429.1" y="614.7" width="9.2" height="9.2" fill="#fdbd5c"/><rect x="438.0" y="614.7" width="9.2" height="9.2" fill="#fec260"/><rect x="447.0" y="614.7" width="18.2" height="9.2" fill="#fec765"/><rect x="464.9" y="614.7" width="18.2" height="9.2" fill="#fecb69"/><rect x="482.8" y="614.7" width="9.2" height="9.2" fill="#fed06d"/><rect x="491.7" y="614.7" width="9.2" height="9.2" fill="#fecb69"/><rect x="500.7" y="614.7" width="27.1" height="9.2" fill="#fed06d"/><rect x="527.5" y="614.7" width="36.1" height="9.2" fill="#fecb69"/><rect x="563.3" y="614.7" width="9.2" height="9.2" fill="#fec765"/><rect x="572.3" y="614.7" width="18.2" height="9.2" fill="#fec260"/><rect x="590.2" y="614.7" width="36.1" height="9.2" fill="#fecb69"/><rect x="626.0" y="614.7" width="9.2" height="9.2" fill="#fec260"/><rect x="634.9" y="614.7" width="9.2" height="9.2" fill="#fdb958"/><rect x="643.9" y="614.7" width="9.2" height="9.2" fill="#fdb04f"/><rect x="652.8" y="614.7" width="9.2" height="9.2" fill="#fda648"/><rect x="661.8" y="614.7" width="9.2" height="9.2" fill="#fc9c44"/><rect x="670.8" y="614.7" width="9.2" height="9.2" fill="#fa893a"/><rect x="679.7" y="614.7" width="9.2" height="9.2" fill="#f97f34"/><rect x="688.6" y="614.7" width="9.2" height="9.2" fill="#f66b2e"/><rect x="697.6" y="614.7" width="9.2" height="9.2" fill="#f05528"/><rect x="706.5" y="614.7" width="9.2" height="9.2" fill="#eb3f23"/><rect x="715.5" y="614.7" width="9.2" height="9.2" fill="#e22b20"/><rect x="724.4" y="614.7" width="18.2" height="9.2" fill="#d21d22"/><rect x="742.3" y="614.7" width="9.2" height="9.2" fill="#cc1822"/><rect x="751.3" y="614.7" width="9.2" height="9.2" fill="#c61323"/><rect x="760.2" y="614.7" width="9.2" height="9.2" fill="#cc1822"/><rect x="769.2" y="614.7" width="9.2" height="9.2" fill="#c61323"/><rect x="778.1" y="614.7" width="18.2" height="9.2" fill="#cc1822"/><rect x="930.3" y="614.7" width="18.2" height="9.2" fill="#fdb04f"/><rect x="89.0" y="623.6" width="9.2" height="9.2" fill="#e22b20"/><rect x="97.9" y="623.6" width="9.2" height="9.2" fill="#e8301f"/><rect x="106.9" y="623.6" width="9.2" height="9.2" fill="#e22b20"/><rect x="115.8" y="623.6" width="9.2" height="9.2" fill="#e8301f"/><rect x="124.8" y="623.6" width="9.2" height="9.2" fill="#ea3721"/><rect x="133.8" y="623.6" width="18.2" height="9.2" fill="#ef4e27"/><rect x="151.6" y="623.6" width="9.2" height="9.2" fill="#f25c2a"/><rect x="160.6" y="623.6" width="9.2" height="9.2" fill="#f66b2e"/><rect x="169.5" y="623.6" width="18.2" height="9.2" fill="#f77330"/><rect x="187.4" y="623.6" width="9.2" height="9.2" fill="#f66b2e"/><rect x="196.4" y="623.6" width="9.2" height="9.2" fill="#f25c2a"/><rect x="214.3" y="623.6" width="9.2" height="9.2" fill="#f05528"/><rect x="223.2" y="623.6" width="9.2" height="9.2" fill="#ef4e27"/><rect x="232.2" y="623.6" width="9.2" height="9.2" fill="#f4642c"/><rect x="241.1" y="623.6" width="9.2" height="9.2" fill="#f77330"/><rect x="250.1" y="623.6" width="9.2" height="9.2" fill="#f97f34"/><rect x="259.0" y="623.6" width="18.2" height="9.2" fill="#fa893a"/><rect x="276.9" y="623.6" width="9.2" height="9.2" fill="#fb923e"/><rect x="285.9" y="623.6" width="18.2" height="9.2" fill="#fb9741"/><rect x="303.8" y="623.6" width="18.2" height="9.2" fill="#fc9c44"/><rect x="321.7" y="623.6" width="9.2" height="9.2" fill="#fca146"/><rect x="330.6" y="623.6" width="9.2" height="9.2" fill="#fda648"/><rect x="339.6" y="623.6" width="9.2" height="9.2" fill="#fdab4b"/><rect x="348.5" y="623.6" width="18.2" height="9.2" fill="#fda648"/><rect x="366.4" y="623.6" width="27.1" height="9.2" fill="#fdab4b"/><rect x="393.3" y="623.6" width="9.2" height="9.2" fill="#fda648"/><rect x="402.2" y="623.6" width="9.2" height="9.2" fill="#fdb04f"/><rect x="411.2" y="623.6" width="9.2" height="9.2" fill="#fdb454"/><rect x="420.1" y="623.6" width="9.2" height="9.2" fill="#fdb958"/><rect x="429.1" y="623.6" width="9.2" height="9.2" fill="#fdbd5c"/><rect x="438.0" y="623.6" width="9.2" height="9.2" fill="#fec260"/><rect x="447.0" y="623.6" width="9.2" height="9.2" fill="#fec765"/><rect x="455.9" y="623.6" width="9.2" height="9.2" fill="#fec260"/><rect x="464.9" y="623.6" width="9.2" height="9.2" fill="#fec765"/><rect x="473.8" y="623.6" width="9.2" height="9.2" fill="#fec260"/><rect x="482.8" y="623.6" width="9.2" height="9.2" fill="#fecb69"/><rect x="491.7" y="623.6" width="27.1" height="9.2" fill="#fed06d"/><rect x="518.6" y="623.6" width="18.2" height="9.2" fill="#fecb69"/><rect x="536.5" y="623.6" width="9.2" height="9.2" fill="#fed06d"/><rect x="545.4" y="623.6" width="18.2" height="9.2" fill="#fec765"/><rect x="563.3" y="623.6" width="9.2" height="9.2" fill="#fec260"/><rect x="572.3" y="623.6" width="9.2" height="9.2" fill="#fdbd5c"/><rect x="581.2" y="623.6" width="18.2" height="9.2" fill="#fdb958"/><rect x="599.1" y="623.6" width="18.2" height="9.2" fill="#fec765"/><rect x="617.0" y="623.6" width="9.2" height="9.2" fill="#fdb04f"/><rect x="626.0" y="623.6" width="9.2" height="9.2" fill="#fc9c44"/><rect x="634.9" y="623.6" width="9.2" height="9.2" fill="#fb8e3c"/><rect x="643.9" y="623.6" width="9.2" height="9.2" fill="#fb923e"/><rect x="652.8" y="623.6" width="18.2" height="9.2" fill="#fb8e3c"/><rect x="670.8" y="623.6" width="9.2" height="9.2" fill="#f97f34"/><rect x="679.7" y="623.6" width="9.2" height="9.2" fill="#f77330"/><rect x="688.6" y="623.6" width="9.2" height="9.2" fill="#f4642c"/><rect x="697.6" y="623.6" width="9.2" height="9.2" fill="#eb3f23"/><rect x="706.5" y="623.6" width="9.2" height="9.2" fill="#ea3721"/><rect x="715.5" y="623.6" width="18.2" height="9.2" fill="#d72221"/><rect x="733.4" y="623.6" width="9.2" height="9.2" fill="#cc1822"/><rect x="742.3" y="623.6" width="9.2" height="9.2" fill="#c61323"/><rect x="751.3" y="623.6" width="9.2" height="9.2" fill="#c10e24"/><rect x="760.2" y="623.6" width="9.2" height="9.2" fill="#cc1822"/><rect x="769.2" y="623.6" width="18.2" height="9.2" fill="#c61323"/><rect x="787.1" y="623.6" width="9.2" height="9.2" fill="#bb0a25"/><rect x="930.3" y="623.6" width="18.2" height="9.2" fill="#fdb454"/><rect x="89.0" y="632.6" width="27.1" height="9.2" fill="#e8301f"/><rect x="115.8" y="632.6" width="9.2" height="9.2" fill="#ea3721"/><rect x="124.8" y="632.6" width="9.2" height="9.2" fill="#eb3f23"/><rect x="133.8" y="632.6" width="18.2" height="9.2" fill="#ed4625"/><rect x="151.6" y="632.6" width="9.2" height="9.2" fill="#f25c2a"/><rect x="160.6" y="632.6" width="9.2" height="9.2" fill="#f66b2e"/><rect x="169.5" y="632.6" width="9.2" height="9.2" fill="#f4642c"/><rect x="178.5" y="632.6" width="9.2" height="9.2" fill="#f66b2e"/><rect x="187.4" y="632.6" width="9.2" height="9.2" fill="#f4642c"/><rect x="214.3" y="632.6" width="9.2" height="9.2" fill="#ef4e27"/><rect x="223.2" y="632.6" width="9.2" height="9.2" fill="#ed4625"/><rect x="232.2" y="632.6" width="9.2" height="9.2" fill="#f05528"/><rect x="241.1" y="632.6" width="9.2" height="9.2" fill="#f77330"/><rect x="250.1" y="632.6" width="9.2" height="9.2" fill="#f97f34"/><rect x="259.0" y="632.6" width="9.2" height="9.2" fill="#fa893a"/><rect x="268.0" y="632.6" width="18.2" height="9.2" fill="#fb923e"/><rect x="285.9" y="632.6" width="9.2" height="9.2" fill="#fb9741"/><rect x="294.8" y="632.6" width="9.2" height="9.2" fill="#fb923e"/><rect x="303.8" y="632.6" width="9.2" height="9.2" fill="#fc9c44"/><rect x="312.8" y="632.6" width="9.2" height="9.2" fill="#fb9741"/><rect x="321.7" y="632.6" width="9.2" height="9.2" fill="#fca146"/><rect x="330.6" y="632.6" width="27.1" height="9.2" fill="#fda648"/><rect x="357.5" y="632.6" width="9.2" height="9.2" fill="#fdab4b"/><rect x="366.4" y="632.6" width="9.2" height="9.2" fill="#fda648"/><rect x="375.4" y="632.6" width="9.2" height="9.2" fill="#fdab4b"/><rect x="384.3" y="632.6" width="18.2" height="9.2" fill="#fda648"/><rect x="402.2" y="632.6" width="9.2" height="9.2" fill="#fdb04f"/><rect x="411.2" y="632.6" width="9.2" height="9.2" fill="#fdab4b"/><rect x="420.1" y="632.6" width="9.2" height="9.2" fill="#fdb04f"/><rect x="429.1" y="632.6" width="9.2" height="9.2" fill="#fec260"/><rect x="438.0" y="632.6" width="18.2" height="9.2" fill="#fecb69"/><rect x="455.9" y="632.6" width="9.2" height="9.2" fill="#fec260"/><rect x="464.9" y="632.6" width="9.2" height="9.2" fill="#fec765"/><rect x="473.8" y="632.6" width="9.2" height="9.2" fill="#fdbd5c"/><rect x="482.8" y="632.6" width="18.2" height="9.2" fill="#fec765"/><rect x="500.7" y="632.6" width="18.2" height="9.2" fill="#fed06d"/><rect x="518.6" y="632.6" width="9.2" height="9.2" fill="#fecb69"/><rect x="527.5" y="632.6" width="9.2" height="9.2" fill="#fed06d"/><rect x="536.5" y="632.6" width="9.2" height="9.2" fill="#fecb69"/><rect x="545.4" y="632.6" width="9.2" height="9.2" fill="#fec260"/><rect x="554.4" y="632.6" width="9.2" height="9.2" fill="#fdbd5c"/><rect x="563.3" y="632.6" width="9.2" height="9.2" fill="#fdb454"/><rect x="572.3" y="632.6" width="9.2" height="9.2" fill="#fdab4b"/><rect x="581.2" y="632.6" width="9.2" height="9.2" fill="#fdb454"/><rect x="590.2" y="632.6" width="18.2" height="9.2" fill="#fdb04f"/><rect x="608.1" y="632.6" width="9.2" height="9.2" fill="#fda648"/><rect x="617.0" y="632.6" width="9.2" height="9.2" fill="#fb8e3c"/><rect x="626.0" y="632.6" width="27.1" height="9.2" fill="#f97a32"/><rect x="652.8" y="632.6" width="18.2" height="9.2" fill="#fa8437"/><rect x="670.8" y="632.6" width="9.2" height="9.2" fill="#f77330"/><rect x="679.7" y="632.6" width="9.2" height="9.2" fill="#f66b2e"/><rect x="688.6" y="632.6" width="9.2" height="9.2" fill="#ef4e27"/><rect x="697.6" y="632.6" width="9.2" height="9.2" fill="#eb3f23"/><rect x="706.5" y="632.6" width="9.2" height="9.2" fill="#e22b20"/><rect x="715.5" y="632.6" width="9.2" height="9.2" fill="#dd2620"/><rect x="724.4" y="632.6" width="18.2" height="9.2" fill="#d21d22"/><rect x="742.3" y="632.6" width="18.2" height="9.2" fill="#c61323"/><rect x="760.2" y="632.6" width="18.2" height="9.2" fill="#c10e24"/><rect x="778.1" y="632.6" width="9.2" height="9.2" fill="#c61323"/><rect x="787.1" y="632.6" width="9.2" height="9.2" fill="#c10e24"/><rect x="796.0" y="632.6" width="9.2" height="9.2" fill="#bb0a25"/><rect x="106.9" y="641.5" width="9.2" height="9.2" fill="#e22b20"/><rect x="115.8" y="641.5" width="9.2" height="9.2" fill="#ea3721"/><rect x="124.8" y="641.5" width="9.2" height="9.2" fill="#eb3f23"/><rect x="133.8" y="641.5" width="9.2" height="9.2" fill="#ea3721"/><rect x="142.7" y="641.5" width="9.2" height="9.2" fill="#ed4625"/><rect x="151.6" y="641.5" width="9.2" height="9.2" fill="#f05528"/><rect x="160.6" y="641.5" width="9.2" height="9.2" fill="#f4642c"/><rect x="169.5" y="641.5" width="9.2" height="9.2" fill="#f66b2e"/><rect x="178.5" y="641.5" width="18.2" height="9.2" fill="#f4642c"/><rect x="214.3" y="641.5" width="18.2" height="9.2" fill="#ef4e27"/><rect x="232.2" y="641.5" width="9.2" height="9.2" fill="#f4642c"/><rect x="241.1" y="641.5" width="9.2" height="9.2" fill="#f97a32"/><rect x="250.1" y="641.5" width="9.2" height="9.2" fill="#fa893a"/><rect x="259.0" y="641.5" width="9.2" height="9.2" fill="#fb9741"/><rect x="268.0" y="641.5" width="9.2" height="9.2" fill="#fb923e"/><rect x="276.9" y="641.5" width="9.2" height="9.2" fill="#fb9741"/><rect x="285.9" y="641.5" width="27.1" height="9.2" fill="#fb923e"/><rect x="312.8" y="641.5" width="9.2" height="9.2" fill="#fb8e3c"/><rect x="321.7" y="641.5" width="9.2" height="9.2" fill="#fb923e"/><rect x="330.6" y="641.5" width="9.2" height="9.2" fill="#fb9741"/><rect x="339.6" y="641.5" width="9.2" height="9.2" fill="#fca146"/><rect x="348.5" y="641.5" width="18.2" height="9.2" fill="#fda648"/><rect x="366.4" y="641.5" width="9.2" height="9.2" fill="#fca146"/><rect x="375.4" y="641.5" width="27.1" height="9.2" fill="#fdab4b"/><rect x="402.2" y="641.5" width="9.2" height="9.2" fill="#fdb04f"/><rect x="411.2" y="641.5" width="9.2" height="9.2" fill="#fda648"/><rect x="420.1" y="641.5" width="18.2" height="9.2" fill="#fdb454"/><rect x="438.0" y="641.5" width="9.2" height="9.2" fill="#fdb958"/><rect x="447.0" y="641.5" width="18.2" height="9.2" fill="#fdbd5c"/><rect x="464.9" y="641.5" width="18.2" height="9.2" fill="#fec260"/><rect x="482.8" y="641.5" width="9.2" height="9.2" fill="#fec765"/><rect x="491.7" y="641.5" width="9.2" height="9.2" fill="#fecb69"/><rect x="500.7" y="641.5" width="9.2" height="9.2" fill="#fec765"/><rect x="509.6" y="641.5" width="9.2" height="9.2" fill="#fecb69"/><rect x="518.6" y="641.5" width="9.2" height="9.2" fill="#fec765"/><rect x="527.5" y="641.5" width="9.2" height="9.2" fill="#fed06d"/><rect x="536.5" y="641.5" width="18.2" height="9.2" fill="#fecb69"/><rect x="554.4" y="641.5" width="9.2" height="9.2" fill="#fdbd5c"/><rect x="563.3" y="641.5" width="9.2" height="9.2" fill="#fdb454"/><rect x="572.3" y="641.5" width="9.2" height="9.2" fill="#fdab4b"/><rect x="581.2" y="641.5" width="9.2" height="9.2" fill="#fca146"/><rect x="590.2" y="641.5" width="9.2" height="9.2" fill="#fda648"/><rect x="599.1" y="641.5" width="9.2" height="9.2" fill="#fc9c44"/><rect x="608.1" y="641.5" width="9.2" height="9.2" fill="#fa8437"/><rect x="617.0" y="641.5" width="9.2" height="9.2" fill="#f77330"/><rect x="626.0" y="641.5" width="9.2" height="9.2" fill="#f66b2e"/><rect x="634.9" y="641.5" width="9.2" height="9.2" fill="#f4642c"/><rect x="643.9" y="641.5" width="18.2" height="9.2" fill="#f77330"/><rect x="661.8" y="641.5" width="18.2" height="9.2" fill="#f66b2e"/><rect x="679.7" y="641.5" width="9.2" height="9.2" fill="#f05528"/><rect x="688.6" y="641.5" width="9.2" height="9.2" fill="#ed4625"/><rect x="697.6" y="641.5" width="9.2" height="9.2" fill="#e8301f"/><rect x="706.5" y="641.5" width="9.2" height="9.2" fill="#dd2620"/><rect x="715.5" y="641.5" width="18.2" height="9.2" fill="#d72221"/><rect x="733.4" y="641.5" width="9.2" height="9.2" fill="#cc1822"/><rect x="760.2" y="641.5" width="9.2" height="9.2" fill="#c10e24"/><rect x="769.2" y="641.5" width="9.2" height="9.2" fill="#c61323"/><rect x="778.1" y="641.5" width="9.2" height="9.2" fill="#bb0a25"/><rect x="787.1" y="641.5" width="9.2" height="9.2" fill="#c10e24"/><rect x="796.0" y="641.5" width="9.2" height="9.2" fill="#b60525"/><rect x="115.8" y="650.5" width="9.2" height="9.2" fill="#e8301f"/><rect x="124.8" y="650.5" width="9.2" height="9.2" fill="#ea3721"/><rect x="133.8" y="650.5" width="9.2" height="9.2" fill="#eb3f23"/><rect x="142.7" y="650.5" width="9.2" height="9.2" fill="#ed4625"/><rect x="151.6" y="650.5" width="9.2" height="9.2" fill="#f05528"/><rect x="160.6" y="650.5" width="9.2" height="9.2" fill="#f25c2a"/><rect x="169.5" y="650.5" width="9.2" height="9.2" fill="#f05528"/><rect x="178.5" y="650.5" width="9.2" height="9.2" fill="#f25c2a"/><rect x="187.4" y="650.5" width="9.2" height="9.2" fill="#f05528"/><rect x="214.3" y="650.5" width="9.2" height="9.2" fill="#eb3f23"/><rect x="223.2" y="650.5" width="9.2" height="9.2" fill="#ef4e27"/><rect x="232.2" y="650.5" width="9.2" height="9.2" fill="#f66b2e"/><rect x="241.1" y="650.5" width="9.2" height="9.2" fill="#fa8437"/><rect x="250.1" y="650.5" width="9.2" height="9.2" fill="#fb8e3c"/><rect x="259.0" y="650.5" width="9.2" height="9.2" fill="#fc9c44"/><rect x="268.0" y="650.5" width="9.2" height="9.2" fill="#fca146"/><rect x="276.9" y="650.5" width="9.2" height="9.2" fill="#fc9c44"/><rect x="285.9" y="650.5" width="9.2" height="9.2" fill="#fb923e"/><rect x="294.8" y="650.5" width="9.2" height="9.2" fill="#fb8e3c"/><rect x="303.8" y="650.5" width="9.2" height="9.2" fill="#fb923e"/><rect x="312.8" y="650.5" width="27.1" height="9.2" fill="#fb8e3c"/><rect x="339.6" y="650.5" width="9.2" height="9.2" fill="#fc9c44"/><rect x="348.5" y="650.5" width="18.2" height="9.2" fill="#fca146"/><rect x="366.4" y="650.5" width="45.0" height="9.2" fill="#fda648"/><rect x="411.2" y="650.5" width="18.2" height="9.2" fill="#fdab4b"/><rect x="429.1" y="650.5" width="9.2" height="9.2" fill="#fda648"/><rect x="438.0" y="650.5" width="9.2" height="9.2" fill="#fdab4b"/><rect x="447.0" y="650.5" width="36.1" height="9.2" fill="#fdb04f"/><rect x="482.8" y="650.5" width="9.2" height="9.2" fill="#fdbd5c"/><rect x="491.7" y="650.5" width="9.2" height="9.2" fill="#fec260"/><rect x="500.7" y="650.5" width="18.2" height="9.2" fill="#fecb69"/><rect x="518.6" y="650.5" width="9.2" height="9.2" fill="#fed06d"/><rect x="527.5" y="650.5" width="27.1" height="9.2" fill="#fecb69"/><rect x="554.4" y="650.5" width="9.2" height="9.2" fill="#fec765"/><rect x="563.3" y="650.5" width="9.2" height="9.2" fill="#fdb958"/><rect x="572.3" y="650.5" width="9.2" height="9.2" fill="#fda648"/><rect x="581.2" y="650.5" width="9.2" height="9.2" fill="#fca146"/><rect x="590.2" y="650.5" width="9.2" height="9.2" fill="#fb9741"/><rect x="599.1" y="650.5" width="9.2" height="9.2" fill="#fa8437"/><rect x="608.1" y="650.5" width="9.2" height="9.2" fill="#f97a32"/><rect x="617.0" y="650.5" width="18.2" height="9.2" fill="#f77330"/><rect x="634.9" y="650.5" width="9.2" height="9.2" fill="#f4642c"/><rect x="643.9" y="650.5" width="9.2" height="9.2" fill="#f77330"/><rect x="652.8" y="650.5" width="9.2" height="9.2" fill="#f66b2e"/><rect x="661.8" y="650.5" width="9.2" height="9.2" fill="#f4642c"/><rect x="670.8" y="650.5" width="9.2" height="9.2" fill="#f25c2a"/><rect x="679.7" y="650.5" width="9.2" height="9.2" fill="#ef4e27"/><rect x="688.6" y="650.5" width="9.2" height="9.2" fill="#ea3721"/><rect x="697.6" y="650.5" width="9.2" height="9.2" fill="#e22b20"/><rect x="706.5" y="650.5" width="18.2" height="9.2" fill="#dd2620"/><rect x="724.4" y="650.5" width="9.2" height="9.2" fill="#d21d22"/><rect x="124.8" y="659.4" width="9.2" height="9.2" fill="#ea3721"/><rect x="133.8" y="659.4" width="9.2" height="9.2" fill="#eb3f23"/><rect x="142.7" y="659.4" width="9.2" height="9.2" fill="#ef4e27"/><rect x="151.6" y="659.4" width="27.1" height="9.2" fill="#f05528"/><rect x="178.5" y="659.4" width="9.2" height="9.2" fill="#f25c2a"/><rect x="214.3" y="659.4" width="9.2" height="9.2" fill="#eb3f23"/><rect x="223.2" y="659.4" width="9.2" height="9.2" fill="#f05528"/><rect x="232.2" y="659.4" width="9.2" height="9.2" fill="#f66b2e"/><rect x="241.1" y="659.4" width="9.2" height="9.2" fill="#fa893a"/><rect x="250.1" y="659.4" width="9.2" height="9.2" fill="#fb8e3c"/><rect x="259.0" y="659.4" width="9.2" height="9.2" fill="#fca146"/><rect x="268.0" y="659.4" width="9.2" height="9.2" fill="#fdb04f"/><rect x="276.9" y="659.4" width="9.2" height="9.2" fill="#fda648"/><rect x="285.9" y="659.4" width="9.2" height="9.2" fill="#fc9c44"/><rect x="294.8" y="659.4" width="9.2" height="9.2" fill="#fb9741"/><rect x="303.8" y="659.4" width="9.2" height="9.2" fill="#fb8e3c"/><rect x="312.8" y="659.4" width="9.2" height="9.2" fill="#fb923e"/><rect x="321.7" y="659.4" width="9.2" height="9.2" fill="#fb8e3c"/><rect x="330.6" y="659.4" width="18.2" height="9.2" fill="#fb923e"/><rect x="348.5" y="659.4" width="9.2" height="9.2" fill="#fb9741"/><rect x="357.5" y="659.4" width="18.2" height="9.2" fill="#fca146"/><rect x="375.4" y="659.4" width="18.2" height="9.2" fill="#fda648"/><rect x="393.3" y="659.4" width="9.2" height="9.2" fill="#fca146"/><rect x="402.2" y="659.4" width="27.1" height="9.2" fill="#fda648"/><rect x="429.1" y="659.4" width="27.1" height="9.2" fill="#fdab4b"/><rect x="455.9" y="659.4" width="27.1" height="9.2" fill="#fda648"/><rect x="482.8" y="659.4" width="9.2" height="9.2" fill="#fdb958"/><rect x="491.7" y="659.4" width="9.2" height="9.2" fill="#fec765"/><rect x="500.7" y="659.4" width="9.2" height="9.2" fill="#fec260"/><rect x="509.6" y="659.4" width="27.1" height="9.2" fill="#fec765"/><rect x="536.5" y="659.4" width="18.2" height="9.2" fill="#fecb69"/><rect x="554.4" y="659.4" width="9.2" height="9.2" fill="#fec765"/><rect x="563.3" y="659.4" width="9.2" height="9.2" fill="#fdb04f"/><rect x="572.3" y="659.4" width="9.2" height="9.2" fill="#fc9c44"/><rect x="581.2" y="659.4" width="9.2" height="9.2" fill="#fb8e3c"/><rect x="590.2" y="659.4" width="9.2" height="9.2" fill="#f97f34"/><rect x="599.1" y="659.4" width="18.2" height="9.2" fill="#f97a32"/><rect x="617.0" y="659.4" width="9.2" height="9.2" fill="#f77330"/><rect x="626.0" y="659.4" width="18.2" height="9.2" fill="#f66b2e"/><rect x="643.9" y="659.4" width="9.2" height="9.2" fill="#f77330"/><rect x="652.8" y="659.4" width="9.2" height="9.2" fill="#f4642c"/><rect x="661.8" y="659.4" width="9.2" height="9.2" fill="#f05528"/><rect x="670.8" y="659.4" width="9.2" height="9.2" fill="#eb3f23"/><rect x="679.7" y="659.4" width="9.2" height="9.2" fill="#e8301f"/><rect x="688.6" y="659.4" width="9.2" height="9.2" fill="#dd2620"/><rect x="697.6" y="659.4" width="9.2" height="9.2" fill="#d72221"/><rect x="706.5" y="659.4" width="9.2" height="9.2" fill="#dd2620"/><rect x="715.5" y="659.4" width="9.2" height="9.2" fill="#d72221"/><rect x="133.8" y="668.4" width="9.2" height="9.2" fill="#eb3f23"/><rect x="142.7" y="668.4" width="9.2" height="9.2" fill="#f05528"/><rect x="151.6" y="668.4" width="9.2" height="9.2" fill="#ef4e27"/><rect x="160.6" y="668.4" width="9.2" height="9.2" fill="#f05528"/><rect x="223.2" y="668.4" width="9.2" height="9.2" fill="#f05528"/><rect x="232.2" y="668.4" width="9.2" height="9.2" fill="#f66b2e"/><rect x="241.1" y="668.4" width="9.2" height="9.2" fill="#fa8437"/><rect x="250.1" y="668.4" width="9.2" height="9.2" fill="#fb923e"/><rect x="259.0" y="668.4" width="9.2" height="9.2" fill="#fdab4b"/><rect x="268.0" y="668.4" width="9.2" height="9.2" fill="#fdb454"/><rect x="276.9" y="668.4" width="9.2" height="9.2" fill="#fdb04f"/><rect x="285.9" y="668.4" width="9.2" height="9.2" fill="#fdab4b"/><rect x="294.8" y="668.4" width="9.2" height="9.2" fill="#fc9c44"/><rect x="303.8" y="668.4" width="9.2" height="9.2" fill="#fb923e"/><rect x="312.8" y="668.4" width="18.2" height="9.2" fill="#fb8e3c"/><rect x="330.6" y="668.4" width="18.2" height="9.2" fill="#fb9741"/><rect x="348.5" y="668.4" width="18.2" height="9.2" fill="#fc9c44"/><rect x="366.4" y="668.4" width="36.1" height="9.2" fill="#fda648"/><rect x="402.2" y="668.4" width="9.2" height="9.2" fill="#fdab4b"/><rect x="411.2" y="668.4" width="9.2" height="9.2" fill="#fda648"/><rect x="420.1" y="668.4" width="9.2" height="9.2" fill="#fdab4b"/><rect x="429.1" y="668.4" width="18.2" height="9.2" fill="#fda648"/><rect x="447.0" y="668.4" width="9.2" height="9.2" fill="#fdab4b"/><rect x="455.9" y="668.4" width="9.2" height="9.2" fill="#fda648"/><rect x="464.9" y="668.4" width="18.2" height="9.2" fill="#fca146"/><rect x="482.8" y="668.4" width="9.2" height="9.2" fill="#fdb04f"/><rect x="491.7" y="668.4" width="9.2" height="9.2" fill="#fdbd5c"/><rect x="500.7" y="668.4" width="9.2" height="9.2" fill="#fec260"/><rect x="509.6" y="668.4" width="9.2" height="9.2" fill="#fdbd5c"/><rect x="518.6" y="668.4" width="9.2" height="9.2" fill="#fec260"/><rect x="527.5" y="668.4" width="27.1" height="9.2" fill="#fdbd5c"/><rect x="554.4" y="668.4" width="9.2" height="9.2" fill="#fdb454"/><rect x="563.3" y="668.4" width="9.2" height="9.2" fill="#fb9741"/><rect x="572.3" y="668.4" width="9.2" height="9.2" fill="#fa893a"/><rect x="581.2" y="668.4" width="9.2" height="9.2" fill="#f97a32"/><rect x="590.2" y="668.4" width="9.2" height="9.2" fill="#f97f34"/><rect x="599.1" y="668.4" width="18.2" height="9.2" fill="#f97a32"/><rect x="617.0" y="668.4" width="9.2" height="9.2" fill="#fa8437"/><rect x="626.0" y="668.4" width="18.2" height="9.2" fill="#f77330"/><rect x="643.9" y="668.4" width="9.2" height="9.2" fill="#f4642c"/><rect x="652.8" y="668.4" width="9.2" height="9.2" fill="#f05528"/><rect x="661.8" y="668.4" width="9.2" height="9.2" fill="#e22b20"/><rect x="670.8" y="668.4" width="9.2" height="9.2" fill="#dd2620"/><rect x="679.7" y="668.4" width="18.2" height="9.2" fill="#d72221"/><rect x="697.6" y="668.4" width="18.2" height="9.2" fill="#d21d22"/><rect x="715.5" y="668.4" width="9.2" height="9.2" fill="#d72221"/><rect x="223.2" y="677.3" width="9.2" height="9.2" fill="#ed4625"/><rect x="232.2" y="677.3" width="9.2" height="9.2" fill="#f05528"/><rect x="241.1" y="677.3" width="9.2" height="9.2" fill="#fa8437"/><rect x="250.1" y="677.3" width="9.2" height="9.2" fill="#fb9741"/><rect x="259.0" y="677.3" width="9.2" height="9.2" fill="#fdb454"/><rect x="268.0" y="677.3" width="9.2" height="9.2" fill="#fdbd5c"/><rect x="276.9" y="677.3" width="9.2" height="9.2" fill="#fdb958"/><rect x="285.9" y="677.3" width="9.2" height="9.2" fill="#fdab4b"/><rect x="294.8" y="677.3" width="9.2" height="9.2" fill="#fca146"/><rect x="303.8" y="677.3" width="9.2" height="9.2" fill="#fc9c44"/><rect x="312.8" y="677.3" width="9.2" height="9.2" fill="#fb923e"/><rect x="321.7" y="677.3" width="9.2" height="9.2" fill="#fb9741"/><rect x="330.6" y="677.3" width="9.2" height="9.2" fill="#fb923e"/><rect x="339.6" y="677.3" width="9.2" height="9.2" fill="#fb9741"/><rect x="348.5" y="677.3" width="9.2" height="9.2" fill="#fc9c44"/><rect x="357.5" y="677.3" width="18.2" height="9.2" fill="#fda648"/><rect x="375.4" y="677.3" width="9.2" height="9.2" fill="#fdb04f"/><rect x="384.3" y="677.3" width="45.0" height="9.2" fill="#fdab4b"/><rect x="429.1" y="677.3" width="9.2" height="9.2" fill="#fda648"/><rect x="438.0" y="677.3" width="9.2" height="9.2" fill="#fdab4b"/><rect x="447.0" y="677.3" width="18.2" height="9.2" fill="#fc9c44"/><rect x="464.9" y="677.3" width="9.2" height="9.2" fill="#fb923e"/><rect x="473.8" y="677.3" width="9.2" height="9.2" fill="#fb9741"/><rect x="482.8" y="677.3" width="9.2" height="9.2" fill="#fda648"/><rect x="491.7" y="677.3" width="9.2" height="9.2" fill="#fdb454"/><rect x="500.7" y="677.3" width="9.2" height="9.2" fill="#fdbd5c"/><rect x="509.6" y="677.3" width="9.2" height="9.2" fill="#fec260"/><rect x="518.6" y="677.3" width="9.2" height="9.2" fill="#fdbd5c"/><rect x="527.5" y="677.3" width="18.2" height="9.2" fill="#fdb958"/><rect x="545.4" y="677.3" width="9.2" height="9.2" fill="#fdb04f"/><rect x="554.4" y="677.3" width="9.2" height="9.2" fill="#fca146"/><rect x="563.3" y="677.3" width="9.2" height="9.2" fill="#fa893a"/><rect x="572.3" y="677.3" width="9.2" height="9.2" fill="#f97f34"/><rect x="581.2" y="677.3" width="18.2" height="9.2" fill="#f97a32"/><rect x="599.1" y="677.3" width="18.2" height="9.2" fill="#fa8437"/><rect x="617.0" y="677.3" width="9.2" height="9.2" fill="#fb923e"/><rect x="626.0" y="677.3" width="9.2" height="9.2" fill="#fa8437"/><rect x="634.9" y="677.3" width="9.2" height="9.2" fill="#f66b2e"/><rect x="643.9" y="677.3" width="9.2" height="9.2" fill="#ed4625"/><rect x="652.8" y="677.3" width="9.2" height="9.2" fill="#e22b20"/><rect x="661.8" y="677.3" width="9.2" height="9.2" fill="#d21d22"/><rect x="670.8" y="677.3" width="36.1" height="9.2" fill="#cc1822"/><rect x="706.5" y="677.3" width="9.2" height="9.2" fill="#d72221"/><rect x="715.5" y="677.3" width="9.2" height="9.2" fill="#d21d22"/><rect x="223.2" y="686.3" width="9.2" height="9.2" fill="#ea3721"/><rect x="232.2" y="686.3" width="9.2" height="9.2" fill="#ef4e27"/><rect x="241.1" y="686.3" width="9.2" height="9.2" fill="#f97a32"/><rect x="250.1" y="686.3" width="9.2" height="9.2" fill="#fc9c44"/><rect x="259.0" y="686.3" width="9.2" height="9.2" fill="#fdb454"/><rect x="268.0" y="686.3" width="9.2" height="9.2" fill="#fdb958"/><rect x="276.9" y="686.3" width="9.2" height="9.2" fill="#fdb454"/><rect x="285.9" y="686.3" width="18.2" height="9.2" fill="#fdb04f"/><rect x="303.8" y="686.3" width="9.2" height="9.2" fill="#fca146"/><rect x="312.8" y="686.3" width="9.2" height="9.2" fill="#fda648"/><rect x="321.7" y="686.3" width="9.2" height="9.2" fill="#fc9c44"/><rect x="330.6" y="686.3" width="9.2" height="9.2" fill="#fb9741"/><rect x="339.6" y="686.3" width="18.2" height="9.2" fill="#fc9c44"/><rect x="357.5" y="686.3" width="9.2" height="9.2" fill="#fda648"/><rect x="366.4" y="686.3" width="9.2" height="9.2" fill="#fdb04f"/><rect x="375.4" y="686.3" width="9.2" height="9.2" fill="#fdb454"/><rect x="384.3" y="686.3" width="18.2" height="9.2" fill="#fdb04f"/><rect x="402.2" y="686.3" width="9.2" height="9.2" fill="#fdab4b"/><rect x="411.2" y="686.3" width="9.2" height="9.2" fill="#fdb04f"/><rect x="420.1" y="686.3" width="18.2" height="9.2" fill="#fda648"/><rect x="438.0" y="686.3" width="9.2" height="9.2" fill="#fca146"/><rect x="447.0" y="686.3" width="9.2" height="9.2" fill="#fb9741"/><rect x="455.9" y="686.3" width="9.2" height="9.2" fill="#fb923e"/><rect x="464.9" y="686.3" width="18.2" height="9.2" fill="#fa893a"/><rect x="482.8" y="686.3" width="9.2" height="9.2" fill="#fb9741"/><rect x="491.7" y="686.3" width="9.2" height="9.2" fill="#fdb04f"/><rect x="500.7" y="686.3" width="9.2" height="9.2" fill="#fdbd5c"/><rect x="509.6" y="686.3" width="18.2" height="9.2" fill="#fdb958"/><rect x="527.5" y="686.3" width="18.2" height="9.2" fill="#fdb04f"/><rect x="545.4" y="686.3" width="9.2" height="9.2" fill="#fca146"/><rect x="554.4" y="686.3" width="9.2" height="9.2" fill="#fb923e"/><rect x="563.3" y="686.3" width="9.2" height="9.2" fill="#fa8437"/><rect x="572.3" y="686.3" width="18.2" height="9.2" fill="#f97f34"/><rect x="590.2" y="686.3" width="18.2" height="9.2" fill="#fa8437"/><rect x="608.1" y="686.3" width="18.2" height="9.2" fill="#fb9741"/><rect x="626.0" y="686.3" width="9.2" height="9.2" fill="#fb8e3c"/><rect x="634.9" y="686.3" width="9.2" height="9.2" fill="#f66b2e"/><rect x="643.9" y="686.3" width="9.2" height="9.2" fill="#ea3721"/><rect x="652.8" y="686.3" width="9.2" height="9.2" fill="#d72221"/><rect x="661.8" y="686.3" width="9.2" height="9.2" fill="#c61323"/><rect x="670.8" y="686.3" width="9.2" height="9.2" fill="#cc1822"/><rect x="679.7" y="686.3" width="18.2" height="9.2" fill="#c61323"/><rect x="697.6" y="686.3" width="27.1" height="9.2" fill="#d21d22"/><rect x="214.3" y="695.2" width="9.2" height="9.2" fill="#e8301f"/><rect x="223.2" y="695.2" width="9.2" height="9.2" fill="#ea3721"/><rect x="232.2" y="695.2" width="9.2" height="9.2" fill="#ef4e27"/><rect x="241.1" y="695.2" width="9.2" height="9.2" fill="#f77330"/><rect x="250.1" y="695.2" width="9.2" height="9.2" fill="#fb923e"/><rect x="259.0" y="695.2" width="9.2" height="9.2" fill="#fdb04f"/><rect x="268.0" y="695.2" width="18.2" height="9.2" fill="#fdb958"/><rect x="285.9" y="695.2" width="18.2" height="9.2" fill="#fdb454"/><rect x="303.8" y="695.2" width="9.2" height="9.2" fill="#fdb04f"/><rect x="312.8" y="695.2" width="9.2" height="9.2" fill="#fdb454"/><rect x="321.7" y="695.2" width="9.2" height="9.2" fill="#fda648"/><rect x="330.6" y="695.2" width="9.2" height="9.2" fill="#fdab4b"/><rect x="339.6" y="695.2" width="9.2" height="9.2" fill="#fca146"/><rect x="348.5" y="695.2" width="9.2" height="9.2" fill="#fda648"/><rect x="357.5" y="695.2" width="9.2" height="9.2" fill="#fdab4b"/><rect x="366.4" y="695.2" width="9.2" height="9.2" fill="#fdb454"/><rect x="375.4" y="695.2" width="9.2" height="9.2" fill="#fdb04f"/><rect x="384.3" y="695.2" width="27.1" height="9.2" fill="#fdb454"/><rect x="411.2" y="695.2" width="9.2" height="9.2" fill="#fdab4b"/><rect x="420.1" y="695.2" width="9.2" height="9.2" fill="#fda648"/><rect x="429.1" y="695.2" width="9.2" height="9.2" fill="#fca146"/><rect x="438.0" y="695.2" width="18.2" height="9.2" fill="#fb923e"/><rect x="455.9" y="695.2" width="9.2" height="9.2" fill="#fa893a"/><rect x="464.9" y="695.2" width="9.2" height="9.2" fill="#fa8437"/><rect x="473.8" y="695.2" width="9.2" height="9.2" fill="#f97f34"/><rect x="482.8" y="695.2" width="9.2" height="9.2" fill="#fa893a"/><rect x="491.7" y="695.2" width="9.2" height="9.2" fill="#fb9741"/><rect x="500.7" y="695.2" width="9.2" height="9.2" fill="#fdab4b"/><rect x="509.6" y="695.2" width="9.2" height="9.2" fill="#fdb04f"/><rect x="518.6" y="695.2" width="9.2" height="9.2" fill="#fdab4b"/><rect x="527.5" y="695.2" width="18.2" height="9.2" fill="#fda648"/><rect x="545.4" y="695.2" width="9.2" height="9.2" fill="#fc9c44"/><rect x="554.4" y="695.2" width="9.2" height="9.2" fill="#fb8e3c"/><rect x="563.3" y="695.2" width="18.2" height="9.2" fill="#fa8437"/><rect x="581.2" y="695.2" width="9.2" height="9.2" fill="#f97f34"/><rect x="590.2" y="695.2" width="9.2" height="9.2" fill="#fa893a"/><rect x="599.1" y="695.2" width="9.2" height="9.2" fill="#fb8e3c"/><rect x="608.1" y="695.2" width="9.2" height="9.2" fill="#fc9c44"/><rect x="617.0" y="695.2" width="9.2" height="9.2" fill="#fda648"/><rect x="626.0" y="695.2" width="9.2" height="9.2" fill="#fdb04f"/><rect x="634.9" y="695.2" width="9.2" height="9.2" fill="#f05528"/><rect x="643.9" y="695.2" width="9.2" height="9.2" fill="#e8301f"/><rect x="652.8" y="695.2" width="9.2" height="9.2" fill="#d21d22"/><rect x="661.8" y="695.2" width="9.2" height="9.2" fill="#c61323"/><rect x="670.8" y="695.2" width="9.2" height="9.2" fill="#c10e24"/><rect x="679.7" y="695.2" width="18.2" height="9.2" fill="#c61323"/><rect x="697.6" y="695.2" width="18.2" height="9.2" fill="#cc1822"/><rect x="214.3" y="704.2" width="9.2" height="9.2" fill="#e8301f"/><rect x="223.2" y="704.2" width="9.2" height="9.2" fill="#ea3721"/><rect x="232.2" y="704.2" width="9.2" height="9.2" fill="#eb3f23"/><rect x="241.1" y="704.2" width="9.2" height="9.2" fill="#f25c2a"/><rect x="250.1" y="704.2" width="9.2" height="9.2" fill="#fa893a"/><rect x="259.0" y="704.2" width="9.2" height="9.2" fill="#fda648"/><rect x="268.0" y="704.2" width="45.0" height="9.2" fill="#fdb454"/><rect x="312.8" y="704.2" width="9.2" height="9.2" fill="#fdb958"/><rect x="321.7" y="704.2" width="9.2" height="9.2" fill="#fdb454"/><rect x="330.6" y="704.2" width="18.2" height="9.2" fill="#fdb04f"/><rect x="348.5" y="704.2" width="9.2" height="9.2" fill="#fdb454"/><rect x="357.5" y="704.2" width="9.2" height="9.2" fill="#fdb04f"/><rect x="366.4" y="704.2" width="9.2" height="9.2" fill="#fdb454"/><rect x="375.4" y="704.2" width="9.2" height="9.2" fill="#fdb958"/><rect x="384.3" y="704.2" width="36.1" height="9.2" fill="#fdb04f"/><rect x="420.1" y="704.2" width="9.2" height="9.2" fill="#fca146"/><rect x="429.1" y="704.2" width="9.2" height="9.2" fill="#fb9741"/><rect x="438.0" y="704.2" width="9.2" height="9.2" fill="#fb8e3c"/><rect x="447.0" y="704.2" width="9.2" height="9.2" fill="#fa893a"/><rect x="455.9" y="704.2" width="9.2" height="9.2" fill="#f97f34"/><rect x="464.9" y="704.2" width="9.2" height="9.2" fill="#f97a32"/><rect x="473.8" y="704.2" width="9.2" height="9.2" fill="#f77330"/><rect x="482.8" y="704.2" width="9.2" height="9.2" fill="#f97a32"/><rect x="491.7" y="704.2" width="9.2" height="9.2" fill="#fa8437"/><rect x="500.7" y="704.2" width="9.2" height="9.2" fill="#fb8e3c"/><rect x="509.6" y="704.2" width="9.2" height="9.2" fill="#fb9741"/><rect x="518.6" y="704.2" width="9.2" height="9.2" fill="#fca146"/><rect x="527.5" y="704.2" width="9.2" height="9.2" fill="#fb9741"/><rect x="536.5" y="704.2" width="9.2" height="9.2" fill="#fc9c44"/><rect x="545.4" y="704.2" width="9.2" height="9.2" fill="#fb923e"/><rect x="554.4" y="704.2" width="9.2" height="9.2" fill="#fb9741"/><rect x="563.3" y="704.2" width="18.2" height="9.2" fill="#fa893a"/><rect x="581.2" y="704.2" width="9.2" height="9.2" fill="#fb8e3c"/><rect x="590.2" y="704.2" width="9.2" height="9.2" fill="#fa893a"/><rect x="599.1" y="704.2" width="18.2" height="9.2" fill="#fb8e3c"/><rect x="617.0" y="704.2" width="9.2" height="9.2" fill="#fca146"/><rect x="626.0" y="704.2" width="9.2" height="9.2" fill="#f66b2e"/><rect x="634.9" y="704.2" width="9.2" height="9.2" fill="#ea3721"/><rect x="643.9" y="704.2" width="9.2" height="9.2" fill="#d72221"/><rect x="652.8" y="704.2" width="9.2" height="9.2" fill="#cc1822"/><rect x="661.8" y="704.2" width="18.2" height="9.2" fill="#c61323"/><rect x="679.7" y="704.2" width="18.2" height="9.2" fill="#c10e24"/><rect x="214.3" y="713.1" width="9.2" height="9.2" fill="#e22b20"/><rect x="223.2" y="713.1" width="9.2" height="9.2" fill="#e8301f"/><rect x="232.2" y="713.1" width="9.2" height="9.2" fill="#eb3f23"/><rect x="241.1" y="713.1" width="9.2" height="9.2" fill="#f25c2a"/><rect x="250.1" y="713.1" width="9.2" height="9.2" fill="#fa893a"/><rect x="259.0" y="713.1" width="9.2" height="9.2" fill="#fc9c44"/><rect x="268.0" y="713.1" width="9.2" height="9.2" fill="#fdab4b"/><rect x="276.9" y="713.1" width="18.2" height="9.2" fill="#fdb958"/><rect x="294.8" y="713.1" width="18.2" height="9.2" fill="#fdb454"/><rect x="312.8" y="713.1" width="9.2" height="9.2" fill="#fdbd5c"/><rect x="321.7" y="713.1" width="9.2" height="9.2" fill="#fdb958"/><rect x="330.6" y="713.1" width="9.2" height="9.2" fill="#fdbd5c"/><rect x="339.6" y="713.1" width="9.2" height="9.2" fill="#fdb958"/><rect x="348.5" y="713.1" width="62.9" height="9.2" fill="#fdb454"/><rect x="411.2" y="713.1" width="9.2" height="9.2" fill="#fdab4b"/><rect x="420.1" y="713.1" width="9.2" height="9.2" fill="#fda648"/><rect x="429.1" y="713.1" width="9.2" height="9.2" fill="#fb9741"/><rect x="438.0" y="713.1" width="9.2" height="9.2" fill="#fb8e3c"/><rect x="447.0" y="713.1" width="9.2" height="9.2" fill="#fa893a"/><rect x="455.9" y="713.1" width="18.2" height="9.2" fill="#f97a32"/><rect x="473.8" y="713.1" width="18.2" height="9.2" fill="#f66b2e"/><rect x="491.7" y="713.1" width="18.2" height="9.2" fill="#f97f34"/><rect x="509.6" y="713.1" width="9.2" height="9.2" fill="#fb8e3c"/><rect x="518.6" y="713.1" width="9.2" height="9.2" fill="#fa893a"/><rect x="527.5" y="713.1" width="18.2" height="9.2" fill="#fb923e"/><rect x="545.4" y="713.1" width="9.2" height="9.2" fill="#fb8e3c"/><rect x="554.4" y="713.1" width="9.2" height="9.2" fill="#fb9741"/><rect x="563.3" y="713.1" width="9.2" height="9.2" fill="#fc9c44"/><rect x="572.3" y="713.1" width="18.2" height="9.2" fill="#fb923e"/><rect x="590.2" y="713.1" width="9.2" height="9.2" fill="#fa893a"/><rect x="599.1" y="713.1" width="9.2" height="9.2" fill="#fa8437"/><rect x="608.1" y="713.1" width="9.2" height="9.2" fill="#f77330"/><rect x="617.0" y="713.1" width="9.2" height="9.2" fill="#f05528"/><rect x="626.0" y="713.1" width="9.2" height="9.2" fill="#eb3f23"/><rect x="634.9" y="713.1" width="9.2" height="9.2" fill="#dd2620"/><rect x="643.9" y="713.1" width="9.2" height="9.2" fill="#d72221"/><rect x="652.8" y="713.1" width="9.2" height="9.2" fill="#c61323"/><rect x="661.8" y="713.1" width="9.2" height="9.2" fill="#cc1822"/><rect x="223.2" y="722.1" width="9.2" height="9.2" fill="#eb3f23"/><rect x="232.2" y="722.1" width="9.2" height="9.2" fill="#f05528"/><rect x="241.1" y="722.1" width="9.2" height="9.2" fill="#f4642c"/><rect x="250.1" y="722.1" width="9.2" height="9.2" fill="#f77330"/><rect x="259.0" y="722.1" width="9.2" height="9.2" fill="#fb923e"/><rect x="268.0" y="722.1" width="9.2" height="9.2" fill="#fda648"/><rect x="276.9" y="722.1" width="9.2" height="9.2" fill="#fdb958"/><rect x="285.9" y="722.1" width="9.2" height="9.2" fill="#fdbd5c"/><rect x="294.8" y="722.1" width="9.2" height="9.2" fill="#fec260"/><rect x="303.8" y="722.1" width="36.1" height="9.2" fill="#fdb958"/><rect x="339.6" y="722.1" width="27.1" height="9.2" fill="#fdb454"/><rect x="366.4" y="722.1" width="9.2" height="9.2" fill="#fdb958"/><rect x="375.4" y="722.1" width="18.2" height="9.2" fill="#fdb454"/><rect x="393.3" y="722.1" width="9.2" height="9.2" fill="#fdb04f"/><rect x="402.2" y="722.1" width="9.2" height="9.2" fill="#fdb454"/><rect x="411.2" y="722.1" width="9.2" height="9.2" fill="#fdab4b"/><rect x="420.1" y="722.1" width="9.2" height="9.2" fill="#fca146"/><rect x="429.1" y="722.1" width="9.2" height="9.2" fill="#fb923e"/><rect x="438.0" y="722.1" width="9.2" height="9.2" fill="#fa893a"/><rect x="447.0" y="722.1" width="9.2" height="9.2" fill="#f97f34"/><rect x="455.9" y="722.1" width="18.2" height="9.2" fill="#f77330"/><rect x="473.8" y="722.1" width="9.2" height="9.2" fill="#f66b2e"/><rect x="482.8" y="722.1" width="9.2" height="9.2" fill="#f4642c"/><rect x="491.7" y="722.1" width="18.2" height="9.2" fill="#f97a32"/><rect x="509.6" y="722.1" width="9.2" height="9.2" fill="#f97f34"/><rect x="518.6" y="722.1" width="9.2" height="9.2" fill="#fa8437"/><rect x="527.5" y="722.1" width="18.2" height="9.2" fill="#fa893a"/><rect x="545.4" y="722.1" width="9.2" height="9.2" fill="#fb8e3c"/><rect x="554.4" y="722.1" width="9.2" height="9.2" fill="#fc9c44"/><rect x="563.3" y="722.1" width="9.2" height="9.2" fill="#fca146"/><rect x="572.3" y="722.1" width="9.2" height="9.2" fill="#fda648"/><rect x="581.2" y="722.1" width="9.2" height="9.2" fill="#fc9c44"/><rect x="590.2" y="722.1" width="9.2" height="9.2" fill="#fb8e3c"/><rect x="599.1" y="722.1" width="9.2" height="9.2" fill="#f66b2e"/><rect x="608.1" y="722.1" width="9.2" height="9.2" fill="#ef4e27"/><rect x="617.0" y="722.1" width="9.2" height="9.2" fill="#ed4625"/><rect x="626.0" y="722.1" width="9.2" height="9.2" fill="#e22b20"/><rect x="634.9" y="722.1" width="9.2" height="9.2" fill="#d72221"/><rect x="643.9" y="722.1" width="9.2" height="9.2" fill="#d21d22"/><rect x="652.8" y="722.1" width="9.2" height="9.2" fill="#cc1822"/><rect x="223.2" y="731.0" width="9.2" height="9.2" fill="#ed4625"/><rect x="232.2" y="731.0" width="9.2" height="9.2" fill="#f05528"/><rect x="241.1" y="731.0" width="9.2" height="9.2" fill="#f66b2e"/><rect x="250.1" y="731.0" width="9.2" height="9.2" fill="#f97a32"/><rect x="259.0" y="731.0" width="9.2" height="9.2" fill="#fb923e"/><rect x="268.0" y="731.0" width="9.2" height="9.2" fill="#fda648"/><rect x="276.9" y="731.0" width="18.2" height="9.2" fill="#fdb958"/><rect x="294.8" y="731.0" width="36.1" height="9.2" fill="#fdbd5c"/><rect x="330.6" y="731.0" width="45.0" height="9.2" fill="#fdb958"/><rect x="375.4" y="731.0" width="9.2" height="9.2" fill="#fdb454"/><rect x="384.3" y="731.0" width="27.1" height="9.2" fill="#fdb04f"/><rect x="411.2" y="731.0" width="9.2" height="9.2" fill="#fdab4b"/><rect x="420.1" y="731.0" width="9.2" height="9.2" fill="#fc9c44"/><rect x="429.1" y="731.0" width="9.2" height="9.2" fill="#fb8e3c"/><rect x="438.0" y="731.0" width="9.2" height="9.2" fill="#fa893a"/><rect x="447.0" y="731.0" width="9.2" height="9.2" fill="#f97f34"/><rect x="455.9" y="731.0" width="9.2" height="9.2" fill="#f97a32"/><rect x="464.9" y="731.0" width="18.2" height="9.2" fill="#f77330"/><rect x="482.8" y="731.0" width="9.2" height="9.2" fill="#f66b2e"/><rect x="491.7" y="731.0" width="18.2" height="9.2" fill="#f77330"/><rect x="509.6" y="731.0" width="9.2" height="9.2" fill="#f97a32"/><rect x="518.6" y="731.0" width="27.1" height="9.2" fill="#fa8437"/><rect x="545.4" y="731.0" width="9.2" height="9.2" fill="#fb923e"/><rect x="554.4" y="731.0" width="9.2" height="9.2" fill="#fca146"/><rect x="563.3" y="731.0" width="18.2" height="9.2" fill="#fdab4b"/><rect x="581.2" y="731.0" width="9.2" height="9.2" fill="#fca146"/><rect x="590.2" y="731.0" width="9.2" height="9.2" fill="#fa893a"/><rect x="599.1" y="731.0" width="9.2" height="9.2" fill="#f4642c"/><rect x="608.1" y="731.0" width="9.2" height="9.2" fill="#eb3f23"/><rect x="617.0" y="731.0" width="9.2" height="9.2" fill="#ea3721"/><rect x="626.0" y="731.0" width="9.2" height="9.2" fill="#e22b20"/><rect x="634.9" y="731.0" width="9.2" height="9.2" fill="#cc1822"/><rect x="643.9" y="731.0" width="9.2" height="9.2" fill="#c61323"/><rect x="223.2" y="740.0" width="9.2" height="9.2" fill="#ed4625"/><rect x="232.2" y="740.0" width="9.2" height="9.2" fill="#f25c2a"/><rect x="241.1" y="740.0" width="9.2" height="9.2" fill="#f77330"/><rect x="250.1" y="740.0" width="9.2" height="9.2" fill="#fa893a"/><rect x="259.0" y="740.0" width="9.2" height="9.2" fill="#fca146"/><rect x="268.0" y="740.0" width="9.2" height="9.2" fill="#fdab4b"/><rect x="276.9" y="740.0" width="9.2" height="9.2" fill="#fdb958"/><rect x="285.9" y="740.0" width="27.1" height="9.2" fill="#fdbd5c"/><rect x="312.8" y="740.0" width="18.2" height="9.2" fill="#fec260"/><rect x="330.6" y="740.0" width="27.1" height="9.2" fill="#fdbd5c"/><rect x="357.5" y="740.0" width="18.2" height="9.2" fill="#fdb958"/><rect x="375.4" y="740.0" width="18.2" height="9.2" fill="#fdb454"/><rect x="393.3" y="740.0" width="18.2" height="9.2" fill="#fdab4b"/><rect x="411.2" y="740.0" width="9.2" height="9.2" fill="#fda648"/><rect x="420.1" y="740.0" width="9.2" height="9.2" fill="#fb9741"/><rect x="429.1" y="740.0" width="9.2" height="9.2" fill="#fb923e"/><rect x="438.0" y="740.0" width="9.2" height="9.2" fill="#fa893a"/><rect x="447.0" y="740.0" width="9.2" height="9.2" fill="#f97f34"/><rect x="455.9" y="740.0" width="9.2" height="9.2" fill="#f77330"/><rect x="464.9" y="740.0" width="18.2" height="9.2" fill="#f4642c"/><rect x="482.8" y="740.0" width="18.2" height="9.2" fill="#f66b2e"/><rect x="500.7" y="740.0" width="36.1" height="9.2" fill="#f97a32"/><rect x="536.5" y="740.0" width="9.2" height="9.2" fill="#f97f34"/><rect x="545.4" y="740.0" width="9.2" height="9.2" fill="#fa893a"/><rect x="554.4" y="740.0" width="9.2" height="9.2" fill="#fc9c44"/><rect x="563.3" y="740.0" width="9.2" height="9.2" fill="#fdb04f"/><rect x="572.3" y="740.0" width="9.2" height="9.2" fill="#fdab4b"/><rect x="581.2" y="740.0" width="9.2" height="9.2" fill="#fca146"/><rect x="590.2" y="740.0" width="9.2" height="9.2" fill="#fa893a"/><rect x="599.1" y="740.0" width="9.2" height="9.2" fill="#f4642c"/><rect x="608.1" y="740.0" width="9.2" height="9.2" fill="#ea3721"/><rect x="617.0" y="740.0" width="9.2" height="9.2" fill="#e8301f"/><rect x="626.0" y="740.0" width="9.2" height="9.2" fill="#dd2620"/><rect x="634.9" y="740.0" width="9.2" height="9.2" fill="#cc1822"/><rect x="223.2" y="748.9" width="9.2" height="9.2" fill="#ed4625"/><rect x="232.2" y="748.9" width="9.2" height="9.2" fill="#f25c2a"/><rect x="241.1" y="748.9" width="9.2" height="9.2" fill="#f97a32"/><rect x="250.1" y="748.9" width="9.2" height="9.2" fill="#fb8e3c"/><rect x="259.0" y="748.9" width="9.2" height="9.2" fill="#fda648"/><rect x="268.0" y="748.9" width="9.2" height="9.2" fill="#fdb454"/><rect x="276.9" y="748.9" width="36.1" height="9.2" fill="#fdbd5c"/><rect x="312.8" y="748.9" width="27.1" height="9.2" fill="#fec260"/><rect x="339.6" y="748.9" width="18.2" height="9.2" fill="#fdbd5c"/><rect x="357.5" y="748.9" width="18.2" height="9.2" fill="#fdb454"/><rect x="375.4" y="748.9" width="9.2" height="9.2" fill="#fdb04f"/><rect x="384.3" y="748.9" width="9.2" height="9.2" fill="#fdb454"/><rect x="393.3" y="748.9" width="9.2" height="9.2" fill="#fdab4b"/><rect x="402.2" y="748.9" width="9.2" height="9.2" fill="#fda648"/><rect x="411.2" y="748.9" width="9.2" height="9.2" fill="#fca146"/><rect x="420.1" y="748.9" width="9.2" height="9.2" fill="#fb923e"/><rect x="429.1" y="748.9" width="9.2" height="9.2" fill="#fa893a"/><rect x="438.0" y="748.9" width="9.2" height="9.2" fill="#fa8437"/><rect x="447.0" y="748.9" width="9.2" height="9.2" fill="#f97a32"/><rect x="455.9" y="748.9" width="9.2" height="9.2" fill="#f66b2e"/><rect x="464.9" y="748.9" width="9.2" height="9.2" fill="#f4642c"/><rect x="473.8" y="748.9" width="9.2" height="9.2" fill="#f66b2e"/><rect x="482.8" y="748.9" width="18.2" height="9.2" fill="#f4642c"/><rect x="500.7" y="748.9" width="9.2" height="9.2" fill="#f66b2e"/><rect x="509.6" y="748.9" width="9.2" height="9.2" fill="#f77330"/><rect x="518.6" y="748.9" width="27.1" height="9.2" fill="#f97a32"/><rect x="545.4" y="748.9" width="9.2" height="9.2" fill="#fa893a"/><rect x="554.4" y="748.9" width="9.2" height="9.2" fill="#fc9c44"/><rect x="563.3" y="748.9" width="9.2" height="9.2" fill="#fdab4b"/><rect x="572.3" y="748.9" width="9.2" height="9.2" fill="#fec765"/><rect x="581.2" y="748.9" width="9.2" height="9.2" fill="#fdb04f"/><rect x="590.2" y="748.9" width="9.2" height="9.2" fill="#fa8437"/><rect x="599.1" y="748.9" width="9.2" height="9.2" fill="#f25c2a"/><rect x="608.1" y="748.9" width="9.2" height="9.2" fill="#ed4625"/><rect x="617.0" y="748.9" width="18.2" height="9.2" fill="#e22b20"/><rect x="223.2" y="757.9" width="9.2" height="9.2" fill="#eb3f23"/><rect x="232.2" y="757.9" width="9.2" height="9.2" fill="#f4642c"/><rect x="241.1" y="757.9" width="9.2" height="9.2" fill="#fa8437"/><rect x="250.1" y="757.9" width="9.2" height="9.2" fill="#fb923e"/><rect x="259.0" y="757.9" width="9.2" height="9.2" fill="#fdab4b"/><rect x="268.0" y="757.9" width="9.2" height="9.2" fill="#fdb454"/><rect x="276.9" y="757.9" width="36.1" height="9.2" fill="#fdbd5c"/><rect x="312.8" y="757.9" width="9.2" height="9.2" fill="#fec765"/><rect x="321.7" y="757.9" width="9.2" height="9.2" fill="#fdbd5c"/><rect x="330.6" y="757.9" width="18.2" height="9.2" fill="#fec260"/><rect x="348.5" y="757.9" width="18.2" height="9.2" fill="#fdb958"/><rect x="366.4" y="757.9" width="9.2" height="9.2" fill="#fdb454"/><rect x="375.4" y="757.9" width="18.2" height="9.2" fill="#fdb04f"/><rect x="393.3" y="757.9" width="9.2" height="9.2" fill="#fda648"/><rect x="402.2" y="757.9" width="9.2" height="9.2" fill="#fdab4b"/><rect x="411.2" y="757.9" width="9.2" height="9.2" fill="#fc9c44"/><rect x="420.1" y="757.9" width="9.2" height="9.2" fill="#fb923e"/><rect x="429.1" y="757.9" width="9.2" height="9.2" fill="#fb8e3c"/><rect x="438.0" y="757.9" width="9.2" height="9.2" fill="#fa893a"/><rect x="447.0" y="757.9" width="18.2" height="9.2" fill="#f77330"/><rect x="464.9" y="757.9" width="9.2" height="9.2" fill="#f66b2e"/><rect x="473.8" y="757.9" width="9.2" height="9.2" fill="#f4642c"/><rect x="482.8" y="757.9" width="9.2" height="9.2" fill="#f66b2e"/><rect x="491.7" y="757.9" width="18.2" height="9.2" fill="#f4642c"/><rect x="509.6" y="757.9" width="9.2" height="9.2" fill="#f66b2e"/><rect x="518.6" y="757.9" width="27.1" height="9.2" fill="#f77330"/><rect x="545.4" y="757.9" width="9.2" height="9.2" fill="#f97f34"/><rect x="554.4" y="757.9" width="9.2" height="9.2" fill="#fa8437"/><rect x="563.3" y="757.9" width="9.2" height="9.2" fill="#fb9741"/><rect x="572.3" y="757.9" width="9.2" height="9.2" fill="#fec765"/><rect x="581.2" y="757.9" width="9.2" height="9.2" fill="#fec260"/><rect x="590.2" y="757.9" width="9.2" height="9.2" fill="#fb8e3c"/><rect x="599.1" y="757.9" width="9.2" height="9.2" fill="#f4642c"/><rect x="608.1" y="757.9" width="9.2" height="9.2" fill="#ef4e27"/><rect x="617.0" y="757.9" width="9.2" height="9.2" fill="#ea3721"/><rect x="223.2" y="766.8" width="9.2" height="9.2" fill="#f05528"/><rect x="232.2" y="766.8" width="9.2" height="9.2" fill="#f4642c"/><rect x="241.1" y="766.8" width="9.2" height="9.2" fill="#f97a32"/><rect x="250.1" y="766.8" width="9.2" height="9.2" fill="#fb923e"/><rect x="259.0" y="766.8" width="9.2" height="9.2" fill="#fda648"/><rect x="268.0" y="766.8" width="9.2" height="9.2" fill="#fdb454"/><rect x="276.9" y="766.8" width="27.1" height="9.2" fill="#fdbd5c"/><rect x="303.8" y="766.8" width="9.2" height="9.2" fill="#fec260"/><rect x="312.8" y="766.8" width="36.1" height="9.2" fill="#fdbd5c"/><rect x="348.5" y="766.8" width="18.2" height="9.2" fill="#fdb454"/><rect x="366.4" y="766.8" width="18.2" height="9.2" fill="#fdb04f"/><rect x="384.3" y="766.8" width="9.2" height="9.2" fill="#fdab4b"/><rect x="393.3" y="766.8" width="9.2" height="9.2" fill="#fda648"/><rect x="402.2" y="766.8" width="9.2" height="9.2" fill="#fca146"/><rect x="411.2" y="766.8" width="9.2" height="9.2" fill="#fc9c44"/><rect x="420.1" y="766.8" width="9.2" height="9.2" fill="#fb923e"/><rect x="429.1" y="766.8" width="9.2" height="9.2" fill="#fa893a"/><rect x="438.0" y="766.8" width="9.2" height="9.2" fill="#f97f34"/><rect x="447.0" y="766.8" width="9.2" height="9.2" fill="#f97a32"/><rect x="455.9" y="766.8" width="9.2" height="9.2" fill="#f77330"/><rect x="464.9" y="766.8" width="9.2" height="9.2" fill="#f66b2e"/><rect x="473.8" y="766.8" width="27.1" height="9.2" fill="#f25c2a"/><rect x="500.7" y="766.8" width="18.2" height="9.2" fill="#f4642c"/><rect x="518.6" y="766.8" width="9.2" height="9.2" fill="#f66b2e"/><rect x="527.5" y="766.8" width="18.2" height="9.2" fill="#f4642c"/><rect x="545.4" y="766.8" width="9.2" height="9.2" fill="#f66b2e"/><rect x="554.4" y="766.8" width="9.2" height="9.2" fill="#f97f34"/><rect x="563.3" y="766.8" width="9.2" height="9.2" fill="#fb8e3c"/><rect x="572.3" y="766.8" width="9.2" height="9.2" fill="#fec765"/><rect x="581.2" y="766.8" width="9.2" height="9.2" fill="#fdab4b"/><rect x="590.2" y="766.8" width="9.2" height="9.2" fill="#fb8e3c"/><rect x="599.1" y="766.8" width="9.2" height="9.2" fill="#f97a32"/><rect x="608.1" y="766.8" width="9.2" height="9.2" fill="#f25c2a"/><rect x="232.2" y="775.8" width="9.2" height="9.2" fill="#f66b2e"/><rect x="241.1" y="775.8" width="9.2" height="9.2" fill="#f97f34"/><rect x="250.1" y="775.8" width="9.2" height="9.2" fill="#fb8e3c"/><rect x="259.0" y="775.8" width="9.2" height="9.2" fill="#fda648"/><rect x="268.0" y="775.8" width="9.2" height="9.2" fill="#fdb04f"/><rect x="276.9" y="775.8" width="27.1" height="9.2" fill="#fdb958"/><rect x="303.8" y="775.8" width="9.2" height="9.2" fill="#fdb454"/><rect x="312.8" y="775.8" width="18.2" height="9.2" fill="#fdb958"/><rect x="330.6" y="775.8" width="9.2" height="9.2" fill="#fdb454"/><rect x="339.6" y="775.8" width="36.1" height="9.2" fill="#fdb04f"/><rect x="375.4" y="775.8" width="18.2" height="9.2" fill="#fdab4b"/><rect x="393.3" y="775.8" width="9.2" height="9.2" fill="#fda648"/><rect x="402.2" y="775.8" width="18.2" height="9.2" fill="#fca146"/><rect x="420.1" y="775.8" width="9.2" height="9.2" fill="#fb923e"/><rect x="429.1" y="775.8" width="9.2" height="9.2" fill="#fa893a"/><rect x="438.0" y="775.8" width="9.2" height="9.2" fill="#f97a32"/><rect x="447.0" y="775.8" width="9.2" height="9.2" fill="#f66b2e"/><rect x="455.9" y="775.8" width="9.2" height="9.2" fill="#f77330"/><rect x="464.9" y="775.8" width="9.2" height="9.2" fill="#f66b2e"/><rect x="473.8" y="775.8" width="9.2" height="9.2" fill="#f4642c"/><rect x="482.8" y="775.8" width="18.2" height="9.2" fill="#f05528"/><rect x="500.7" y="775.8" width="9.2" height="9.2" fill="#f25c2a"/><rect x="509.6" y="775.8" width="18.2" height="9.2" fill="#ef4e27"/><rect x="527.5" y="775.8" width="9.2" height="9.2" fill="#f05528"/><rect x="536.5" y="775.8" width="9.2" height="9.2" fill="#f25c2a"/><rect x="545.4" y="775.8" width="9.2" height="9.2" fill="#f05528"/><rect x="554.4" y="775.8" width="9.2" height="9.2" fill="#f4642c"/><rect x="563.3" y="775.8" width="9.2" height="9.2" fill="#f97f34"/><rect x="572.3" y="775.8" width="9.2" height="9.2" fill="#fb8e3c"/><rect x="581.2" y="775.8" width="9.2" height="9.2" fill="#fb9741"/><rect x="590.2" y="775.8" width="9.2" height="9.2" fill="#fb923e"/><rect x="232.2" y="784.7" width="9.2" height="9.2" fill="#f25c2a"/><rect x="241.1" y="784.7" width="9.2" height="9.2" fill="#f77330"/><rect x="250.1" y="784.7" width="9.2" height="9.2" fill="#fb923e"/><rect x="259.0" y="784.7" width="9.2" height="9.2" fill="#fda648"/><rect x="268.0" y="784.7" width="9.2" height="9.2" fill="#fdb04f"/><rect x="276.9" y="784.7" width="18.2" height="9.2" fill="#fdbd5c"/><rect x="294.8" y="784.7" width="18.2" height="9.2" fill="#fdb454"/><rect x="312.8" y="784.7" width="9.2" height="9.2" fill="#fdb04f"/><rect x="321.7" y="784.7" width="45.0" height="9.2" fill="#fdab4b"/><rect x="366.4" y="784.7" width="9.2" height="9.2" fill="#fdb04f"/><rect x="375.4" y="784.7" width="9.2" height="9.2" fill="#fdab4b"/><rect x="384.3" y="784.7" width="9.2" height="9.2" fill="#fdb04f"/><rect x="393.3" y="784.7" width="18.2" height="9.2" fill="#fda648"/><rect x="411.2" y="784.7" width="9.2" height="9.2" fill="#fc9c44"/><rect x="420.1" y="784.7" width="9.2" height="9.2" fill="#fb8e3c"/><rect x="429.1" y="784.7" width="9.2" height="9.2" fill="#fa893a"/><rect x="438.0" y="784.7" width="9.2" height="9.2" fill="#f97a32"/><rect x="447.0" y="784.7" width="9.2" height="9.2" fill="#f77330"/><rect x="455.9" y="784.7" width="9.2" height="9.2" fill="#f66b2e"/><rect x="464.9" y="784.7" width="9.2" height="9.2" fill="#f4642c"/><rect x="473.8" y="784.7" width="27.1" height="9.2" fill="#f05528"/><rect x="500.7" y="784.7" width="9.2" height="9.2" fill="#ef4e27"/><rect x="509.6" y="784.7" width="9.2" height="9.2" fill="#ea3721"/><rect x="518.6" y="784.7" width="18.2" height="9.2" fill="#eb3f23"/><rect x="536.5" y="784.7" width="9.2" height="9.2" fill="#ea3721"/><rect x="545.4" y="784.7" width="9.2" height="9.2" fill="#eb3f23"/><rect x="554.4" y="784.7" width="9.2" height="9.2" fill="#f05528"/><rect x="563.3" y="784.7" width="9.2" height="9.2" fill="#f4642c"/><rect x="572.3" y="784.7" width="9.2" height="9.2" fill="#fa8437"/><rect x="581.2" y="784.7" width="9.2" height="9.2" fill="#fb923e"/><rect x="232.2" y="793.7" width="9.2" height="9.2" fill="#ed4625"/><rect x="241.1" y="793.7" width="9.2" height="9.2" fill="#f66b2e"/><rect x="250.1" y="793.7" width="9.2" height="9.2" fill="#fb8e3c"/><rect x="259.0" y="793.7" width="9.2" height="9.2" fill="#fda648"/><rect x="268.0" y="793.7" width="18.2" height="9.2" fill="#fdb454"/><rect x="285.9" y="793.7" width="9.2" height="9.2" fill="#fdb958"/><rect x="294.8" y="793.7" width="9.2" height="9.2" fill="#fdab4b"/><rect x="303.8" y="793.7" width="27.1" height="9.2" fill="#fca146"/><rect x="330.6" y="793.7" width="18.2" height="9.2" fill="#fdab4b"/><rect x="348.5" y="793.7" width="9.2" height="9.2" fill="#fdb04f"/><rect x="357.5" y="793.7" width="9.2" height="9.2" fill="#fda648"/><rect x="366.4" y="793.7" width="9.2" height="9.2" fill="#fdb04f"/><rect x="375.4" y="793.7" width="18.2" height="9.2" fill="#fda648"/><rect x="393.3" y="793.7" width="9.2" height="9.2" fill="#fdab4b"/><rect x="402.2" y="793.7" width="18.2" height="9.2" fill="#fc9c44"/><rect x="420.1" y="793.7" width="9.2" height="9.2" fill="#fb8e3c"/><rect x="429.1" y="793.7" width="9.2" height="9.2" fill="#fa893a"/><rect x="438.0" y="793.7" width="9.2" height="9.2" fill="#f97a32"/><rect x="447.0" y="793.7" width="9.2" height="9.2" fill="#f66b2e"/><rect x="455.9" y="793.7" width="18.2" height="9.2" fill="#f4642c"/><rect x="473.8" y="793.7" width="18.2" height="9.2" fill="#f05528"/><rect x="491.7" y="793.7" width="9.2" height="9.2" fill="#ed4625"/><rect x="500.7" y="793.7" width="9.2" height="9.2" fill="#eb3f23"/><rect x="509.6" y="793.7" width="9.2" height="9.2" fill="#ea3721"/><rect x="518.6" y="793.7" width="9.2" height="9.2" fill="#e8301f"/><rect x="527.5" y="793.7" width="9.2" height="9.2" fill="#e22b20"/><rect x="536.5" y="793.7" width="9.2" height="9.2" fill="#e8301f"/><rect x="545.4" y="793.7" width="18.2" height="9.2" fill="#eb3f23"/><rect x="563.3" y="793.7" width="9.2" height="9.2" fill="#f25c2a"/><rect x="572.3" y="793.7" width="9.2" height="9.2" fill="#f77330"/><rect x="232.2" y="802.6" width="9.2" height="9.2" fill="#ef4e27"/><rect x="241.1" y="802.6" width="9.2" height="9.2" fill="#f4642c"/><rect x="250.1" y="802.6" width="9.2" height="9.2" fill="#fa893a"/><rect x="259.0" y="802.6" width="9.2" height="9.2" fill="#fb9741"/><rect x="268.0" y="802.6" width="9.2" height="9.2" fill="#fda648"/><rect x="276.9" y="802.6" width="9.2" height="9.2" fill="#fdb04f"/><rect x="285.9" y="802.6" width="9.2" height="9.2" fill="#fdab4b"/><rect x="294.8" y="802.6" width="27.1" height="9.2" fill="#fc9c44"/><rect x="321.7" y="802.6" width="9.2" height="9.2" fill="#fca146"/><rect x="330.6" y="802.6" width="9.2" height="9.2" fill="#fc9c44"/><rect x="339.6" y="802.6" width="9.2" height="9.2" fill="#fda648"/><rect x="348.5" y="802.6" width="18.2" height="9.2" fill="#fdab4b"/><rect x="366.4" y="802.6" width="9.2" height="9.2" fill="#fda648"/><rect x="375.4" y="802.6" width="18.2" height="9.2" fill="#fca146"/><rect x="393.3" y="802.6" width="9.2" height="9.2" fill="#fda648"/><rect x="402.2" y="802.6" width="9.2" height="9.2" fill="#fca146"/><rect x="411.2" y="802.6" width="9.2" height="9.2" fill="#fb9741"/><rect x="420.1" y="802.6" width="9.2" height="9.2" fill="#fa893a"/><rect x="429.1" y="802.6" width="9.2" height="9.2" fill="#fa8437"/><rect x="438.0" y="802.6" width="9.2" height="9.2" fill="#f77330"/><rect x="447.0" y="802.6" width="27.1" height="9.2" fill="#f4642c"/><rect x="473.8" y="802.6" width="9.2" height="9.2" fill="#f25c2a"/><rect x="482.8" y="802.6" width="9.2" height="9.2" fill="#f05528"/><rect x="491.7" y="802.6" width="9.2" height="9.2" fill="#eb3f23"/><rect x="500.7" y="802.6" width="9.2" height="9.2" fill="#ea3721"/><rect x="509.6" y="802.6" width="27.1" height="9.2" fill="#e22b20"/><rect x="536.5" y="802.6" width="9.2" height="9.2" fill="#dd2620"/><rect x="545.4" y="802.6" width="9.2" height="9.2" fill="#e22b20"/><rect x="554.4" y="802.6" width="9.2" height="9.2" fill="#e8301f"/><rect x="563.3" y="802.6" width="9.2" height="9.2" fill="#ed4625"/><rect x="232.2" y="811.6" width="9.2" height="9.2" fill="#ea3721"/><rect x="241.1" y="811.6" width="9.2" height="9.2" fill="#ef4e27"/><rect x="250.1" y="811.6" width="9.2" height="9.2" fill="#f66b2e"/><rect x="259.0" y="811.6" width="9.2" height="9.2" fill="#fa8437"/><rect x="268.0" y="811.6" width="18.2" height="9.2" fill="#fb9741"/><rect x="285.9" y="811.6" width="18.2" height="9.2" fill="#fb8e3c"/><rect x="303.8" y="811.6" width="9.2" height="9.2" fill="#fa893a"/><rect x="312.8" y="811.6" width="9.2" height="9.2" fill="#fb923e"/><rect x="321.7" y="811.6" width="9.2" height="9.2" fill="#fb8e3c"/><rect x="330.6" y="811.6" width="18.2" height="9.2" fill="#fc9c44"/><rect x="348.5" y="811.6" width="45.0" height="9.2" fill="#fda648"/><rect x="393.3" y="811.6" width="9.2" height="9.2" fill="#fca146"/><rect x="402.2" y="811.6" width="9.2" height="9.2" fill="#fb9741"/><rect x="411.2" y="811.6" width="9.2" height="9.2" fill="#fb923e"/><rect x="420.1" y="811.6" width="9.2" height="9.2" fill="#fa8437"/><rect x="429.1" y="811.6" width="9.2" height="9.2" fill="#f97a32"/><rect x="438.0" y="811.6" width="9.2" height="9.2" fill="#f66b2e"/><rect x="447.0" y="811.6" width="18.2" height="9.2" fill="#f25c2a"/><rect x="464.9" y="811.6" width="9.2" height="9.2" fill="#f4642c"/><rect x="473.8" y="811.6" width="9.2" height="9.2" fill="#f05528"/><rect x="482.8" y="811.6" width="9.2" height="9.2" fill="#eb3f23"/><rect x="491.7" y="811.6" width="9.2" height="9.2" fill="#e8301f"/><rect x="500.7" y="811.6" width="9.2" height="9.2" fill="#e22b20"/><rect x="509.6" y="811.6" width="18.2" height="9.2" fill="#d72221"/><rect x="527.5" y="811.6" width="9.2" height="9.2" fill="#dd2620"/><rect x="536.5" y="811.6" width="18.2" height="9.2" fill="#d72221"/><rect x="554.4" y="811.6" width="9.2" height="9.2" fill="#dd2620"/><rect x="241.1" y="820.5" width="9.2" height="9.2" fill="#eb3f23"/><rect x="250.1" y="820.5" width="9.2" height="9.2" fill="#f05528"/><rect x="259.0" y="820.5" width="18.2" height="9.2" fill="#f77330"/><rect x="276.9" y="820.5" width="9.2" height="9.2" fill="#f97f34"/><rect x="285.9" y="820.5" width="9.2" height="9.2" fill="#f97a32"/><rect x="294.8" y="820.5" width="27.1" height="9.2" fill="#f97f34"/><rect x="321.7" y="820.5" width="9.2" height="9.2" fill="#fa893a"/><rect x="330.6" y="820.5" width="9.2" height="9.2" fill="#fb8e3c"/><rect x="339.6" y="820.5" width="9.2" height="9.2" fill="#fb923e"/><rect x="348.5" y="820.5" width="9.2" height="9.2" fill="#fb9741"/><rect x="357.5" y="820.5" width="9.2" height="9.2" fill="#fb923e"/><rect x="366.4" y="820.5" width="9.2" height="9.2" fill="#fc9c44"/><rect x="375.4" y="820.5" width="18.2" height="9.2" fill="#fb9741"/><rect x="393.3" y="820.5" width="9.2" height="9.2" fill="#fb923e"/><rect x="402.2" y="820.5" width="9.2" height="9.2" fill="#fb9741"/><rect x="411.2" y="820.5" width="9.2" height="9.2" fill="#fb8e3c"/><rect x="420.1" y="820.5" width="9.2" height="9.2" fill="#fa8437"/><rect x="429.1" y="820.5" width="18.2" height="9.2" fill="#f66b2e"/><rect x="447.0" y="820.5" width="9.2" height="9.2" fill="#f4642c"/><rect x="455.9" y="820.5" width="9.2" height="9.2" fill="#f25c2a"/><rect x="464.9" y="820.5" width="9.2" height="9.2" fill="#ef4e27"/><rect x="473.8" y="820.5" width="9.2" height="9.2" fill="#ea3721"/><rect x="482.8" y="820.5" width="9.2" height="9.2" fill="#dd2620"/><rect x="491.7" y="820.5" width="9.2" height="9.2" fill="#d72221"/><rect x="500.7" y="820.5" width="27.1" height="9.2" fill="#d21d22"/><rect x="527.5" y="820.5" width="18.2" height="9.2" fill="#dd2620"/><rect x="545.4" y="820.5" width="9.2" height="9.2" fill="#e22b20"/><rect x="241.1" y="829.5" width="9.2" height="9.2" fill="#e8301f"/><rect x="250.1" y="829.5" width="9.2" height="9.2" fill="#ef4e27"/><rect x="259.0" y="829.5" width="9.2" height="9.2" fill="#f25c2a"/><rect x="268.0" y="829.5" width="9.2" height="9.2" fill="#f05528"/><rect x="276.9" y="829.5" width="9.2" height="9.2" fill="#f25c2a"/><rect x="285.9" y="829.5" width="9.2" height="9.2" fill="#f4642c"/><rect x="294.8" y="829.5" width="9.2" height="9.2" fill="#f66b2e"/><rect x="303.8" y="829.5" width="18.2" height="9.2" fill="#f77330"/><rect x="321.7" y="829.5" width="9.2" height="9.2" fill="#f97a32"/><rect x="330.6" y="829.5" width="9.2" height="9.2" fill="#fa8437"/><rect x="339.6" y="829.5" width="9.2" height="9.2" fill="#fa893a"/><rect x="348.5" y="829.5" width="27.1" height="9.2" fill="#fb8e3c"/><rect x="375.4" y="829.5" width="9.2" height="9.2" fill="#fb923e"/><rect x="384.3" y="829.5" width="9.2" height="9.2" fill="#fb8e3c"/><rect x="393.3" y="829.5" width="9.2" height="9.2" fill="#fa893a"/><rect x="402.2" y="829.5" width="18.2" height="9.2" fill="#fa8437"/><rect x="420.1" y="829.5" width="18.2" height="9.2" fill="#f77330"/><rect x="438.0" y="829.5" width="9.2" height="9.2" fill="#f4642c"/><rect x="447.0" y="829.5" width="9.2" height="9.2" fill="#f25c2a"/><rect x="455.9" y="829.5" width="9.2" height="9.2" fill="#f05528"/><rect x="464.9" y="829.5" width="9.2" height="9.2" fill="#eb3f23"/><rect x="473.8" y="829.5" width="9.2" height="9.2" fill="#e22b20"/><rect x="482.8" y="829.5" width="9.2" height="9.2" fill="#d21d22"/><rect x="491.7" y="829.5" width="9.2" height="9.2" fill="#d72221"/><rect x="500.7" y="829.5" width="9.2" height="9.2" fill="#cc1822"/><rect x="509.6" y="829.5" width="9.2" height="9.2" fill="#d72221"/><rect x="518.6" y="829.5" width="9.2" height="9.2" fill="#d21d22"/><rect x="527.5" y="829.5" width="9.2" height="9.2" fill="#dd2620"/><rect x="536.5" y="829.5" width="9.2" height="9.2" fill="#d21d22"/><rect x="241.1" y="838.4" width="18.2" height="9.2" fill="#ea3721"/><rect x="259.0" y="838.4" width="18.2" height="9.2" fill="#eb3f23"/><rect x="276.9" y="838.4" width="9.2" height="9.2" fill="#ef4e27"/><rect x="285.9" y="838.4" width="9.2" height="9.2" fill="#f4642c"/><rect x="294.8" y="838.4" width="9.2" height="9.2" fill="#f66b2e"/><rect x="303.8" y="838.4" width="9.2" height="9.2" fill="#f4642c"/><rect x="312.8" y="838.4" width="9.2" height="9.2" fill="#f77330"/><rect x="321.7" y="838.4" width="18.2" height="9.2" fill="#f66b2e"/><rect x="339.6" y="838.4" width="9.2" height="9.2" fill="#f77330"/><rect x="348.5" y="838.4" width="9.2" height="9.2" fill="#f97a32"/><rect x="357.5" y="838.4" width="9.2" height="9.2" fill="#f97f34"/><rect x="366.4" y="838.4" width="9.2" height="9.2" fill="#fa8437"/><rect x="375.4" y="838.4" width="9.2" height="9.2" fill="#f97a32"/><rect x="384.3" y="838.4" width="18.2" height="9.2" fill="#f97f34"/><rect x="402.2" y="838.4" width="18.2" height="9.2" fill="#f97a32"/><rect x="420.1" y="838.4" width="9.2" height="9.2" fill="#f77330"/><rect x="429.1" y="838.4" width="9.2" height="9.2" fill="#f66b2e"/><rect x="438.0" y="838.4" width="18.2" height="9.2" fill="#ef4e27"/><rect x="455.9" y="838.4" width="9.2" height="9.2" fill="#ea3721"/><rect x="464.9" y="838.4" width="9.2" height="9.2" fill="#e8301f"/><rect x="473.8" y="838.4" width="18.2" height="9.2" fill="#dd2620"/><rect x="491.7" y="838.4" width="9.2" height="9.2" fill="#d21d22"/><rect x="500.7" y="838.4" width="9.2" height="9.2" fill="#d72221"/><rect x="509.6" y="838.4" width="9.2" height="9.2" fill="#d21d22"/><rect x="250.1" y="847.4" width="9.2" height="9.2" fill="#e8301f"/><rect x="259.0" y="847.4" width="27.1" height="9.2" fill="#ea3721"/><rect x="285.9" y="847.4" width="9.2" height="9.2" fill="#ef4e27"/><rect x="294.8" y="847.4" width="18.2" height="9.2" fill="#f25c2a"/><rect x="312.8" y="847.4" width="54.0" height="9.2" fill="#f66b2e"/><rect x="366.4" y="847.4" width="9.2" height="9.2" fill="#f77330"/><rect x="375.4" y="847.4" width="9.2" height="9.2" fill="#f66b2e"/><rect x="384.3" y="847.4" width="9.2" height="9.2" fill="#f97a32"/><rect x="393.3" y="847.4" width="36.1" height="9.2" fill="#f66b2e"/><rect x="429.1" y="847.4" width="9.2" height="9.2" fill="#f25c2a"/><rect x="438.0" y="847.4" width="9.2" height="9.2" fill="#ef4e27"/><rect x="447.0" y="847.4" width="9.2" height="9.2" fill="#eb3f23"/><rect x="455.9" y="847.4" width="18.2" height="9.2" fill="#e8301f"/><rect x="473.8" y="847.4" width="9.2" height="9.2" fill="#e22b20"/><rect x="482.8" y="847.4" width="27.1" height="9.2" fill="#d72221"/><rect x="509.6" y="847.4" width="9.2" height="9.2" fill="#d21d22"/><rect x="250.1" y="856.3" width="27.1" height="9.2" fill="#e22b20"/><rect x="276.9" y="856.3" width="9.2" height="9.2" fill="#e8301f"/><rect x="285.9" y="856.3" width="9.2" height="9.2" fill="#ea3721"/><rect x="294.8" y="856.3" width="9.2" height="9.2" fill="#ef4e27"/><rect x="303.8" y="856.3" width="18.2" height="9.2" fill="#f4642c"/><rect x="321.7" y="856.3" width="45.0" height="9.2" fill="#f25c2a"/><rect x="366.4" y="856.3" width="9.2" height="9.2" fill="#f66b2e"/><rect x="375.4" y="856.3" width="9.2" height="9.2" fill="#f25c2a"/><rect x="384.3" y="856.3" width="27.1" height="9.2" fill="#f4642c"/><rect x="411.2" y="856.3" width="9.2" height="9.2" fill="#f25c2a"/><rect x="420.1" y="856.3" width="9.2" height="9.2" fill="#f4642c"/><rect x="429.1" y="856.3" width="9.2" height="9.2" fill="#f05528"/><rect x="438.0" y="856.3" width="9.2" height="9.2" fill="#ed4625"/><rect x="447.0" y="856.3" width="9.2" height="9.2" fill="#ea3721"/><rect x="455.9" y="856.3" width="9.2" height="9.2" fill="#e8301f"/><rect x="464.9" y="856.3" width="18.2" height="9.2" fill="#e22b20"/><rect x="482.8" y="856.3" width="9.2" height="9.2" fill="#dd2620"/><rect x="259.0" y="865.3" width="27.1" height="9.2" fill="#dd2620"/><rect x="285.9" y="865.3" width="9.2" height="9.2" fill="#e8301f"/><rect x="294.8" y="865.3" width="18.2" height="9.2" fill="#ed4625"/><rect x="312.8" y="865.3" width="9.2" height="9.2" fill="#f25c2a"/><rect x="321.7" y="865.3" width="18.2" height="9.2" fill="#f4642c"/><rect x="339.6" y="865.3" width="18.2" height="9.2" fill="#f25c2a"/><rect x="357.5" y="865.3" width="9.2" height="9.2" fill="#f4642c"/><rect x="366.4" y="865.3" width="27.1" height="9.2" fill="#f25c2a"/><rect x="393.3" y="865.3" width="9.2" height="9.2" fill="#f4642c"/><rect x="402.2" y="865.3" width="18.2" height="9.2" fill="#f25c2a"/><rect x="420.1" y="865.3" width="18.2" height="9.2" fill="#f05528"/><rect x="438.0" y="865.3" width="9.2" height="9.2" fill="#eb3f23"/><rect x="447.0" y="865.3" width="9.2" height="9.2" fill="#e8301f"/><rect x="455.9" y="865.3" width="9.2" height="9.2" fill="#e22b20"/><rect x="464.9" y="865.3" width="9.2" height="9.2" fill="#dd2620"/><rect x="473.8" y="865.3" width="9.2" height="9.2" fill="#e22b20"/><rect x="259.0" y="874.2" width="9.2" height="9.2" fill="#d21d22"/><rect x="268.0" y="874.2" width="9.2" height="9.2" fill="#dd2620"/><rect x="276.9" y="874.2" width="18.2" height="9.2" fill="#e22b20"/><rect x="294.8" y="874.2" width="9.2" height="9.2" fill="#ea3721"/><rect x="303.8" y="874.2" width="9.2" height="9.2" fill="#ef4e27"/><rect x="312.8" y="874.2" width="9.2" height="9.2" fill="#f25c2a"/><rect x="321.7" y="874.2" width="9.2" height="9.2" fill="#f4642c"/><rect x="330.6" y="874.2" width="9.2" height="9.2" fill="#f25c2a"/><rect x="339.6" y="874.2" width="18.2" height="9.2" fill="#f4642c"/><rect x="357.5" y="874.2" width="18.2" height="9.2" fill="#f25c2a"/><rect x="375.4" y="874.2" width="9.2" height="9.2" fill="#f05528"/><rect x="384.3" y="874.2" width="18.2" height="9.2" fill="#f25c2a"/><rect x="402.2" y="874.2" width="9.2" height="9.2" fill="#f4642c"/><rect x="411.2" y="874.2" width="9.2" height="9.2" fill="#f05528"/><rect x="420.1" y="874.2" width="9.2" height="9.2" fill="#f25c2a"/><rect x="429.1" y="874.2" width="9.2" height="9.2" fill="#ef4e27"/><rect x="438.0" y="874.2" width="9.2" height="9.2" fill="#eb3f23"/><rect x="447.0" y="874.2" width="9.2" height="9.2" fill="#e8301f"/><rect x="455.9" y="874.2" width="9.2" height="9.2" fill="#e22b20"/><rect x="464.9" y="874.2" width="18.2" height="9.2" fill="#dd2620"/><rect x="268.0" y="883.2" width="18.2" height="9.2" fill="#dd2620"/><rect x="285.9" y="883.2" width="18.2" height="9.2" fill="#ea3721"/><rect x="303.8" y="883.2" width="9.2" height="9.2" fill="#ef4e27"/><rect x="312.8" y="883.2" width="9.2" height="9.2" fill="#f25c2a"/><rect x="321.7" y="883.2" width="9.2" height="9.2" fill="#f05528"/><rect x="330.6" y="883.2" width="36.1" height="9.2" fill="#f25c2a"/><rect x="366.4" y="883.2" width="9.2" height="9.2" fill="#f4642c"/><rect x="375.4" y="883.2" width="9.2" height="9.2" fill="#f25c2a"/><rect x="384.3" y="883.2" width="9.2" height="9.2" fill="#f4642c"/><rect x="393.3" y="883.2" width="9.2" height="9.2" fill="#f05528"/><rect x="402.2" y="883.2" width="9.2" height="9.2" fill="#f4642c"/><rect x="411.2" y="883.2" width="18.2" height="9.2" fill="#f25c2a"/><rect x="429.1" y="883.2" width="9.2" height="9.2" fill="#ef4e27"/><rect x="438.0" y="883.2" width="9.2" height="9.2" fill="#ed4625"/><rect x="447.0" y="883.2" width="9.2" height="9.2" fill="#ea3721"/><rect x="455.9" y="883.2" width="27.1" height="9.2" fill="#e8301f"/><rect x="268.0" y="892.1" width="9.2" height="9.2" fill="#dd2620"/><rect x="276.9" y="892.1" width="9.2" height="9.2" fill="#ea3721"/><rect x="285.9" y="892.1" width="9.2" height="9.2" fill="#eb3f23"/><rect x="294.8" y="892.1" width="9.2" height="9.2" fill="#ed4625"/><rect x="303.8" y="892.1" width="18.2" height="9.2" fill="#ef4e27"/><rect x="321.7" y="892.1" width="27.1" height="9.2" fill="#f4642c"/><rect x="348.5" y="892.1" width="9.2" height="9.2" fill="#f25c2a"/><rect x="357.5" y="892.1" width="9.2" height="9.2" fill="#f4642c"/><rect x="366.4" y="892.1" width="9.2" height="9.2" fill="#f25c2a"/><rect x="375.4" y="892.1" width="9.2" height="9.2" fill="#f05528"/><rect x="384.3" y="892.1" width="9.2" height="9.2" fill="#f25c2a"/><rect x="393.3" y="892.1" width="18.2" height="9.2" fill="#f05528"/><rect x="411.2" y="892.1" width="9.2" height="9.2" fill="#f25c2a"/><rect x="420.1" y="892.1" width="27.1" height="9.2" fill="#ef4e27"/><rect x="447.0" y="892.1" width="27.1" height="9.2" fill="#ea3721"/><rect x="473.8" y="892.1" width="9.2" height="9.2" fill="#e8301f"/><rect x="276.9" y="901.1" width="9.2" height="9.2" fill="#ea3721"/><rect x="285.9" y="901.1" width="9.2" height="9.2" fill="#e8301f"/><rect x="294.8" y="901.1" width="9.2" height="9.2" fill="#eb3f23"/><rect x="303.8" y="901.1" width="9.2" height="9.2" fill="#ef4e27"/><rect x="312.8" y="901.1" width="18.2" height="9.2" fill="#f05528"/><rect x="330.6" y="901.1" width="9.2" height="9.2" fill="#f25c2a"/><rect x="339.6" y="901.1" width="18.2" height="9.2" fill="#f4642c"/><rect x="357.5" y="901.1" width="9.2" height="9.2" fill="#f66b2e"/><rect x="366.4" y="901.1" width="9.2" height="9.2" fill="#f4642c"/><rect x="375.4" y="901.1" width="18.2" height="9.2" fill="#f25c2a"/><rect x="393.3" y="901.1" width="27.1" height="9.2" fill="#f05528"/><rect x="420.1" y="901.1" width="9.2" height="9.2" fill="#f25c2a"/><rect x="429.1" y="901.1" width="9.2" height="9.2" fill="#f05528"/><rect x="438.0" y="901.1" width="18.2" height="9.2" fill="#ed4625"/><rect x="455.9" y="901.1" width="9.2" height="9.2" fill="#eb3f23"/><rect x="464.9" y="901.1" width="9.2" height="9.2" fill="#e22b20"/><rect x="473.8" y="901.1" width="9.2" height="9.2" fill="#e8301f"/><rect x="276.9" y="910.0" width="9.2" height="9.2" fill="#e8301f"/><rect x="285.9" y="910.0" width="18.2" height="9.2" fill="#ea3721"/><rect x="303.8" y="910.0" width="9.2" height="9.2" fill="#ed4625"/><rect x="312.8" y="910.0" width="18.2" height="9.2" fill="#f25c2a"/><rect x="330.6" y="910.0" width="9.2" height="9.2" fill="#f4642c"/><rect x="339.6" y="910.0" width="9.2" height="9.2" fill="#f66b2e"/><rect x="348.5" y="910.0" width="18.2" height="9.2" fill="#f4642c"/><rect x="366.4" y="910.0" width="9.2" height="9.2" fill="#f77330"/><rect x="375.4" y="910.0" width="9.2" height="9.2" fill="#f4642c"/><rect x="384.3" y="910.0" width="36.1" height="9.2" fill="#f25c2a"/><rect x="420.1" y="910.0" width="18.2" height="9.2" fill="#ef4e27"/><rect x="438.0" y="910.0" width="9.2" height="9.2" fill="#f05528"/><rect x="447.0" y="910.0" width="9.2" height="9.2" fill="#ef4e27"/><rect x="455.9" y="910.0" width="18.2" height="9.2" fill="#ea3721"/><rect x="473.8" y="910.0" width="9.2" height="9.2" fill="#e22b20"/><rect x="285.9" y="919.0" width="9.2" height="9.2" fill="#e22b20"/><rect x="294.8" y="919.0" width="9.2" height="9.2" fill="#e8301f"/><rect x="303.8" y="919.0" width="9.2" height="9.2" fill="#ef4e27"/><rect x="312.8" y="919.0" width="9.2" height="9.2" fill="#f25c2a"/><rect x="321.7" y="919.0" width="9.2" height="9.2" fill="#f77330"/><rect x="330.6" y="919.0" width="18.2" height="9.2" fill="#f66b2e"/><rect x="348.5" y="919.0" width="27.1" height="9.2" fill="#f77330"/><rect x="375.4" y="919.0" width="9.2" height="9.2" fill="#f66b2e"/><rect x="384.3" y="919.0" width="18.2" height="9.2" fill="#f4642c"/><rect x="402.2" y="919.0" width="27.1" height="9.2" fill="#f25c2a"/><rect x="429.1" y="919.0" width="9.2" height="9.2" fill="#f05528"/><rect x="438.0" y="919.0" width="18.2" height="9.2" fill="#ef4e27"/><rect x="455.9" y="919.0" width="9.2" height="9.2" fill="#ed4625"/><rect x="464.9" y="919.0" width="9.2" height="9.2" fill="#e8301f"/><rect x="473.8" y="919.0" width="9.2" height="9.2" fill="#e22b20"/><rect x="285.9" y="927.9" width="9.2" height="9.2" fill="#e8301f"/><rect x="294.8" y="927.9" width="9.2" height="9.2" fill="#eb3f23"/><rect x="303.8" y="927.9" width="9.2" height="9.2" fill="#f25c2a"/><rect x="312.8" y="927.9" width="9.2" height="9.2" fill="#f66b2e"/><rect x="321.7" y="927.9" width="9.2" height="9.2" fill="#f97a32"/><rect x="330.6" y="927.9" width="9.2" height="9.2" fill="#f97f34"/><rect x="339.6" y="927.9" width="45.0" height="9.2" fill="#f77330"/><rect x="384.3" y="927.9" width="9.2" height="9.2" fill="#f4642c"/><rect x="393.3" y="927.9" width="9.2" height="9.2" fill="#f25c2a"/><rect x="402.2" y="927.9" width="9.2" height="9.2" fill="#f4642c"/><rect x="411.2" y="927.9" width="9.2" height="9.2" fill="#f05528"/><rect x="420.1" y="927.9" width="18.2" height="9.2" fill="#f25c2a"/><rect x="438.0" y="927.9" width="18.2" height="9.2" fill="#ef4e27"/><rect x="455.9" y="927.9" width="9.2" height="9.2" fill="#eb3f23"/><rect x="464.9" y="927.9" width="9.2" height="9.2" fill="#e8301f"/><rect x="473.8" y="927.9" width="9.2" height="9.2" fill="#e22b20"/><rect x="285.9" y="936.9" width="9.2" height="9.2" fill="#e8301f"/><rect x="294.8" y="936.9" width="9.2" height="9.2" fill="#eb3f23"/><rect x="303.8" y="936.9" width="9.2" height="9.2" fill="#ef4e27"/><rect x="312.8" y="936.9" width="9.2" height="9.2" fill="#f4642c"/><rect x="321.7" y="936.9" width="9.2" height="9.2" fill="#f97a32"/><rect x="330.6" y="936.9" width="9.2" height="9.2" fill="#fa8437"/><rect x="339.6" y="936.9" width="9.2" height="9.2" fill="#fa893a"/><rect x="348.5" y="936.9" width="9.2" height="9.2" fill="#fa8437"/><rect x="357.5" y="936.9" width="18.2" height="9.2" fill="#f97f34"/><rect x="375.4" y="936.9" width="9.2" height="9.2" fill="#f97a32"/><rect x="384.3" y="936.9" width="9.2" height="9.2" fill="#f77330"/><rect x="393.3" y="936.9" width="9.2" height="9.2" fill="#f4642c"/><rect x="402.2" y="936.9" width="9.2" height="9.2" fill="#f05528"/><rect x="411.2" y="936.9" width="18.2" height="9.2" fill="#f25c2a"/><rect x="429.1" y="936.9" width="9.2" height="9.2" fill="#ef4e27"/><rect x="438.0" y="936.9" width="9.2" height="9.2" fill="#ed4625"/><rect x="447.0" y="936.9" width="9.2" height="9.2" fill="#ef4e27"/><rect x="455.9" y="936.9" width="9.2" height="9.2" fill="#eb3f23"/><rect x="464.9" y="936.9" width="18.2" height="9.2" fill="#e8301f"/><rect x="482.8" y="936.9" width="9.2" height="9.2" fill="#e22b20"/><rect x="285.9" y="945.8" width="9.2" height="9.2" fill="#dd2620"/><rect x="294.8" y="945.8" width="9.2" height="9.2" fill="#e8301f"/><rect x="303.8" y="945.8" width="9.2" height="9.2" fill="#eb3f23"/><rect x="312.8" y="945.8" width="9.2" height="9.2" fill="#f25c2a"/><rect x="321.7" y="945.8" width="9.2" height="9.2" fill="#f97a32"/><rect x="330.6" y="945.8" width="36.1" height="9.2" fill="#fa8437"/><rect x="366.4" y="945.8" width="9.2" height="9.2" fill="#f97a32"/><rect x="375.4" y="945.8" width="27.1" height="9.2" fill="#f77330"/><rect x="402.2" y="945.8" width="9.2" height="9.2" fill="#f66b2e"/><rect x="411.2" y="945.8" width="18.2" height="9.2" fill="#ef4e27"/><rect x="429.1" y="945.8" width="9.2" height="9.2" fill="#f05528"/><rect x="438.0" y="945.8" width="9.2" height="9.2" fill="#ef4e27"/><rect x="447.0" y="945.8" width="9.2" height="9.2" fill="#eb3f23"/><rect x="455.9" y="945.8" width="9.2" height="9.2" fill="#ea3721"/><rect x="464.9" y="945.8" width="18.2" height="9.2" fill="#e22b20"/><rect x="482.8" y="945.8" width="9.2" height="9.2" fill="#dd2620"/><rect x="294.8" y="954.8" width="9.2" height="9.2" fill="#d72221"/><rect x="303.8" y="954.8" width="9.2" height="9.2" fill="#e8301f"/><rect x="312.8" y="954.8" width="9.2" height="9.2" fill="#eb3f23"/><rect x="321.7" y="954.8" width="9.2" height="9.2" fill="#f66b2e"/><rect x="330.6" y="954.8" width="9.2" height="9.2" fill="#f97f34"/><rect x="339.6" y="954.8" width="27.1" height="9.2" fill="#fa8437"/><rect x="366.4" y="954.8" width="9.2" height="9.2" fill="#f97f34"/><rect x="375.4" y="954.8" width="27.1" height="9.2" fill="#f77330"/><rect x="402.2" y="954.8" width="9.2" height="9.2" fill="#f25c2a"/><rect x="411.2" y="954.8" width="18.2" height="9.2" fill="#eb3f23"/><rect x="429.1" y="954.8" width="9.2" height="9.2" fill="#ea3721"/><rect x="438.0" y="954.8" width="9.2" height="9.2" fill="#eb3f23"/><rect x="447.0" y="954.8" width="9.2" height="9.2" fill="#ea3721"/><rect x="455.9" y="954.8" width="9.2" height="9.2" fill="#e8301f"/><rect x="464.9" y="954.8" width="9.2" height="9.2" fill="#e22b20"/><rect x="473.8" y="954.8" width="9.2" height="9.2" fill="#dd2620"/><rect x="294.8" y="963.7" width="18.2" height="9.2" fill="#d72221"/><rect x="312.8" y="963.7" width="9.2" height="9.2" fill="#ea3721"/><rect x="321.7" y="963.7" width="9.2" height="9.2" fill="#f25c2a"/><rect x="330.6" y="963.7" width="9.2" height="9.2" fill="#f97a32"/><rect x="339.6" y="963.7" width="18.2" height="9.2" fill="#fa8437"/><rect x="357.5" y="963.7" width="18.2" height="9.2" fill="#f97f34"/><rect x="375.4" y="963.7" width="9.2" height="9.2" fill="#f97a32"/><rect x="384.3" y="963.7" width="9.2" height="9.2" fill="#f66b2e"/><rect x="393.3" y="963.7" width="9.2" height="9.2" fill="#f4642c"/><rect x="402.2" y="963.7" width="9.2" height="9.2" fill="#ed4625"/><rect x="411.2" y="963.7" width="9.2" height="9.2" fill="#ea3721"/><rect x="420.1" y="963.7" width="27.1" height="9.2" fill="#e22b20"/><rect x="447.0" y="963.7" width="18.2" height="9.2" fill="#dd2620"/><rect x="464.9" y="963.7" width="18.2" height="9.2" fill="#e22b20"/><rect x="303.8" y="972.7" width="9.2" height="9.2" fill="#d72221"/><rect x="312.8" y="972.7" width="9.2" height="9.2" fill="#e8301f"/><rect x="321.7" y="972.7" width="9.2" height="9.2" fill="#ef4e27"/><rect x="330.6" y="972.7" width="9.2" height="9.2" fill="#f97a32"/><rect x="339.6" y="972.7" width="9.2" height="9.2" fill="#fa893a"/><rect x="348.5" y="972.7" width="18.2" height="9.2" fill="#fa8437"/><rect x="366.4" y="972.7" width="9.2" height="9.2" fill="#f77330"/><rect x="375.4" y="972.7" width="9.2" height="9.2" fill="#f66b2e"/><rect x="384.3" y="972.7" width="9.2" height="9.2" fill="#f25c2a"/><rect x="393.3" y="972.7" width="9.2" height="9.2" fill="#ef4e27"/><rect x="402.2" y="972.7" width="9.2" height="9.2" fill="#ea3721"/><rect x="411.2" y="972.7" width="27.1" height="9.2" fill="#e22b20"/><rect x="438.0" y="972.7" width="9.2" height="9.2" fill="#dd2620"/><rect x="447.0" y="972.7" width="9.2" height="9.2" fill="#e22b20"/><rect x="455.9" y="972.7" width="9.2" height="9.2" fill="#dd2620"/><rect x="464.9" y="972.7" width="18.2" height="9.2" fill="#e22b20"/><rect x="303.8" y="981.6" width="9.2" height="9.2" fill="#d72221"/><rect x="312.8" y="981.6" width="9.2" height="9.2" fill="#e22b20"/><rect x="321.7" y="981.6" width="9.2" height="9.2" fill="#ed4625"/><rect x="330.6" y="981.6" width="9.2" height="9.2" fill="#f4642c"/><rect x="339.6" y="981.6" width="18.2" height="9.2" fill="#f97f34"/><rect x="357.5" y="981.6" width="9.2" height="9.2" fill="#f97a32"/><rect x="366.4" y="981.6" width="9.2" height="9.2" fill="#f66b2e"/><rect x="375.4" y="981.6" width="9.2" height="9.2" fill="#f05528"/><rect x="384.3" y="981.6" width="9.2" height="9.2" fill="#ed4625"/><rect x="393.3" y="981.6" width="9.2" height="9.2" fill="#ea3721"/><rect x="402.2" y="981.6" width="9.2" height="9.2" fill="#e22b20"/><rect x="411.2" y="981.6" width="9.2" height="9.2" fill="#dd2620"/><rect x="420.1" y="981.6" width="9.2" height="9.2" fill="#e22b20"/><rect x="429.1" y="981.6" width="9.2" height="9.2" fill="#e8301f"/><rect x="438.0" y="981.6" width="9.2" height="9.2" fill="#e22b20"/><rect x="447.0" y="981.6" width="18.2" height="9.2" fill="#dd2620"/><rect x="464.9" y="981.6" width="9.2" height="9.2" fill="#e22b20"/><rect x="312.8" y="990.6" width="9.2" height="9.2" fill="#d72221"/><rect x="321.7" y="990.6" width="9.2" height="9.2" fill="#e22b20"/><rect x="330.6" y="990.6" width="9.2" height="9.2" fill="#f05528"/><rect x="339.6" y="990.6" width="9.2" height="9.2" fill="#f4642c"/><rect x="348.5" y="990.6" width="18.2" height="9.2" fill="#f66b2e"/><rect x="366.4" y="990.6" width="9.2" height="9.2" fill="#f4642c"/><rect x="375.4" y="990.6" width="9.2" height="9.2" fill="#ed4625"/><rect x="384.3" y="990.6" width="27.1" height="9.2" fill="#ea3721"/><rect x="411.2" y="990.6" width="18.2" height="9.2" fill="#e8301f"/><rect x="429.1" y="990.6" width="9.2" height="9.2" fill="#dd2620"/><rect x="438.0" y="990.6" width="9.2" height="9.2" fill="#e22b20"/><rect x="447.0" y="990.6" width="9.2" height="9.2" fill="#dd2620"/><rect x="455.9" y="990.6" width="9.2" height="9.2" fill="#d72221"/><rect x="464.9" y="990.6" width="9.2" height="9.2" fill="#dd2620"/><rect x="321.7" y="999.5" width="9.2" height="9.2" fill="#e22b20"/><rect x="330.6" y="999.5" width="9.2" height="9.2" fill="#ea3721"/><rect x="339.6" y="999.5" width="9.2" height="9.2" fill="#ef4e27"/><rect x="348.5" y="999.5" width="18.2" height="9.2" fill="#f05528"/><rect x="366.4" y="999.5" width="9.2" height="9.2" fill="#f25c2a"/><rect x="375.4" y="999.5" width="9.2" height="9.2" fill="#ef4e27"/><rect x="384.3" y="999.5" width="27.1" height="9.2" fill="#ea3721"/><rect x="411.2" y="999.5" width="18.2" height="9.2" fill="#e8301f"/><rect x="429.1" y="999.5" width="9.2" height="9.2" fill="#dd2620"/><rect x="438.0" y="999.5" width="9.2" height="9.2" fill="#e22b20"/><rect x="447.0" y="999.5" width="9.2" height="9.2" fill="#dd2620"/><rect x="455.9" y="999.5" width="9.2" height="9.2" fill="#d72221"/><rect x="464.9" y="999.5" width="9.2" height="9.2" fill="#d21d22"/><rect x="321.7" y="1008.5" width="9.2" height="9.2" fill="#d21d22"/><rect x="330.6" y="1008.5" width="9.2" height="9.2" fill="#dd2620"/><rect x="339.6" y="1008.5" width="9.2" height="9.2" fill="#e8301f"/><rect x="348.5" y="1008.5" width="9.2" height="9.2" fill="#fa893a"/><rect x="357.5" y="1008.5" width="9.2" height="9.2" fill="#fdbd5c"/><rect x="366.4" y="1008.5" width="9.2" height="9.2" fill="#f05528"/><rect x="375.4" y="1008.5" width="9.2" height="9.2" fill="#ed4625"/><rect x="384.3" y="1008.5" width="9.2" height="9.2" fill="#ea3721"/><rect x="393.3" y="1008.5" width="9.2" height="9.2" fill="#eb3f23"/><rect x="402.2" y="1008.5" width="9.2" height="9.2" fill="#ea3721"/><rect x="411.2" y="1008.5" width="9.2" height="9.2" fill="#e22b20"/><rect x="420.1" y="1008.5" width="9.2" height="9.2" fill="#e8301f"/><rect x="429.1" y="1008.5" width="9.2" height="9.2" fill="#dd2620"/><rect x="438.0" y="1008.5" width="9.2" height="9.2" fill="#e22b20"/><rect x="447.0" y="1008.5" width="18.2" height="9.2" fill="#dd2620"/><rect x="464.9" y="1008.5" width="9.2" height="9.2" fill="#d72221"/><rect x="330.6" y="1017.4" width="9.2" height="9.2" fill="#d21d22"/><rect x="339.6" y="1017.4" width="9.2" height="9.2" fill="#e8301f"/><rect x="348.5" y="1017.4" width="9.2" height="9.2" fill="#ea3721"/><rect x="357.5" y="1017.4" width="9.2" height="9.2" fill="#fca146"/><rect x="366.4" y="1017.4" width="9.2" height="9.2" fill="#f05528"/><rect x="375.4" y="1017.4" width="9.2" height="9.2" fill="#ed4625"/><rect x="384.3" y="1017.4" width="9.2" height="9.2" fill="#eb3f23"/><rect x="393.3" y="1017.4" width="9.2" height="9.2" fill="#ea3721"/><rect x="402.2" y="1017.4" width="9.2" height="9.2" fill="#e8301f"/><rect x="411.2" y="1017.4" width="9.2" height="9.2" fill="#e22b20"/><rect x="420.1" y="1017.4" width="18.2" height="9.2" fill="#dd2620"/><rect x="438.0" y="1017.4" width="9.2" height="9.2" fill="#e22b20"/><rect x="447.0" y="1017.4" width="18.2" height="9.2" fill="#d72221"/><rect x="464.9" y="1017.4" width="9.2" height="9.2" fill="#d21d22"/><rect x="330.6" y="1026.4" width="9.2" height="9.2" fill="#d21d22"/><rect x="339.6" y="1026.4" width="18.2" height="9.2" fill="#e22b20"/><rect x="357.5" y="1026.4" width="9.2" height="9.2" fill="#eb3f23"/><rect x="366.4" y="1026.4" width="9.2" height="9.2" fill="#ef4e27"/><rect x="375.4" y="1026.4" width="9.2" height="9.2" fill="#ed4625"/><rect x="384.3" y="1026.4" width="9.2" height="9.2" fill="#eb3f23"/><rect x="393.3" y="1026.4" width="9.2" height="9.2" fill="#ea3721"/><rect x="402.2" y="1026.4" width="18.2" height="9.2" fill="#e8301f"/><rect x="420.1" y="1026.4" width="9.2" height="9.2" fill="#e22b20"/><rect x="429.1" y="1026.4" width="18.2" height="9.2" fill="#dd2620"/><rect x="447.0" y="1026.4" width="9.2" height="9.2" fill="#d72221"/><rect x="455.9" y="1026.4" width="18.2" height="9.2" fill="#d21d22"/><rect x="330.6" y="1035.3" width="9.2" height="9.2" fill="#d72221"/><rect x="339.6" y="1035.3" width="9.2" height="9.2" fill="#d21d22"/><rect x="348.5" y="1035.3" width="9.2" height="9.2" fill="#dd2620"/><rect x="357.5" y="1035.3" width="9.2" height="9.2" fill="#e8301f"/><rect x="366.4" y="1035.3" width="18.2" height="9.2" fill="#ed4625"/><rect x="384.3" y="1035.3" width="18.2" height="9.2" fill="#eb3f23"/><rect x="402.2" y="1035.3" width="18.2" height="9.2" fill="#e8301f"/><rect x="420.1" y="1035.3" width="9.2" height="9.2" fill="#dd2620"/><rect x="429.1" y="1035.3" width="9.2" height="9.2" fill="#e22b20"/><rect x="438.0" y="1035.3" width="18.2" height="9.2" fill="#dd2620"/><rect x="455.9" y="1035.3" width="9.2" height="9.2" fill="#d21d22"/><rect x="464.9" y="1035.3" width="9.2" height="9.2" fill="#d72221"/><rect x="339.6" y="1044.3" width="9.2" height="9.2" fill="#d21d22"/><rect x="348.5" y="1044.3" width="9.2" height="9.2" fill="#d72221"/><rect x="357.5" y="1044.3" width="9.2" height="9.2" fill="#e8301f"/><rect x="366.4" y="1044.3" width="9.2" height="9.2" fill="#ef4e27"/><rect x="375.4" y="1044.3" width="18.2" height="9.2" fill="#f05528"/><rect x="393.3" y="1044.3" width="9.2" height="9.2" fill="#ef4e27"/><rect x="402.2" y="1044.3" width="9.2" height="9.2" fill="#eb3f23"/><rect x="411.2" y="1044.3" width="9.2" height="9.2" fill="#ea3721"/><rect x="420.1" y="1044.3" width="9.2" height="9.2" fill="#e22b20"/><rect x="429.1" y="1044.3" width="27.1" height="9.2" fill="#dd2620"/><rect x="455.9" y="1044.3" width="18.2" height="9.2" fill="#d21d22"/><rect x="339.6" y="1053.2" width="9.2" height="9.2" fill="#d21d22"/><rect x="348.5" y="1053.2" width="9.2" height="9.2" fill="#e22b20"/><rect x="357.5" y="1053.2" width="9.2" height="9.2" fill="#eb3f23"/><rect x="366.4" y="1053.2" width="9.2" height="9.2" fill="#f97f34"/><rect x="375.4" y="1053.2" width="9.2" height="9.2" fill="#fdbd5c"/><rect x="384.3" y="1053.2" width="9.2" height="9.2" fill="#fc9c44"/><rect x="393.3" y="1053.2" width="9.2" height="9.2" fill="#f4642c"/><rect x="402.2" y="1053.2" width="9.2" height="9.2" fill="#ed4625"/><rect x="411.2" y="1053.2" width="9.2" height="9.2" fill="#eb3f23"/><rect x="420.1" y="1053.2" width="9.2" height="9.2" fill="#e8301f"/><rect x="429.1" y="1053.2" width="9.2" height="9.2" fill="#e22b20"/><rect x="438.0" y="1053.2" width="9.2" height="9.2" fill="#d72221"/><rect x="339.6" y="1062.2" width="9.2" height="9.2" fill="#d72221"/><rect x="348.5" y="1062.2" width="9.2" height="9.2" fill="#e22b20"/><rect x="357.5" y="1062.2" width="9.2" height="9.2" fill="#eb3f23"/><rect x="366.4" y="1062.2" width="9.2" height="9.2" fill="#f77330"/><rect x="375.4" y="1062.2" width="9.2" height="9.2" fill="#fb8e3c"/><rect x="384.3" y="1062.2" width="9.2" height="9.2" fill="#f66b2e"/><rect x="393.3" y="1062.2" width="9.2" height="9.2" fill="#f4642c"/><rect x="402.2" y="1062.2" width="9.2" height="9.2" fill="#ed4625"/><rect x="411.2" y="1062.2" width="9.2" height="9.2" fill="#ea3721"/><rect x="420.1" y="1062.2" width="9.2" height="9.2" fill="#e22b20"/><rect x="429.1" y="1062.2" width="18.2" height="9.2" fill="#dd2620"/><rect x="348.5" y="1071.2" width="9.2" height="9.2" fill="#e22b20"/><rect x="357.5" y="1071.2" width="9.2" height="9.2" fill="#eb3f23"/><rect x="366.4" y="1071.2" width="9.2" height="9.2" fill="#f25c2a"/><rect x="375.4" y="1071.2" width="9.2" height="9.2" fill="#fa893a"/><rect x="384.3" y="1071.2" width="9.2" height="9.2" fill="#f4642c"/><rect x="393.3" y="1071.2" width="9.2" height="9.2" fill="#f25c2a"/><rect x="402.2" y="1071.2" width="9.2" height="9.2" fill="#ef4e27"/><rect x="411.2" y="1071.2" width="9.2" height="9.2" fill="#eb3f23"/><rect x="420.1" y="1071.2" width="9.2" height="9.2" fill="#e22b20"/><rect x="429.1" y="1071.2" width="9.2" height="9.2" fill="#dd2620"/><rect x="348.5" y="1080.1" width="9.2" height="9.2" fill="#e8301f"/><rect x="357.5" y="1080.1" width="9.2" height="9.2" fill="#eb3f23"/><rect x="366.4" y="1080.1" width="9.2" height="9.2" fill="#f05528"/><rect x="375.4" y="1080.1" width="9.2" height="9.2" fill="#fa8437"/><rect x="384.3" y="1080.1" width="18.2" height="9.2" fill="#f25c2a"/><rect x="402.2" y="1080.1" width="18.2" height="9.2" fill="#eb3f23"/><rect x="420.1" y="1080.1" width="18.2" height="9.2" fill="#e22b20"/><rect x="348.5" y="1089.0" width="9.2" height="9.2" fill="#dd2620"/><rect x="357.5" y="1089.0" width="9.2" height="9.2" fill="#ea3721"/><rect x="366.4" y="1089.0" width="9.2" height="9.2" fill="#ef4e27"/><rect x="375.4" y="1089.0" width="9.2" height="9.2" fill="#f97f34"/><rect x="384.3" y="1089.0" width="9.2" height="9.2" fill="#ef4e27"/><rect x="393.3" y="1089.0" width="18.2" height="9.2" fill="#ed4625"/><rect x="411.2" y="1089.0" width="9.2" height="9.2" fill="#ea3721"/><rect x="420.1" y="1089.0" width="9.2" height="9.2" fill="#e22b20"/><rect x="357.5" y="1098.0" width="9.2" height="9.2" fill="#e8301f"/><rect x="366.4" y="1098.0" width="27.1" height="9.2" fill="#eb3f23"/><rect x="393.3" y="1098.0" width="9.2" height="9.2" fill="#ed4625"/><rect x="402.2" y="1098.0" width="9.2" height="9.2" fill="#eb3f23"/><rect x="357.5" y="1107.0" width="18.2" height="9.2" fill="#e8301f"/><rect x="375.4" y="1107.0" width="27.1" height="9.2" fill="#eb3f23"/><rect x="402.2" y="1107.0" width="9.2" height="9.2" fill="#ea3721"/><rect x="366.4" y="1115.9" width="36.1" height="9.2" fill="#ea3721"/><rect x="375.4" y="1124.8" width="9.2" height="9.2" fill="#ea3721"/><rect x="921" y="990" width="9" height="9" fill="#e33426"/><rect x="939" y="980" width="9" height="19" fill="#e33426"/><rect x="930" y="958" width="9" height="27" fill="#e33426"/><rect x="920" y="1035" width="10" height="9" fill="#e33426"/><rect x="930" y="1088" width="9" height="9" fill="#e33426"/><rect x="966" y="1160" width="9" height="17" fill="#e33426"/><rect x="286.6" y="256" width="17" height="3" fill="#7a0016"/><rect x="310" y="265" width="3.4" height="8" fill="#7a0016"/><rect x="279.6" y="282" width="3.6" height="9" fill="#7a0016"/><rect x="238.4" y="352.4" width="2.8" height="10.4" fill="#7a0016"/><rect x="227" y="375" width="4" height="7" fill="#7a0016"/><rect x="200.7" y="392.7" width="3.5" height="6" fill="#7a0016"/><rect x="165.5" y="422.7" width="22" height="3" fill="#7a0016"/><rect x="125" y="420" width="6.5" height="5.5" fill="#7a0016"/><rect x="102.5" y="448.7" width="3.5" height="15" fill="#7a0016"/><rect x="129.5" y="497.6" width="3" height="5" fill="#7a0016"/><rect x="146.5" y="516" width="5" height="4" fill="#7a0016"/><rect x="155.5" y="539" width="5" height="10" fill="#7a0016"/><rect x="106" y="554" width="17" height="4.5" fill="#7a0016"/><rect x="141.7" y="549" width="8.5" height="4" fill="#7a0016"/><rect x="275.8" y="246.3" width="10.5" height="2.5" fill="#7a0016"/></g>
<g fill="none" stroke="#000" stroke-width="1.7" stroke-linejoin="round" stroke-linecap="round">
<polygon points="210.0,130.0 211.1,127.4 213.8,125.8 215.0,123.0 217.6,122.1 222.1,121.0 223.2,119.7 226.3,118.3 230.0,117.0 230.7,113.8 231.0,110.5 233.0,108.0 236.1,107.5 237.8,106.4 241.9,107.3 244.6,108.5 248.0,108.3 250.0,107.0 250.6,104.1 253.0,102.0 255.2,100.6 258.7,100.6 261.7,99.2 264.6,100.0 268.5,99.1 271.6,98.8 274.6,97.8 276.7,97.1 280.0,97.0 282.3,97.3 285.7,95.8 288.7,95.9 291.7,95.3 294.6,95.1 298.3,96.4 300.7,95.3 303.9,96.6 307.2,94.4 310.0,95.0 312.3,97.6 311.8,100.2 315.0,103.0 317.5,105.6 320.0,107.6 322.7,109.8 323.7,111.9 327.0,113.0 329.3,115.0 333.7,115.1 336.2,114.5 339.7,118.3 343.0,118.0 344.6,119.9 348.9,121.2 351.5,122.6 354.8,125.6 357.0,127.0 357.7,129.8 359.2,132.8 360.6,135.0 363.0,137.0 366.4,136.8 369.1,138.8 371.3,140.0 375.2,140.3 377.0,142.0 378.4,145.1 381.8,147.0 383.9,148.7 385.0,152.0 387.4,152.1 390.5,151.9 393.6,151.7 397.2,151.4 400.0,150.0 402.6,148.3 405.3,147.0 407.7,145.9 409.2,143.9 413.0,143.0 416.4,143.4 419.4,143.0 421.5,142.5 424.4,142.8 427.9,142.8 429.4,143.2 433.0,142.0 434.5,140.3 437.9,140.1 440.5,138.1 443.1,136.6 445.6,134.5 448.0,133.0 450.4,133.3 454.1,133.6 456.1,134.8 458.9,135.4 462.5,135.8 464.1,137.7 467.0,138.0 469.2,139.2 473.2,139.1 476.9,138.8 480.0,140.0 482.0,142.3 483.1,145.0 485.2,148.1 488.0,150.0 488.2,153.1 486.9,156.2 487.0,159.1 485.4,161.1 486.8,163.9 485.0,167.0 482.7,168.5 480.2,171.7 480.1,175.1 478.0,177.0 475.8,177.8 473.3,181.6 471.2,183.9 468.0,184.6 467.0,187.0 465.1,188.7 461.2,189.6 458.0,190.0 458.1,193.1 458.2,196.3 458.5,198.9 457.0,203.0 454.6,204.3 451.3,203.8 448.5,204.5 444.7,206.1 442.0,207.2 440.0,208.0 441.9,212.0 442.4,213.8 445.0,217.0 441.9,218.1 440.1,220.8 438.0,223.0 441.5,226.9 442.0,230.0 445.1,230.9 447.3,231.9 450.9,231.5 453.7,232.6 457.0,232.0 457.3,236.4 457.1,238.5 458.0,243.0 461.2,245.8 462.9,247.9 465.0,250.0 462.4,251.6 459.4,252.5 458.5,255.7 454.7,255.9 453.0,258.0 450.6,259.6 446.8,259.3 443.3,261.7 440.0,263.0 435.7,262.3 433.7,263.2 430.0,261.7 427.7,259.2 425.1,257.5 421.7,256.7 422.6,259.3 422.9,263.8 423.0,266.7 425.7,268.8 428.4,272.9 430.0,275.0 431.2,277.7 429.7,281.0 430.2,284.5 431.7,288.0 434.3,291.5 435.2,294.5 437.3,296.7 438.0,300.0 441.7,298.8 444.1,296.5 446.7,296.7 447.4,298.9 450.0,300.7 452.1,303.1 453.0,306.7 456.0,307.4 458.4,310.4 461.5,311.9 463.8,311.7 466.7,313.0 470.1,314.0 472.1,315.4 475.0,319.1 478.6,319.4 480.5,321.8 483.0,323.0 486.6,324.3 489.5,327.6 493.0,328.0 497.1,328.8 499.0,330.9 502.1,332.5 505.1,332.9 508.6,334.6 510.7,335.4 513.0,338.0 509.7,338.9 507.9,342.7 503.9,342.7 502.1,344.1 500.0,346.7 497.3,349.5 496.3,352.4 495.0,356.7 492.7,358.3 491.7,361.3 488.6,363.7 486.7,366.7 487.5,370.8 485.4,372.7 486.7,376.7 484.9,378.1 483.9,382.1 481.9,384.0 480.0,386.7 478.0,391.7 480.4,393.5 484.2,393.8 486.9,395.6 490.9,395.6 493.0,396.7 495.7,398.6 498.8,400.2 500.2,402.6 502.3,404.4 505.2,406.4 508.3,406.7 509.2,408.7 513.0,410.0 516.2,411.5 517.7,411.8 520.2,413.9 522.8,416.2 526.4,416.7 527.5,419.4 529.6,420.8 533.0,421.7 535.4,421.3 538.4,424.3 540.8,424.3 545.0,425.7 546.9,427.1 549.6,426.1 553.0,428.0 556.2,430.1 558.7,429.5 562.3,430.6 564.1,431.0 567.6,431.8 569.9,433.3 574.0,433.0 575.9,435.0 579.9,434.1 582.8,436.6 584.4,438.0 587.9,438.3 590.7,440.0 594.4,438.6 598.2,437.4 600.7,436.7 604.4,436.4 608.0,437.9 610.0,438.5 614.0,440.0 616.7,441.0 621.6,440.8 624.1,441.7 626.7,441.5 630.7,441.7 633.2,444.8 635.4,444.2 637.9,446.1 641.0,448.2 643.9,450.2 647.0,451.3 647.2,453.8 650.7,455.0 652.8,455.4 655.9,456.3 659.6,456.6 661.6,457.0 665.3,457.9 667.6,459.3 671.5,457.9 673.2,459.6 677.0,460.0 679.1,461.8 681.2,465.8 684.0,468.0 686.6,468.9 689.5,468.7 692.5,469.1 695.1,469.0 697.6,467.1 700.8,469.1 704.0,468.0 706.4,467.3 709.5,470.0 713.5,469.3 716.5,470.8 719.5,469.9 721.3,471.1 725.3,469.8 727.2,472.4 730.7,471.7 732.8,474.3 737.0,476.7 739.9,476.4 741.9,475.7 745.0,476.6 748.9,475.6 752.1,476.6 753.8,475.5 757.0,476.7 760.5,476.3 763.2,473.3 766.7,471.7 766.9,467.8 768.2,465.7 767.7,461.8 769.4,460.7 770.0,456.7 768.8,453.9 764.1,452.7 763.0,450.0 763.7,447.5 764.8,444.3 765.1,439.7 765.0,436.7 766.8,433.8 765.6,430.2 767.3,428.3 768.4,424.3 768.0,421.7 771.5,420.8 774.5,419.5 777.1,418.4 780.0,418.0 783.4,416.3 786.4,418.1 789.6,417.5 791.7,416.7 793.9,420.7 793.5,423.1 795.0,426.7 793.6,430.6 792.1,432.9 793.4,436.7 791.7,440.0 793.1,443.2 792.7,447.6 793.1,450.7 795.0,453.0 797.8,454.7 799.9,455.6 804.2,456.1 806.7,458.0 809.7,458.1 811.8,459.1 814.6,461.7 817.0,462.3 820.6,461.3 823.0,463.0 826.4,463.1 829.1,463.4 830.8,463.0 833.9,461.4 837.7,460.8 840.0,461.5 843.0,461.7 845.2,460.9 848.0,458.0 851.1,459.1 854.8,458.8 857.7,459.1 860.9,460.7 864.0,460.2 866.6,462.4 870.0,461.7 872.5,462.1 876.4,460.5 877.8,460.0 881.7,461.8 885.1,459.8 887.6,460.3 890.0,460.0 892.6,460.6 896.3,459.4 899.0,457.7 900.7,458.1 904.1,457.2 906.7,458.0 910.1,456.3 911.7,453.0 909.9,449.6 910.1,446.4 908.7,442.9 906.7,440.0 904.1,439.1 900.9,438.8 898.7,437.8 896.1,435.3 893.0,435.0 892.9,432.2 892.3,427.7 891.7,425.0 894.2,426.0 896.8,426.1 900.6,427.3 903.0,428.0 905.9,428.6 907.8,427.5 910.8,425.7 913.9,424.4 916.7,425.0 920.2,425.4 923.5,422.4 926.7,423.0 927.2,420.4 928.5,417.1 929.9,414.2 932.3,412.7 933.0,410.0 934.7,408.4 938.3,407.6 941.8,408.3 943.6,407.2 946.9,405.3 950.0,405.0 953.0,403.0 953.4,399.0 956.7,396.7 960.2,396.0 962.5,396.4 965.5,393.9 968.2,393.2 970.3,392.6 972.9,391.4 976.7,391.7 978.9,388.2 980.5,386.7 983.0,383.0 985.1,383.0 988.8,381.6 991.5,380.2 994.0,380.6 996.7,380.0 997.6,377.1 1000.7,373.8 1001.7,371.7 1004.2,373.3 1007.2,374.7 1010.1,374.2 1013.0,376.7 1015.3,375.8 1019.3,377.3 1022.2,376.9 1024.5,375.4 1026.6,375.2 1030.0,375.0 1032.8,374.8 1036.1,371.8 1037.6,370.8 1041.2,370.5 1043.8,369.8 1046.7,368.4 1050.0,366.7 1052.4,368.5 1056.3,370.9 1057.5,372.0 1061.7,373.0 1059.6,377.1 1056.3,379.1 1055.0,381.7 1058.8,381.5 1060.5,383.6 1064.2,382.3 1066.7,383.0 1066.7,386.3 1069.9,388.1 1070.0,391.7 1066.9,394.2 1064.7,396.6 1063.0,398.9 1060.0,400.0 1062.9,401.8 1065.8,400.8 1067.5,402.1 1070.9,400.7 1073.9,401.9 1076.7,403.0 1080.2,403.3 1082.7,405.1 1085.2,405.6 1087.6,406.5 1090.4,409.2 1093.3,407.9 1096.7,410.0 1098.2,412.8 1099.1,415.9 1100.0,420.0 1097.7,420.2 1095.1,421.7 1092.2,423.6 1088.6,424.7 1085.5,423.1 1083.0,425.0 1080.7,427.7 1081.9,431.5 1080.0,433.0 1080.8,436.3 1083.5,437.4 1084.7,439.6 1087.2,442.1 1088.6,444.0 1090.0,446.7 1088.0,451.7 1084.8,449.1 1082.8,449.1 1079.1,447.6 1076.7,445.0 1074.5,443.5 1071.4,444.9 1068.6,442.8 1065.6,444.4 1063.6,442.5 1060.0,443.0 1057.9,444.3 1054.4,444.7 1052.1,444.9 1049.2,446.0 1046.7,448.0 1044.4,450.6 1040.9,452.3 1040.0,455.0 1038.6,457.4 1036.2,460.8 1034.1,462.0 1032.0,463.8 1030.0,466.7 1028.3,469.0 1026.1,471.5 1024.2,473.3 1021.1,474.5 1020.0,476.7 1020.4,478.9 1019.2,482.3 1017.9,484.9 1018.0,488.0 1014.9,490.6 1013.1,493.8 1010.6,495.3 1009.2,496.9 1006.7,500.0 1004.7,501.5 1004.1,504.9 1001.3,507.2 1000.0,510.0 1000.4,513.1 998.4,515.5 998.8,518.7 996.8,520.6 998.5,524.1 996.7,526.7 996.6,530.3 998.1,533.7 1000.6,537.0 1000.0,540.0 997.6,541.7 996.9,545.8 993.3,547.3 991.3,549.6 990.0,553.0 987.6,556.1 987.4,557.5 983.7,560.3 983.0,563.0 979.0,563.9 976.7,566.7 972.8,564.7 970.0,563.0 967.2,562.2 963.4,561.2 959.2,560.9 956.7,561.7 957.3,563.9 958.6,567.2 956.9,569.8 958.0,573.0 958.0,576.6 957.2,578.3 957.0,582.1 957.6,584.8 956.1,586.4 955.9,589.9 956.7,593.0 954.8,595.0 950.0,595.0 948.0,596.7 948.0,600.6 947.9,603.8 947.7,606.7 946.7,610.0 947.1,613.6 949.4,617.1 950.0,620.0 949.6,623.5 947.0,624.9 946.5,628.6 944.8,630.2 943.0,633.0 938.0,635.0 934.9,634.1 930.0,633.0 928.1,629.5 929.7,626.8 928.3,622.4 926.7,620.0 925.5,616.2 924.0,612.9 923.3,609.8 923.0,606.7 923.4,603.1 920.4,600.7 921.0,598.0 920.9,595.3 920.6,592.3 918.8,590.4 918.0,586.7 916.7,584.1 916.8,580.0 916.9,575.4 916.7,573.0 911.7,573.0 908.5,576.7 905.6,578.1 903.0,580.0 902.7,583.4 903.1,587.0 902.0,589.2 901.7,593.0 898.9,594.5 896.2,596.5 893.0,598.0 888.9,596.6 887.0,594.2 883.0,593.0 881.9,590.4 882.6,585.9 881.7,583.0 879.6,579.6 876.7,576.7 877.3,574.2 876.7,570.0 878.9,566.8 881.6,564.9 884.1,564.8 886.7,561.7 889.5,559.8 889.7,556.2 893.0,553.0 896.1,551.7 899.0,552.9 901.2,550.9 903.9,550.0 906.7,550.0 910.1,548.2 913.0,545.0 912.8,542.2 913.7,539.1 912.1,535.5 913.0,533.0 916.5,532.8 920.0,530.0 919.1,526.7 916.7,524.1 916.7,521.7 912.9,522.3 908.8,521.8 906.4,521.3 903.0,521.7 900.0,521.2 896.2,520.8 893.1,521.0 889.1,520.2 886.7,520.0 883.0,519.4 880.9,519.7 876.0,519.4 873.7,521.3 870.0,520.0 868.0,518.9 864.3,519.9 860.7,519.9 858.6,520.7 855.0,520.1 852.6,520.2 850.0,520.0 846.2,519.8 844.3,518.1 841.6,518.7 838.6,517.4 836.8,515.1 833.0,515.0 831.7,511.8 831.9,509.3 830.0,506.7 828.9,503.5 829.4,500.9 828.0,496.7 828.5,493.3 827.9,491.5 826.7,488.0 821.7,486.7 819.3,485.9 816.0,487.0 813.0,486.7 809.7,486.6 807.7,484.4 805.0,483.0 801.9,479.3 800.0,476.7 796.7,479.7 793.0,480.0 789.9,478.5 788.2,476.7 785.0,475.0 782.7,473.4 778.5,472.2 775.0,471.7 776.7,476.7 774.0,478.9 772.1,481.9 771.6,484.3 770.0,486.7 768.9,489.3 769.6,493.3 768.0,496.7 770.1,498.5 773.2,499.1 776.7,500.0 780.5,501.0 782.2,502.0 784.7,505.3 788.5,504.7 790.0,506.7 792.0,510.3 794.2,512.9 796.7,515.0 795.3,518.1 795.0,521.7 791.8,522.1 789.8,520.7 786.1,520.5 782.4,519.3 780.0,520.0 778.8,522.7 779.2,526.4 776.7,530.0 774.3,533.0 771.8,534.2 770.2,535.0 766.7,536.7 764.6,539.2 763.0,543.0 765.7,545.4 767.0,547.0 769.4,548.4 773.0,550.0 776.3,551.0 779.6,552.4 780.5,555.6 785.0,556.7 786.4,559.9 786.0,563.6 786.7,566.6 786.7,570.0 788.0,572.9 787.2,576.2 789.4,578.2 789.7,581.0 789.1,584.8 790.0,586.7 792.9,588.5 795.7,590.7 796.7,593.0 795.4,595.9 795.9,599.2 794.8,603.5 795.0,606.7 796.0,610.1 795.9,613.7 798.1,615.7 798.0,620.0 799.5,622.4 799.3,627.6 799.5,629.9 801.7,633.0 801.3,636.3 801.7,640.0 802.1,644.1 801.7,646.7 798.8,647.4 794.9,647.7 792.2,647.8 789.6,648.6 787.0,646.8 782.7,649.1 780.0,648.0 776.5,647.4 773.8,648.1 771.2,647.4 768.0,646.4 766.3,648.0 763.0,646.7 762.8,644.2 759.7,640.0 760.0,636.7 756.1,638.3 755.4,641.2 752.0,643.0 748.6,643.3 745.7,646.4 742.0,646.7 739.7,650.0 737.5,651.4 735.2,651.9 733.0,655.0 730.7,658.1 728.0,659.1 726.0,662.1 725.0,664.0 725.4,667.1 723.5,672.0 727.1,675.4 728.0,678.0 726.3,682.5 726.0,686.0 723.4,687.8 723.6,690.9 721.0,693.0 719.7,695.2 716.1,696.6 713.1,699.9 711.4,701.2 709.0,704.0 706.6,704.9 703.9,707.5 701.2,708.0 698.7,708.7 696.4,710.2 692.1,710.3 689.8,711.1 687.0,712.6 684.0,713.0 681.8,715.0 677.8,716.8 674.9,717.4 671.7,719.0 668.4,720.5 666.1,722.3 662.8,725.2 661.0,727.5 658.2,729.3 655.7,732.8 653.0,733.7 651.6,736.2 648.4,738.0 646.4,740.4 643.9,743.3 641.9,744.4 640.0,746.7 637.7,748.7 636.3,751.3 633.6,754.3 631.7,756.0 630.0,758.0 627.6,760.5 624.9,761.2 624.0,764.1 621.3,765.2 619.6,768.6 616.7,770.0 615.3,772.6 612.9,773.6 609.3,776.4 607.4,778.7 605.0,780.1 603.1,781.3 600.0,783.0 597.7,784.1 595.5,788.0 592.9,788.8 589.1,791.4 586.7,793.0 585.6,795.1 582.3,797.3 581.0,798.7 577.6,798.4 575.3,802.2 573.0,803.0 571.5,806.0 569.2,806.7 566.4,808.5 564.6,810.1 563.0,813.0 561.2,815.6 561.5,819.0 560.0,823.0 557.1,824.3 553.8,827.3 553.2,829.0 550.0,831.7 545.8,833.1 542.2,833.4 540.0,835.0 536.7,834.4 534.0,836.1 529.8,835.9 526.7,836.7 523.9,838.9 522.3,840.3 520.0,843.0 519.7,847.5 518.1,849.5 516.7,853.0 513.4,853.6 509.3,854.6 506.7,856.7 503.2,856.3 500.9,857.7 498.3,857.9 496.5,859.7 493.4,859.8 490.0,860.0 487.8,862.9 485.7,865.3 483.0,866.7 483.7,869.6 482.1,873.7 481.5,877.2 481.7,880.0 482.2,883.9 481.8,887.7 481.7,889.5 484.0,892.9 483.0,896.7 483.6,899.9 483.3,903.1 481.4,906.4 481.9,910.0 481.7,913.0 482.8,916.4 482.3,918.9 481.2,920.8 482.0,924.4 483.9,926.9 483.0,930.0 484.5,933.0 486.3,934.4 488.0,938.0 489.4,941.3 490.8,944.0 491.1,947.6 489.8,950.0 489.3,952.1 488.9,955.8 488.6,957.9 486.7,960.8 485.6,963.3 483.8,967.6 482.5,971.0 482.3,974.2 481.1,976.7 479.1,978.3 478.0,981.7 478.1,985.9 477.3,988.3 475.0,992.0 473.3,995.4 473.7,999.7 473.0,1002.5 471.6,1006.0 471.6,1008.5 471.5,1012.4 471.0,1015.0 469.9,1018.2 470.6,1021.8 470.0,1024.0 470.0,1027.5 471.8,1030.9 472.4,1034.8 472.0,1038.0 472.3,1040.4 473.0,1043.7 473.0,1048.0 469.7,1049.7 467.4,1050.9 463.7,1051.5 459.5,1053.2 456.7,1052.7 453.0,1053.5 452.4,1056.1 449.0,1058.7 448.2,1061.4 445.7,1063.3 445.0,1067.0 442.7,1069.6 441.4,1072.9 438.7,1075.4 439.3,1079.3 439.8,1083.7 442.8,1086.0 447.0,1087.0 449.6,1087.9 451.7,1090.3 455.4,1091.0 452.4,1089.8 447.7,1091.0 445.0,1089.5 440.9,1091.0 438.4,1089.4 434.6,1091.0 431.2,1092.1 428.6,1093.0 424.0,1094.0 421.1,1096.5 417.8,1095.8 415.8,1098.0 415.6,1101.6 414.8,1103.4 412.7,1105.9 411.7,1108.7 411.3,1111.7 408.6,1113.7 407.0,1116.4 405.4,1119.0 402.9,1120.9 399.7,1122.2 396.5,1124.7 395.0,1127.5 391.5,1128.9 389.8,1129.1 387.1,1130.1 383.0,1130.1 380.4,1130.6 377.5,1127.5 374.2,1127.2 372.9,1125.6 370.0,1123.0 368.2,1119.3 366.8,1117.4 363.3,1114.8 361.7,1113.0 361.1,1110.6 359.4,1107.6 356.3,1106.2 355.4,1102.5 354.3,1098.3 352.3,1096.8 351.1,1093.6 351.0,1090.0 350.7,1085.7 350.2,1083.7 347.3,1080.3 347.0,1077.5 346.2,1075.0 345.5,1070.2 345.1,1067.8 343.0,1065.0 342.9,1061.7 341.4,1057.6 341.3,1056.1 338.7,1052.5 338.3,1049.1 335.6,1046.8 335.1,1043.0 334.6,1040.0 333.9,1036.8 332.2,1033.2 331.1,1029.7 330.4,1027.5 327.7,1024.3 327.3,1021.4 327.5,1018.3 325.0,1015.0 324.0,1011.4 322.4,1010.2 321.6,1007.1 320.0,1004.6 317.5,1002.9 314.9,999.0 313.7,996.0 312.6,992.9 310.0,989.7 307.5,988.0 305.2,984.8 304.7,981.8 301.3,980.1 301.0,977.5 299.5,974.5 298.3,972.0 296.0,967.9 295.0,965.0 293.2,962.8 292.9,960.1 291.6,957.4 290.8,954.6 288.5,950.7 288.5,948.0 287.7,944.0 287.4,941.5 286.0,938.3 285.9,935.3 285.0,933.0 283.4,931.3 283.5,928.0 282.4,924.3 281.8,922.4 281.3,920.0 280.0,916.7 278.3,914.1 278.3,911.5 277.0,908.3 275.6,905.9 275.0,903.0 273.3,901.3 270.8,897.5 270.5,895.4 268.0,893.0 266.2,891.4 264.3,888.2 264.7,884.5 262.2,882.2 261.7,880.0 260.4,877.2 257.6,874.1 256.9,870.9 255.2,870.0 254.1,867.1 253.0,863.0 250.7,860.3 249.5,858.9 248.1,854.2 246.1,852.1 245.0,850.0 243.3,848.3 242.3,844.6 243.8,840.4 243.1,838.6 240.9,835.2 241.3,831.9 240.0,830.0 240.4,827.7 239.1,823.9 237.8,821.1 235.7,818.0 235.8,816.5 234.8,813.9 235.0,810.0 234.1,806.9 233.1,803.9 232.1,800.8 232.8,799.0 232.5,795.6 231.3,791.7 231.6,789.2 230.0,786.7 228.8,783.5 228.1,781.4 229.9,778.4 227.0,775.1 228.0,772.9 227.4,769.5 226.7,766.7 226.1,764.6 226.4,760.5 224.4,758.8 224.6,754.7 224.9,752.1 222.6,749.0 223.0,746.7 223.6,743.8 223.2,740.3 221.6,737.4 222.9,732.4 221.7,730.0 219.4,727.1 219.4,724.9 216.2,722.5 214.6,720.0 215.8,717.7 215.3,714.4 215.1,710.8 216.7,707.5 216.7,703.4 218.2,701.3 218.7,697.0 221.2,693.3 223.0,690.8 223.1,687.0 221.6,684.5 221.0,681.3 222.0,678.0 221.3,673.9 218.4,672.0 218.2,668.9 216.7,665.8 216.6,663.1 216.7,659.5 215.1,657.0 214.6,653.0 212.2,649.2 211.1,646.7 210.4,643.0 210.0,640.5 210.5,637.0 211.5,632.5 213.9,630.6 216.0,628.0 220.2,626.2 223.0,624.0 220.3,624.4 216.2,626.3 214.6,626.5 210.4,626.0 207.4,622.8 204.0,622.0 203.3,624.5 202.0,627.2 200.0,630.4 200.1,634.2 199.6,636.4 198.0,638.7 198.2,642.5 199.1,646.4 200.0,649.0 197.3,651.8 198.3,654.4 195.8,657.5 192.4,659.3 190.5,662.0 187.6,663.2 185.4,665.8 181.2,666.9 179.7,669.8 176.2,669.8 173.0,672.0 170.3,672.6 167.2,674.7 163.1,675.9 160.4,677.0 157.1,679.4 153.7,679.2 150.0,680.4 146.1,678.7 142.8,677.7 139.6,677.0 137.0,676.5 134.5,673.5 131.0,671.2 129.0,670.0 126.6,667.6 123.9,666.1 122.5,663.3 120.5,663.0 118.7,659.6 116.9,656.8 115.2,654.3 111.9,652.2 110.4,649.0 107.7,646.9 103.8,646.3 102.0,645.0 100.8,642.8 97.1,640.4 93.7,639.4 91.7,636.7 89.1,635.0 88.0,629.6 85.4,628.0 84.5,624.2 82.3,622.0 83.8,620.1 86.5,617.0 89.9,618.3 92.2,620.4 93.7,622.0 96.6,620.1 98.0,617.0 101.6,617.4 104.2,616.7 108.0,618.0 112.2,616.4 115.2,616.6 118.7,614.8 121.2,614.2 124.6,611.3 127.0,611.7 129.6,608.8 132.0,605.4 134.1,601.8 136.4,598.9 136.5,596.0 132.2,597.2 128.9,597.4 126.0,598.0 123.0,599.0 119.3,599.5 117.2,599.8 115.0,602.8 112.5,603.0 109.7,604.6 106.3,604.3 102.0,605.4 98.6,603.3 95.8,603.3 92.7,602.8 89.6,601.3 87.5,601.0 84.5,598.3 82.5,596.9 79.3,594.9 77.0,593.0 74.7,589.6 72.7,588.5 68.8,586.7 66.2,583.9 66.4,581.5 64.6,578.0 61.8,576.6 59.5,576.0 57.0,574.0 55.5,571.6 55.0,568.0 57.6,564.7 60.0,564.0 64.6,564.8 68.0,562.6 70.9,561.6 75.0,561.7 76.5,558.1 76.7,554.3 77.0,551.0 80.6,550.7 83.2,551.4 86.7,551.4 88.6,552.3 91.7,552.0 94.2,553.5 97.8,552.7 100.8,553.1 102.3,554.0 106.0,554.0 108.4,552.9 112.4,554.2 115.4,555.1 117.7,554.9 120.8,555.0 123.0,553.0 126.5,552.2 130.6,551.1 133.0,549.0 137.1,548.8 140.6,548.0 141.7,553.0 146.5,552.3 150.0,553.0 152.0,549.0 155.1,549.6 157.5,548.4 160.4,548.0 159.7,543.0 160.4,539.8 158.8,536.8 156.0,534.6 155.7,532.1 154.5,529.3 154.5,524.8 153.8,521.7 152.0,520.0 151.7,517.1 149.4,514.0 149.1,511.8 146.2,510.5 145.0,506.7 141.4,503.6 138.7,504.2 135.0,501.7 132.1,497.9 129.6,495.9 128.0,493.0 125.4,489.2 126.2,486.6 125.5,483.7 123.0,480.0 121.7,477.0 121.8,473.1 120.0,470.0 116.7,468.7 114.6,468.0 111.5,469.5 108.0,468.0 106.0,466.1 106.8,462.8 105.0,460.0 103.3,458.6 101.7,455.0 103.1,451.6 105.2,449.9 106.7,446.7 107.9,443.6 110.3,441.9 113.5,438.9 115.1,437.2 118.1,436.1 120.0,433.0 121.5,431.1 125.1,429.0 126.4,425.6 127.2,423.4 130.0,421.7 134.1,421.7 136.5,421.5 140.0,420.0 142.0,421.4 143.9,424.9 146.7,426.7 150.1,426.7 152.0,427.0 154.9,424.8 158.8,425.5 160.2,422.9 164.0,424.5 166.7,423.0 170.1,422.5 172.6,422.0 175.4,421.3 177.2,418.7 180.5,419.1 183.8,417.2 186.7,416.7 187.7,414.0 191.0,412.8 191.5,409.4 193.3,407.9 194.9,405.5 196.7,403.0 198.5,400.5 201.1,398.9 203.0,396.3 205.0,393.0 208.0,390.4 210.1,388.5 213.3,387.4 213.6,385.2 216.7,383.0 220.0,382.6 221.9,380.0 225.0,380.0 227.1,377.0 229.3,375.5 231.7,373.0 233.3,369.1 233.4,366.6 233.0,363.0 233.7,359.5 234.2,357.2 237.4,355.2 238.0,352.3 237.8,349.8 240.0,346.7 243.1,346.5 246.7,344.6 249.2,344.1 252.4,344.7 255.7,344.4 258.0,343.0 259.4,340.3 259.1,335.8 260.0,333.0 262.5,331.6 264.4,329.2 264.8,325.0 267.3,322.7 270.7,321.4 271.7,318.0 274.5,315.6 276.4,314.1 278.1,311.8 280.0,310.0 281.1,307.4 280.7,304.9 280.8,301.6 282.2,299.3 280.6,295.6 281.7,293.0 281.5,289.1 282.9,287.3 283.0,283.0 285.9,280.8 288.0,276.7 290.4,276.6 293.4,276.6 296.1,273.8 298.5,274.2 301.4,273.1 305.1,272.1 307.6,272.2 310.0,271.7 311.1,269.3 311.7,265.0 309.4,264.6 306.7,263.0 304.2,259.4 303.2,257.6 300.0,256.7 297.6,255.8 293.4,254.6 290.4,256.4 286.7,255.0 286.6,252.3 286.8,249.7 285.0,246.7 282.6,247.0 278.6,246.0 274.2,244.8 271.7,245.0 268.1,244.5 265.8,244.2 261.7,243.0 259.8,241.0 258.4,238.4 256.7,235.0 253.6,232.1 253.3,229.4 250.0,226.7 248.8,224.1 249.6,220.7 248.7,218.6 247.9,215.1 246.7,213.0 244.9,210.1 245.0,207.4 244.7,204.3 243.5,202.2 243.7,199.7 241.7,196.7 242.2,193.5 242.5,190.4 243.2,188.7 243.0,185.0 245.2,182.0 247.7,180.8 249.7,178.0 253.0,176.7 255.8,177.0 258.9,174.1 261.3,172.8 265.0,173.0 264.6,168.7 266.7,165.0 263.9,164.1 260.2,163.0 257.9,159.5 254.4,159.8 251.7,158.0 252.0,153.2 253.0,150.0 250.6,149.6 247.7,148.0 243.9,146.7 241.0,145.3 238.7,142.9 235.6,143.5 233.0,141.7 229.7,139.5 226.5,140.8 223.9,140.7 221.4,138.0 218.1,138.2 216.4,137.3 213.0,136.7 212.5,134.0"/>
<polyline points="266.7,165.0 270.9,165.5 273.6,166.8 276.0,166.7 280.0,168.0 281.4,170.7 285.1,171.2 287.0,174.8 290.0,176.7 294.0,177.1 297.2,177.4 299.7,176.7 303.0,178.0 304.5,180.2 306.0,183.2 307.4,187.5 310.0,190.0 313.6,191.6 315.2,192.8 317.5,195.8 319.9,198.6 323.0,200.0 326.1,201.1 329.0,202.4 331.1,204.3 335.1,205.8 336.7,208.0 339.2,209.9 339.5,213.6 342.1,215.2 343.0,218.0 345.8,218.8 348.5,222.2 350.6,222.8 354.6,224.2 356.7,226.7 359.5,229.1 359.8,231.5 363.0,233.0"/>
<polyline points="363.0,233.0 364.8,234.4 367.5,236.7 367.8,239.3 371.3,240.4 373.0,243.0 376.3,244.8 378.8,243.7 380.7,245.0 384.4,247.1 386.7,246.7 390.2,245.6 393.0,241.7 395.0,244.3 397.0,246.3 401.6,247.9 403.0,250.0 405.7,250.5 409.4,252.4 413.0,253.0 414.9,254.7 418.9,255.9 421.7,256.7"/>
<polyline points="363.0,233.0 359.7,234.4 356.7,235.0 352.9,234.8 349.9,235.6 346.7,236.7 343.1,238.9 339.7,239.4 336.7,241.7 332.2,244.5 330.0,246.7 329.6,250.4 331.7,252.4 331.7,256.7 329.1,258.5 326.7,263.0 323.2,264.9 320.0,266.7 320.4,269.2 321.7,273.0 318.5,272.6 316.1,271.9 313.0,270.0"/>
<polyline points="321.7,273.0 324.8,274.1 328.0,276.7 330.6,278.6 333.0,283.0 333.8,286.0 336.1,288.4 335.4,291.1 335.8,293.8 338.0,296.7 340.7,297.9 344.3,298.0 346.7,300.0 347.9,303.5 350.4,304.2 351.0,307.3 353.0,310.0 356.4,312.4 360.0,313.0 361.7,315.5 361.1,318.6 363.0,321.7 364.4,325.4 366.7,326.7"/>
<polyline points="366.7,326.7 370.0,328.1 373.9,327.8 376.7,328.0 379.9,328.3 382.2,330.6 386.7,331.7 390.4,330.3 391.6,327.6 395.0,326.7 395.1,323.1 396.6,320.1 396.7,316.7 399.1,314.0 400.0,310.0 402.7,307.9 405.8,307.8 409.1,305.6 413.0,305.0 416.5,305.0 418.5,304.5 420.5,303.6 424.8,303.0 426.7,301.7 428.3,303.5 431.9,303.9 434.1,306.2 438.0,306.7 438.4,303.9 438.0,300.0"/>
<polyline points="366.7,326.7 365.2,330.3 364.8,334.4 361.2,334.2 357.5,336.5 355.4,339.2 351.0,341.7 347.2,343.3 345.0,343.7 344.8,346.3 342.9,350.0 341.9,352.0 339.8,353.1 334.9,354.3 332.5,355.0 328.7,355.3 325.1,354.7 322.0,356.0 318.5,356.2 314.8,357.0 311.8,359.4 309.1,361.0 307.5,362.5 305.7,358.2 304.4,356.0 301.7,354.2 299.0,351.8 297.0,351.0 293.7,350.1 291.1,349.3 288.7,349.0 286.3,348.2 283.0,348.0 279.2,348.9 275.7,349.0 273.6,348.2 270.0,348.0 267.2,346.1 263.8,344.2 261.4,343.6 258.0,343.0"/>
<polyline points="283.0,348.0 282.3,351.9 284.4,354.7 285.4,357.0 284.6,360.4 284.9,363.4 283.8,365.5 282.5,368.7 285.4,368.5 289.9,370.7 293.0,369.8 295.3,371.8 299.0,372.7 301.0,373.0 304.6,374.3 308.8,373.5 311.7,375.0 311.8,377.4 313.8,380.1 314.8,383.0 316.2,385.8 316.4,389.1 318.3,390.5 319.0,393.7 320.7,395.7 321.9,400.0 323.9,402.6 326.0,404.0 328.2,407.0 330.1,409.3 333.2,409.5 334.6,412.5 333.7,416.0 334.2,420.5 332.5,423.0 336.2,424.4 339.8,425.0 340.3,419.7 340.8,416.7 345.0,413.5 346.9,415.1 350.0,416.7 353.0,419.8 356.4,417.6 357.5,415.6 359.7,413.9 363.7,412.5 365.4,415.4 368.0,416.7 367.8,421.4 366.9,425.0 367.0,427.4 368.0,431.0 370.9,430.6 374.0,427.0 376.6,425.2 381.5,425.0"/>
<polyline points="395.0,326.7 394.7,331.9 393.0,334.4 388.7,336.4 387.1,339.2 384.6,341.7 382.6,345.8 379.4,346.9 378.0,350.0 376.2,353.5 375.9,357.3 375.0,360.4 376.5,364.0 374.3,367.1 376.4,370.1 376.0,373.0 377.1,376.1 375.7,379.8 376.0,383.0 376.3,386.1 378.0,389.6 379.8,391.6 381.5,395.8 381.4,400.2 379.4,402.0 381.6,404.5 386.7,406.0 387.5,410.4 387.6,412.2 388.7,416.7 387.7,419.2 386.7,423.0 381.5,425.0"/>
<polyline points="378.0,389.6 375.4,387.8 372.0,388.5 369.5,389.4 366.9,391.7 367.5,394.8 365.8,398.0 367.7,399.2 370.0,402.0 372.4,401.6 377.1,402.2 379.4,402.0"/>
<polyline points="395.0,326.7 395.8,329.0 396.2,332.5 396.8,335.8 397.6,337.9 397.0,341.7 396.7,344.3 396.9,347.3 395.0,350.0 396.5,353.3 399.0,356.0 401.2,357.1 402.3,360.2 405.4,362.5 407.6,361.3 411.7,359.8 413.7,357.0 416.3,357.3 420.0,356.0 423.1,357.6 424.3,359.1 425.4,363.1 428.0,364.6 430.4,365.0 432.2,367.2 434.7,370.3 436.7,372.0 438.5,373.9 442.2,374.7 444.3,378.3 447.0,379.0 450.3,380.6 453.5,381.5 455.1,384.9 457.5,385.4 459.3,386.7 463.6,387.2 465.8,388.1 468.0,389.6 470.8,391.8 473.4,390.4 476.0,392.7 478.0,391.7"/>
<polyline points="381.5,425.0 381.5,429.5 382.5,433.0 383.4,435.5 385.9,438.5 388.7,439.6 391.2,441.3 393.0,445.8 392.2,448.2 395.2,451.0 395.0,454.0 391.7,456.5 390.1,458.5 386.7,459.4 385.6,462.5 390.0,461.6 392.0,460.7 395.0,458.0 399.0,458.5 402.1,456.1 405.4,457.0 408.0,457.0 411.0,459.4 413.7,458.7"/>
<polyline points="413.7,458.7 417.5,458.8 420.4,459.2 424.0,460.8 427.8,461.4 430.0,462.1 433.6,462.8 436.7,464.0 439.3,466.7 443.0,469.0 443.5,473.2 445.8,474.0 446.0,478.5 444.6,480.9 442.3,484.2 442.4,486.5 440.8,490.0 439.7,493.8 437.9,494.8 435.6,497.5 434.6,500.4 431.7,503.3 429.1,503.0 426.0,505.6 422.7,506.6 421.1,509.7 418.0,510.8 416.2,514.7 415.8,517.0 417.4,521.0 420.0,523.0 417.8,524.2 414.8,527.7 413.7,529.6 414.5,533.3 413.7,538.0 416.1,540.0 417.9,544.6 417.6,546.9 420.0,550.4 423.0,550.2 428.0,549.0 430.3,552.1 433.1,554.0 434.6,555.6 436.4,553.7 438.5,550.9 438.7,548.7 440.8,546.0 439.7,543.0 435.9,541.6 434.6,538.0 432.6,535.9 433.2,532.5 430.7,530.0 430.4,527.5 429.3,525.1 426.5,522.8 426.0,519.0 425.8,516.5 428.0,513.0 431.3,511.2 433.0,509.0 434.2,510.8 437.0,513.0 434.0,517.0 436.4,517.4 440.0,519.0 441.4,516.3 441.0,512.0 442.3,514.0 444.6,515.6 446.3,519.1 447.0,522.0 449.9,521.0 454.3,520.2 457.5,521.0 461.0,521.2 463.1,521.9 466.5,522.6 470.0,522.0 471.5,519.3 474.0,516.0 477.9,515.8 479.4,514.0 482.9,512.4 486.7,512.0 489.2,514.9 490.8,519.0 488.0,521.9 486.7,525.0 488.9,523.8 493.2,524.3 495.3,523.5 499.0,523.0 501.3,523.2 504.0,520.2 507.0,520.0 506.2,524.3 508.0,527.7 510.7,528.0 515.3,529.0 517.5,529.8 519.1,526.1 520.6,524.6 523.8,521.5 527.7,520.6 530.3,521.4 534.0,521.5 537.6,523.5 539.1,524.2 542.4,526.2 544.6,528.8 547.1,531.5 549.0,533.0 551.4,534.9 555.7,534.6 557.0,537.0 560.4,536.6 563.0,537.9 565.4,539.0 569.6,538.2 572.2,538.6 575.8,540.0 575.7,542.7 574.8,546.3 575.4,549.5 575.8,551.7 575.8,554.1 575.4,559.3 575.7,561.7"/>
<polyline points="413.7,458.7 410.7,459.4 409.2,462.1 405.9,462.7 403.0,465.0 401.7,467.4 397.8,468.5 395.7,468.9 393.4,471.5 390.8,473.0 389.0,473.9 385.5,474.5 383.1,477.2 381.0,478.4 378.0,479.6 375.7,482.3 374.0,482.7 370.4,485.0 367.7,485.7 365.8,488.0 364.2,490.1 360.7,490.5 358.0,494.8 355.4,495.0 355.3,497.4 353.7,499.9 351.0,502.5 353.6,504.7 354.6,508.0 355.4,510.8 357.3,513.2 361.6,512.8 363.7,515.0 366.3,514.9 371.1,515.7 374.0,515.0 376.7,513.3 379.3,512.2 382.5,512.0 383.9,514.1 384.1,518.3 383.5,521.0 380.6,522.2 377.8,521.6 374.0,523.0 371.4,526.5 368.3,526.1 365.8,529.6 367.6,533.1 368.8,534.2 370.0,538.0 367.0,541.1 365.8,544.0 367.5,548.2 366.5,551.3 368.0,554.6 364.6,555.6 361.7,557.7 357.2,555.6 355.4,553.5 353.1,552.5 349.6,554.5 347.0,554.6 342.9,553.2 339.8,552.5 338.4,554.8 336.9,557.5 336.7,560.8 334.6,562.5 331.2,564.9 328.0,565.0 325.1,566.3 322.0,570.0 319.1,566.8 315.8,565.0 318.7,562.5 320.0,560.8 323.2,559.9 326.0,558.7 325.0,555.7 325.6,550.6 327.0,548.0 328.8,544.3 330.4,542.0 328.2,538.7 326.0,535.8 323.0,535.9 318.0,534.8 314.7,534.7 311.2,535.2 307.5,535.8 308.3,532.1 308.8,528.6 309.6,525.0 307.6,526.0 303.0,525.3 301.0,526.5 298.9,528.1 296.4,528.3 293.0,529.6 293.9,532.0 295.0,535.8 291.8,539.4 289.8,542.0 291.7,546.2 291.7,548.5 293.0,552.5 293.2,555.7 294.8,558.0 297.0,560.8 295.6,563.4 295.9,567.6 295.0,568.9 295.0,573.0 291.5,574.8 291.7,577.6 289.2,580.6 286.7,581.7 283.7,584.2 282.5,588.0 286.7,590.0 282.5,591.2 280.0,594.0 278.9,597.8 276.7,601.7"/>
<polyline points="160.4,539.8 162.9,538.9 165.5,538.9 169.3,538.2 171.2,538.1 175.0,538.7 178.0,538.9 181.6,538.4 184.7,537.7 188.2,537.0 191.7,537.7 195.6,537.9 198.9,538.6 202.0,540.8 203.8,543.9 208.0,546.0 211.7,547.1 215.8,546.5 218.7,548.0 222.1,547.0 224.1,545.2 227.0,545.0 229.8,546.8 231.1,547.8 233.0,551.0 235.2,554.0 235.4,557.5 237.4,560.1 241.7,561.7 243.5,564.6 244.1,567.6 243.7,572.0 246.4,573.1 248.5,575.6 252.0,578.0 254.3,582.1 256.0,584.6 259.0,586.5 261.3,586.6 264.8,586.6 266.7,588.7 268.9,590.5 270.8,593.0 274.1,595.9 276.7,598.0 276.7,601.7"/>
<polyline points="276.7,601.7 275.9,604.0 277.5,607.6 278.0,610.0 275.5,612.7 273.3,614.0 270.0,616.7 268.1,619.9 266.7,623.0 268.8,625.1 270.5,628.0 273.0,630.0 272.5,632.9 270.0,636.7"/>
<polyline points="270.0,636.7 266.3,636.7 263.2,639.3 260.0,640.0 258.3,643.7 256.7,646.7 259.9,647.6 263.7,648.6 266.1,650.2 270.0,650.0 267.7,652.1 265.9,653.9 263.7,655.7 260.0,656.7 257.4,658.1 254.0,659.3 252.6,662.0 250.0,663.0 252.8,665.6 253.6,667.6 256.7,670.0 256.4,674.6 258.0,678.0 255.1,679.2 252.6,680.7 250.1,682.0 246.7,683.0 242.0,683.9 241.4,686.8 236.7,688.0 232.4,689.6 230.0,693.0 230.4,695.9 233.0,700.0 229.5,699.7 226.7,701.7 224.0,699.2 221.7,698.6 218.7,697.0"/>
<polyline points="270.0,636.7 274.0,636.5 276.5,636.3 280.0,638.0 282.1,639.6 284.4,644.0 286.7,645.0 289.6,647.0 292.1,648.2 294.7,647.5 296.8,650.1 299.2,652.5 303.0,653.0 306.8,652.3 308.2,654.5 311.1,653.2 314.4,655.1 317.7,653.5 320.0,655.0 323.4,656.5 325.9,657.1 328.2,656.8 332.0,655.7 334.4,657.6 336.9,657.9 340.0,658.0 341.6,662.2 343.0,665.0 346.2,662.9 350.1,662.1 353.0,660.0 354.6,656.9 357.4,652.8 360.0,651.7 362.7,649.8 368.1,648.9 370.0,646.7 372.6,645.7 377.5,645.9 380.4,645.4 382.4,645.6 386.7,645.0 387.8,648.2 388.5,650.8 390.0,653.0 392.5,652.7 396.5,654.2 400.0,655.0 403.5,654.1 405.7,652.3 407.5,651.7 410.9,651.5 414.6,649.4 417.0,650.0 420.7,650.4 423.2,649.6 424.9,648.2 428.4,648.6 431.6,648.3 434.6,646.0 437.0,646.7 440.9,645.9 444.7,646.9 447.2,646.0 450.7,645.0 453.0,644.0 456.4,644.7 458.7,645.0 462.8,647.1 464.4,645.1 467.1,645.2 470.7,646.7 474.7,646.1 476.3,648.1 480.8,647.6 484.0,648.0 486.6,648.7 489.3,653.1 491.8,655.4 494.0,656.7"/>
<polyline points="575.7,561.7 573.1,561.2 570.7,564.3 568.0,565.0 564.0,565.0 560.8,567.0 556.9,567.2 554.4,567.4 550.7,568.0 547.8,566.9 544.2,566.9 540.6,568.1 537.0,566.7 535.1,568.7 534.0,573.0 536.4,575.2 538.7,577.2 542.2,578.0 544.0,580.0 547.4,581.7 549.0,584.6 552.0,585.6 554.0,586.7 551.7,589.0 550.7,593.0 547.5,593.7 544.9,596.1 543.4,598.9 540.7,600.0 538.5,603.9 538.4,606.6 537.0,610.0 534.5,611.1 530.8,610.9 527.0,613.0 522.7,614.1 519.8,615.4 517.0,618.0 516.1,621.4 514.4,623.7 514.0,626.7 511.5,629.9 509.0,633.0 507.9,635.3 507.2,639.7 507.0,643.0 505.2,646.4 501.8,647.1 500.7,650.0 498.5,653.6 496.8,654.9 494.0,656.7"/>
<polyline points="494.0,656.7 494.7,660.8 492.7,663.2 493.7,667.5 493.0,669.9 495.2,673.4 494.0,677.2 494.7,679.4 496.0,682.5 494.4,685.4 494.1,688.1 494.2,691.5 492.5,695.0 492.1,698.6 492.7,701.2 494.8,703.8 495.0,707.5 492.5,710.0 496.0,712.5 498.7,715.0 499.5,718.1 500.0,722.5 503.7,726.0 501.7,728.8 498.8,730.7 497.5,732.5 495.2,734.8 491.7,734.8 490.0,737.5 488.3,740.6 486.6,741.6 486.0,745.0 487.4,748.1 488.7,752.5"/>
<polyline points="417.5,710.0 420.3,709.5 423.6,712.7 427.8,711.8 430.0,713.7 433.7,714.4 437.0,716.7 440.0,717.5 443.5,717.9 446.6,719.5 450.0,720.0 453.8,719.6 456.7,721.1 458.9,721.3 462.5,720.0 464.6,721.7 468.6,720.9 472.5,722.5 473.9,726.4 474.3,729.4 475.0,732.5 474.8,736.7 473.3,739.6 473.7,742.5 475.3,744.6 477.5,748.7 480.0,748.6 483.0,749.3 486.3,752.9 488.7,752.5"/>
<polyline points="488.7,752.5 490.2,755.0 494.3,755.4 497.5,758.7 499.1,760.9 501.5,765.3 503.7,767.5 508.2,769.8 510.0,772.5 511.7,775.7 513.8,779.0 513.7,782.5 517.0,783.2 519.0,784.0 522.0,783.9 525.0,783.7 527.5,782.6 531.0,783.6 535.0,782.5"/>
<polyline points="620.7,618.0 617.1,619.2 613.2,622.0 610.7,623.0 608.5,624.7 607.2,627.7 605.0,629.3 604.0,633.0 601.5,636.9 602.8,639.5 600.7,643.0 598.6,644.1 598.4,648.0 596.7,650.9 594.7,653.5 592.5,655.0 591.4,657.0 588.2,659.3 585.1,660.8 584.0,663.0 580.5,663.4 578.5,664.3 575.9,664.8 572.5,665.0 572.0,667.6 569.2,669.8 567.5,672.5 565.5,674.4 562.1,677.2 561.0,680.0 561.8,682.6 562.2,687.6 563.7,690.0 563.4,693.8 563.9,695.6 563.7,698.3 562.4,701.3 562.5,705.0 564.6,704.1 567.8,706.0 571.1,705.1 573.7,706.0 572.5,711.0 569.4,711.8 565.0,712.5 562.1,711.7 558.6,708.2 555.0,707.5 552.1,706.4 550.1,704.0 547.5,702.5 543.7,706.0 545.3,708.6 548.2,711.6 550.0,715.0 550.7,717.4 552.3,720.7 553.3,725.4 555.0,727.5 554.8,730.6 555.7,733.1 557.2,736.1 557.5,740.0 556.1,743.6 554.9,746.6 552.5,750.0 550.8,752.3 547.9,754.4 545.0,757.5 542.8,758.0 540.8,761.7 537.5,762.5 535.0,765.5 531.7,767.5 531.0,770.0 531.5,774.0 528.8,776.5 529.5,779.7 528.7,782.5"/>
<polyline points="535.0,782.5 539.1,780.8 541.4,778.8 545.0,778.7 549.1,778.3 551.6,775.1 555.0,775.0 557.3,772.3 561.0,770.0 562.3,767.2 562.6,763.1 563.7,760.0 567.7,759.4 570.0,758.7 572.0,761.5 572.5,766.0 576.3,765.4 580.0,765.0 582.3,763.1 583.6,759.7 585.0,757.5 587.4,755.9 590.5,752.1 592.5,750.0 594.5,745.3 596.0,742.5 599.8,741.2 601.5,739.5 605.0,737.5 608.4,739.9 610.0,742.5 613.0,743.5 615.5,745.5 617.5,747.5 620.1,748.4 624.1,748.7 626.8,747.9 630.0,747.5 633.1,745.6 634.5,744.0 637.5,742.5 641.6,739.5 645.0,739.0"/>
<polyline points="535.0,783.7 534.0,786.0 533.2,788.9 530.0,792.5 527.0,794.6 526.0,796.2 523.7,798.7 521.7,799.8 518.2,800.6 514.5,801.4 511.0,802.8 509.0,805.0 506.4,807.6 505.0,811.0 502.3,811.3 498.4,811.3 496.7,813.0 496.9,816.5 497.7,819.6 494.8,818.8 492.5,817.5 489.8,813.8 488.0,811.0 483.0,811.0 480.0,813.0 477.7,815.9 477.9,819.5 475.8,821.7 471.8,821.4 469.5,824.0 465.5,825.0 463.0,824.8 460.5,827.1 458.0,827.6 455.0,829.0 450.8,830.0 449.7,832.6 448.7,835.7 448.7,839.4 444.9,839.5 441.8,840.1 439.3,840.8 436.0,842.5 433.2,842.8 430.4,843.9 428.0,845.6 424.1,846.7 421.3,845.9 417.6,845.4 415.4,846.7 413.6,849.3 410.0,849.5 407.0,853.0 404.2,852.6 401.9,851.7 398.6,853.4 396.2,852.2 392.5,852.0 388.0,850.0"/>
<polyline points="417.5,710.0 417.4,713.1 416.3,717.1 415.7,720.2 415.0,722.5 412.6,723.8 410.1,725.1 407.1,726.5 404.1,729.1 402.5,731.0 400.3,734.5 400.5,736.9 397.5,740.0 399.8,742.9 400.3,745.3 402.5,747.5 399.8,748.7 398.1,750.9 396.1,752.5 394.5,756.2 392.5,757.5 391.4,759.6 389.2,762.4 388.0,765.0 389.2,768.9 389.0,771.2 391.1,773.1 389.9,777.1 392.0,780.0 390.9,783.6 389.3,785.4 387.0,788.0 388.0,790.5 391.5,792.7 393.0,794.6 392.1,797.1 388.5,797.7 386.5,800.9 385.0,803.0 384.3,806.0 387.3,809.4 387.0,813.0 386.9,816.3 385.3,818.4 387.1,822.6 385.8,824.8 383.7,826.1 383.2,830.5 380.6,832.0 383.4,832.3 386.0,835.3 390.0,836.0 389.4,839.3 389.5,842.4 390.0,844.4 389.3,847.4 388.0,850.0"/>
<polyline points="388.0,765.0 384.6,763.8 382.7,762.5 380.0,761.7 377.2,764.5 375.8,767.7 375.4,769.5 372.0,772.0 371.0,774.4 367.2,777.2 367.0,780.0 363.2,782.3 360.8,784.0 358.0,785.9 354.4,785.8 353.7,788.3 350.0,790.0 348.0,790.4 348.6,793.8 346.2,797.6 347.0,800.8 344.5,801.8 339.7,800.7 337.5,799.7 333.7,800.8 330.4,799.9 327.5,799.2 324.2,798.9 321.0,796.7 322.0,799.5 320.4,803.7 322.2,805.9 321.8,808.2 322.0,812.0 317.7,811.9 314.8,812.1 312.6,814.5 308.7,814.4 305.4,815.8 303.1,813.9 299.5,816.0 296.0,815.4 293.3,817.9 292.2,818.6 289.7,822.2 288.0,823.7 284.3,825.4 281.0,825.2 279.0,826.9 275.9,827.5 273.0,829.0 275.4,834.0 276.4,836.6 277.1,840.3 278.8,842.5 279.6,846.7 277.3,849.1 275.1,851.4 275.2,855.7 271.2,857.4 271.0,860.0 268.5,860.6 264.1,858.6 260.8,859.0 257.5,857.3 255.6,856.6 251.5,857.0"/>
<polyline points="271.0,860.0 271.7,863.6 271.9,867.3 273.0,869.6 273.7,873.1 272.2,876.9 272.0,880.0 270.2,882.7 269.1,884.7 267.0,888.0 265.5,890.5"/>
<polyline points="388.0,850.0 383.8,852.2 380.0,851.7 377.9,854.1 374.5,854.4 371.7,856.7 372.5,859.7 373.1,862.9 373.0,866.7 371.2,870.0 371.6,873.3 371.6,877.9 370.0,880.0 367.4,882.9 365.3,884.0 361.7,885.0 362.7,888.6 362.5,891.1 362.0,893.7 364.0,897.0 363.0,900.0 366.5,901.8 368.6,904.5 370.0,906.7 368.7,909.8 366.7,913.0 366.2,915.4 367.8,918.8 370.6,921.2 371.5,924.3 371.7,926.7 374.0,925.0 378.0,923.9 379.9,923.8 383.0,923.0 382.4,920.4 383.1,917.1 385.7,914.5 385.0,911.7 383.0,909.9 378.7,910.2 376.7,908.0 374.7,909.4 373.2,912.7 372.0,916.0 372.8,918.8 375.5,921.5 376.0,924.0 378.2,924.1 381.7,926.4 383.2,928.1 386.7,928.0 390.5,925.5 392.0,924.5 396.7,923.0 399.5,922.4 402.6,922.7 406.7,921.7 407.5,924.3 407.6,927.8 410.0,931.7 412.5,931.8 415.7,934.4 418.0,936.0 420.0,940.0 421.8,941.1 423.5,944.4 426.0,946.0 426.0,950.2 424.1,953.9 425.0,956.7 422.4,959.2 419.6,960.3 415.8,960.8 415.5,963.0 415.0,966.7"/>
<polyline points="415.0,966.7 417.7,966.5 420.5,965.4 423.7,963.0 426.1,960.1 427.5,956.2 430.0,955.0 432.6,954.0 435.3,951.1 437.5,951.6 440.4,949.8 443.2,950.5 446.4,950.6 450.8,950.8 451.4,948.4 455.0,946.3 457.0,944.6 460.5,945.5 462.7,947.1 467.5,946.7 469.5,945.4 472.6,942.7 473.7,940.0 476.6,938.0 479.2,936.8 482.0,934.0 485.0,933.0"/>
<polyline points="415.0,966.7 412.4,964.1 411.7,960.8 407.5,959.5 404.6,961.0 401.0,959.8 397.0,961.6 395.3,962.3 392.0,965.0 391.1,970.2 390.8,973.0 389.7,975.6 388.2,979.4 387.7,981.7 389.7,984.2 393.7,985.6 397.0,987.0 394.1,990.5 391.4,992.4 388.7,994.0 385.5,994.4 383.8,997.7 380.4,998.0 377.5,999.4 373.8,997.6 371.6,1000.3 368.0,999.4 363.9,1002.8 361.7,1004.6 357.9,1004.8 355.9,1004.7 352.7,1004.9 349.5,1003.3 347.0,1004.0"/>
<polyline points="347.0,1004.0 345.0,1002.9 343.7,1000.3 341.2,997.2 338.7,996.0 335.8,994.2 333.8,994.1 330.4,992.0 327.5,990.6 324.3,990.2 321.1,986.6 318.0,985.8 317.0,982.4 316.7,979.9 314.7,978.8 313.7,975.4 310.9,973.0 307.8,971.0 305.4,969.0 302.3,966.9 300.1,967.1 297.9,964.7 295.0,964.5"/>
<polyline points="347.0,1004.0 343.0,1007.7 346.4,1008.7 348.2,1012.0 351.0,1013.0 351.6,1016.1 353.0,1021.0 354.9,1022.6 359.6,1022.2 361.7,1023.0 360.9,1025.3 361.4,1029.3 359.6,1031.7 362.8,1034.7 363.8,1036.1 365.8,1040.0 365.2,1042.7 364.1,1047.1 363.7,1050.0 365.3,1051.9 368.7,1053.3 372.0,1053.5 375.1,1053.9 378.0,1052.5 377.7,1055.7 376.8,1059.5 376.9,1062.7 377.0,1065.0 376.7,1067.8 379.5,1071.2 379.7,1074.2 380.4,1077.5 383.5,1081.7 381.4,1083.4 382.0,1086.6 380.3,1089.0 378.0,1092.0 376.1,1095.5 375.9,1099.0 376.0,1102.5 378.0,1106.2 376.0,1108.8 378.0,1113.0 376.6,1116.9 375.4,1118.1 376.7,1122.1 374.5,1125.5"/>
<polyline points="575.7,561.7 577.9,563.0 582.0,562.0 584.0,563.0 587.6,562.3 590.0,561.2 594.0,561.6 597.0,560.0 597.1,556.4 597.9,553.4 599.0,550.0 599.3,547.1 600.7,543.0"/>
<polyline points="600.7,543.0 599.8,539.3 597.0,536.7 598.2,532.8 597.4,528.9 597.8,526.7 597.0,523.0 599.3,521.3 601.3,519.2 604.0,516.7 606.2,514.8 609.7,512.9 614.0,511.7 616.0,509.8 619.1,509.0 622.5,506.8 624.0,505.0 628.0,503.8 629.7,502.7 634.9,501.8 637.0,500.0 640.7,496.7 637.4,496.7 635.2,493.5 630.7,493.0 629.1,491.4 626.7,487.9 624.0,486.7 620.8,484.6 620.4,480.8 617.0,478.0 618.4,476.2 620.9,474.1 622.0,470.0 624.9,469.1 627.3,465.8 630.7,465.0 629.4,462.6 625.6,461.2 624.0,458.0 621.1,454.6 619.4,453.1 617.0,450.0 617.1,446.5 615.0,443.6 614.0,440.0"/>
<polyline points="600.7,543.0 604.4,542.9 606.7,543.1 611.0,541.2 613.2,541.6 617.0,541.7 620.6,541.3 623.4,542.5 628.0,541.5 630.7,543.0 634.7,545.4 637.8,545.6 640.2,544.5 644.0,546.7 647.8,547.2 649.8,545.0 653.3,544.4 657.0,545.0 659.9,545.3 663.1,543.1 665.6,540.8 667.8,542.4 670.7,540.0 674.5,537.0 677.0,537.3 680.7,535.0 684.4,536.6 687.3,536.2 690.7,536.7 693.3,538.4 695.9,540.4 698.1,540.1 700.7,543.0 703.0,544.4 707.0,546.7 709.6,545.2 713.2,543.1 717.0,541.7 720.7,540.6 722.9,538.5 727.0,538.0 729.0,534.6 731.6,532.6 732.1,529.4 734.0,526.7 736.1,524.1 737.2,522.5 739.6,520.5 742.5,519.6 744.0,516.7 747.6,518.6 751.1,518.5 754.0,520.0"/>
<polyline points="754.0,520.0 755.6,515.5 756.2,513.7 759.0,510.0 760.2,505.7 763.5,503.7 764.0,500.0 762.8,496.3 761.7,494.1 760.7,490.0 759.1,485.8 757.0,483.0 757.8,478.5 760.0,476.7"/>
<polyline points="754.0,520.0 752.6,523.1 750.8,525.6 747.5,527.7 747.0,530.0 744.4,531.8 743.4,535.1 740.7,535.6 738.4,536.9 737.0,540.0 738.8,542.0 743.1,544.3 744.0,546.7 747.1,547.7 750.7,547.5 754.0,550.0 752.1,551.8 751.5,555.6 749.1,557.4 747.0,560.0 744.0,561.1 741.7,562.4 738.8,561.3 736.3,562.9 733.4,564.6 730.7,565.0 728.5,566.7 725.4,567.0 722.8,569.4 719.0,571.2 717.0,573.0 715.1,575.2 711.5,575.4 709.8,577.1 706.0,578.7 704.0,580.0 701.6,580.1 696.9,582.1 694.1,581.0 690.7,581.7 688.7,585.9 685.7,588.0 688.6,590.5 689.1,593.3 692.0,593.6 694.0,596.7 696.8,597.4 699.0,599.3 702.2,600.9 704.0,603.0 705.7,606.0 708.4,605.9 710.4,609.1 712.3,610.7 714.0,613.0 715.9,614.3 717.9,617.7 718.9,619.2 719.5,621.9 722.9,624.4 724.0,626.7"/>
<polyline points="597.0,560.0 599.1,562.2 601.7,564.0 602.9,565.2 605.7,567.2 607.0,570.0 610.7,571.4 611.7,574.0 613.9,575.6 617.0,576.7 617.6,581.2 618.7,584.3 620.7,586.7 621.9,591.0 623.5,593.4 624.0,596.7 627.1,598.6 629.8,599.4 632.0,601.7 630.1,604.9 629.6,608.1 627.0,610.0 624.8,613.2 621.4,615.2 620.7,618.0"/>
<polyline points="620.7,618.0 623.7,618.0 625.9,617.6 628.8,619.5 632.8,618.1 635.8,618.9 638.0,620.0 641.6,619.1 644.1,619.3 647.6,619.1 650.3,619.2 653.6,616.9 657.0,617.0 657.1,619.4 656.7,622.4 657.5,626.2 657.0,629.6 661.4,628.7 663.3,629.6 667.5,627.5 670.3,629.0 672.1,630.6 675.8,631.7 677.5,630.3 681.4,630.7 684.0,629.6 685.8,633.1 688.0,634.8 690.8,632.6 692.5,629.6 692.6,626.7 692.0,623.8 691.2,620.9 691.5,617.0 694.6,614.0 696.6,615.7 699.7,616.7 702.2,616.8 705.0,619.0 707.8,620.0 711.6,621.8 714.0,623.0 718.0,623.2 721.4,625.0 724.0,626.7 726.5,628.1 727.0,632.9 728.4,634.9 730.7,636.7 733.2,638.2 736.2,640.3 738.0,643.0 739.7,644.3 742.0,646.7"/>
<polyline points="765.0,451.0 769.1,450.3 772.0,449.5 775.0,447.0 777.4,448.0 781.6,446.2 785.0,447.0 788.1,448.4 789.2,450.8 792.2,451.9 795.0,453.0"/>
<polyline points="828.0,465.0 828.9,468.3 830.0,473.0 828.5,477.4 825.9,478.7 825.0,483.0 823.0,486.7"/>
<polyline points="828.0,496.7 829.9,495.0 833.7,494.4 836.7,493.0 840.0,491.7 843.1,492.7 847.5,491.5 850.0,491.7 853.0,493.2 857.6,492.6 859.3,494.1 863.0,495.0 865.3,495.3 869.0,495.9 872.1,496.5 873.7,497.1 876.7,498.0 880.5,496.4 883.2,495.5 887.5,496.5 890.0,495.0 893.6,492.0 896.2,492.8 900.0,490.0 902.7,491.1 905.7,490.2 909.1,491.1 911.7,490.0 913.3,492.8 913.6,495.6 913.0,500.0 915.1,502.4 918.4,503.5 919.8,505.8 923.0,506.7 927.3,508.4 928.4,511.0 931.7,513.0 930.4,516.5 928.1,517.3 926.7,520.0 922.7,520.0 919.2,520.0 916.7,521.7"/>
<polyline points="911.7,453.0 913.8,454.3 918.5,453.4 921.6,453.4 923.6,455.3 926.9,454.7 930.0,455.0 933.2,455.6 935.6,455.3 938.7,454.9 940.7,455.5 944.3,455.2 946.4,456.1 950.0,455.0 953.0,453.8 955.2,453.5 958.6,452.7 961.3,450.5 964.0,450.0 966.6,449.0 970.0,446.7 973.4,445.3 975.2,442.5 978.6,441.4 980.1,438.9 983.0,436.7 985.8,436.5 988.2,434.1 990.9,432.1 993.6,432.7 996.7,430.0 999.8,428.2 1002.1,428.7 1006.3,428.5 1007.8,428.0 1011.1,425.5 1013.6,426.0 1016.7,425.0 1019.5,424.6 1022.3,425.3 1024.6,424.3 1028.6,422.0 1031.8,422.9 1034.5,423.2 1036.7,421.7 1039.1,421.9 1043.5,421.7 1046.7,421.7 1044.8,424.1 1044.8,428.3 1043.0,431.7 1044.8,433.8 1046.3,438.0 1046.7,441.7 1043.7,444.2 1040.0,446.7"/>
<polyline points="1040.0,446.7 1036.8,448.5 1033.8,449.9 1031.6,449.4 1029.3,451.8 1025.2,452.4 1023.0,453.0 1019.7,454.2 1017.8,453.9 1014.8,456.9 1012.2,458.1 1008.5,458.3 1006.7,460.0 1003.9,460.6 1002.3,462.9 1000.0,464.1 997.0,466.5 994.0,467.7 993.0,470.0 990.5,473.1 987.7,473.0 985.6,475.7 983.0,476.7 981.4,478.9 980.2,482.9 977.2,484.2 976.7,486.7 975.7,488.9 973.6,491.1 970.3,492.3 968.0,495.0 966.5,498.1 963.8,500.5 961.5,501.2 960.0,505.0"/>
<polyline points="1023.0,453.0 1023.3,457.3 1022.4,459.5 1023.1,463.1 1021.7,466.7 1027.1,466.5 1030.0,466.7"/>
<polyline points="960.0,505.0 962.6,505.0 966.5,507.4 970.0,506.7 974.1,505.1 976.3,504.6 980.1,504.8 983.0,505.0 986.3,504.0 990.6,505.2 993.7,502.7 996.7,503.0 997.4,507.3 1000.0,510.0"/>
<polyline points="960.0,505.0 958.0,508.5 957.3,510.5 957.7,513.4 956.7,516.7 953.7,519.2 953.4,520.8 951.0,523.6 950.0,526.7 948.0,530.4 948.5,534.3 946.7,536.7 944.6,539.9 943.9,542.4 943.0,546.7 943.1,550.1 941.9,553.7 941.7,556.7 944.4,556.1 947.5,557.0 950.0,558.0 952.4,559.9 956.7,561.7"/>
<polyline points="941.7,556.7 939.7,552.8 937.8,550.1 935.0,548.0 930.0,550.0 925.9,552.0 923.0,553.0 918.0,555.0"/>
<polyline points="918.0,555.0 917.3,558.7 918.3,561.8 916.6,563.9 916.7,566.7 917.9,569.8 916.7,573.0"/>
<polyline points="918.0,555.0 916.0,553.5 914.0,551.3 913.0,548.0 913.0,545.0"/>
</g>
<g fill="#000" stroke="none">
<circle cx="197.8" cy="1005.8" r="0.8"/>
<circle cx="217" cy="1002" r="1"/>
<circle cx="227.5" cy="1010" r="1"/>
<circle cx="195" cy="1019.8" r="0.8"/>
<circle cx="199.5" cy="1030" r="1.2"/>
<circle cx="201.5" cy="1028" r="0.9"/>
<circle cx="213.5" cy="1042.5" r="1.1"/>
<circle cx="251" cy="1033.8" r="1.2"/>
<circle cx="202" cy="1059" r="0.9"/>
<circle cx="250" cy="1059" r="1.5"/>
<circle cx="228" cy="1124" r="1"/>
<ellipse cx="218.8" cy="1019.8" rx="1" ry="2.6" transform="rotate(18 218.8 1019.8)"/>
<rect x="262.5" y="1015" width="3" height="3" fill="#aaa"/>
<circle cx="963" cy="888" r="1.4"/>
<circle cx="954.7" cy="915" r="1.3"/>
<circle cx="950" cy="920" r="0.9"/>
<circle cx="986.7" cy="940" r="1"/>
<circle cx="972" cy="981.8" r="1.7"/>
<circle cx="914" cy="1007" r="1.4"/>
<circle cx="914" cy="1028" r="0.8"/>
<circle cx="936" cy="1105" r="0.7"/>
<circle cx="947" cy="1125" r="1.8"/>
<circle cx="943.5" cy="1118" r="1"/>
<circle cx="963.8" cy="1117" r="1.2"/>
<circle cx="960.5" cy="1129" r="2"/>
<circle cx="955.6" cy="1135" r="1.8"/>
<circle cx="962" cy="1134" r="1.3"/>
<circle cx="961" cy="1147" r="0.7"/>
</g>
<g fill="#fff3c9" stroke="#000" stroke-width="2.1" stroke-linejoin="round">
<path d="M941,932 L944.5,935 L945,941 L943.5,948 L944,955 L942,962 L941,970 L940.5,978 L939,986 L936,992 L934,999 L933,1006 L931.5,1012 L929.5,1015.5 L927.5,1012 L926.5,1005 L927.5,998 L929,991 L930,984 L929,976 L929.5,968 L930,960 L932,955 L935,950 L936.5,943 L937.5,937 Z"/>
</g>
<g fill="#e33426" stroke="#000" stroke-width="2.1" stroke-linejoin="round">
<path d="M931,955 L940,955 L941.5,962 L941,970 L940.5,978 L939,986 L936,990 L931,989 L930,984 L929,976 L929.5,968 L930,960 Z"/>
<path d="M921,1033 L925,1030.5 L927.5,1034 L928,1039 L926,1044 L922,1045.5 L919.5,1041 Z" stroke-width="1.8"/>
<circle cx="934.5" cy="1092.5" r="2.3" stroke-width="1.6"/>
<path d="M967,1161 L973,1160 L975,1168 L976,1175 L972,1178 L968,1174 L966,1167 Z" stroke-width="1.7"/>
<ellipse cx="966" cy="1157.5" rx="2" ry="2.5" fill="#fff" stroke-width="1.5"/>
</g>
<g fill="#000">
<circle cx="939" cy="934" r="1.5"/>
<circle cx="944" cy="946" r="1.3"/>
<circle cx="936" cy="945" r="1.2"/>
<circle cx="931" cy="957" r="1.7"/>
<circle cx="930" cy="963" r="1.5"/>
<circle cx="942" cy="975" r="1.4"/>
<circle cx="933" cy="987" r="1.5"/>
<circle cx="927" cy="1000" r="1.4"/>
<circle cx="928" cy="1010" r="1.5"/>
<circle cx="930" cy="1005" r="1.2"/>
<circle cx="931" cy="1018" r="1"/>
<circle cx="931" cy="1021" r="0.9"/>
<circle cx="928.5" cy="1028.4" r="0.9"/>
<circle cx="936" cy="972" r="1.3"/>
<circle cx="934" cy="981" r="1.2"/>
<ellipse cx="943.5" cy="990" rx="1.9" ry="6.5"/>
</g>
<path d="M783.2,628.8 L784.0,631.4 L785.8,632.9 L788.4,632.8 L790.5,634.7 M788.0,624.7 L788.7,626.0 L789.4,627.5 L791.1,628.5 L793.3,627.6 M782.3,641.2 L783.6,642.3 L784.7,644.3 L786.2,647.3 M794.0,629.0 L794.4,632.1 L795.6,635.4 M773.8,643.7 L773.1,646.2 L774.1,648.9 L775.4,650.6 M784.0,635.2 L782.7,637.2 L782.0,639.4 L780.5,639.7 L777.5,638.1 M787.9,646.9 L787.8,648.6 L786.2,649.6 L784.5,652.2 L784.1,654.2 M799.6,640.3 L799.5,642.9 L798.6,644.9 L798.0,646.5 L798.8,648.0 M783.7,634.2 L782.8,635.8 L783.7,637.7 M782.5,612.2 L781.2,613.3 L780.9,615.7 L781.4,618.6 L781.9,622.0 M787.8,644.2 L786.7,645.2 L784.5,646.3 L782.3,646.3 M799.3,642.2 L798.2,644.8 L797.8,647.4 L797.2,648.9 M789.7,646.8 L787.1,648.1 L785.1,649.4 L782.8,650.6 M785.0,621.5 L787.8,622.8 L789.6,624.5 L789.6,626.7 L791.4,628.8 M785.2,637.9 L783.2,638.8 L781.3,638.9 L778.3,639.6 M799.8,642.6 L800.7,644.1 L803.0,646.5 L804.6,646.3 M802.3,640.4 L800.9,642.2 L799.0,644.3 M792.5,641.2 L793.9,643.5 L794.4,645.5 M779.1,634.0 L779.0,635.6 L777.7,637.1 L777.7,638.7 M783.5,636.4 L783.7,639.8 L784.0,643.3 L786.2,645.6 M791.9,618.3 L792.8,620.5 L793.3,623.8 L794.3,626.2 M783.2,634.1 L781.6,635.0 L780.5,636.9 L781.1,639.0 L779.0,641.6 M775.7,636.6 L775.9,639.2 L774.8,641.4 M767.1,639.9 L766.1,642.7 L763.9,643.6 M785.2,635.1 L783.6,635.6 L782.0,637.6 L781.3,640.5 L780.0,642.7 M797.2,630.7 L799.1,633.3 L798.4,635.7 L797.6,637.4 L796.4,639.6 M776.0,627.5 L775.9,629.2 L776.1,630.8 L777.8,633.1 M776.5,636.8 L775.7,638.3 L774.7,640.1 L775.0,642.6 M782.2,623.9 L781.7,627.1 L781.4,629.0 M774.0,630.1 L774.0,632.3 L775.6,634.4 L775.4,636.3 L774.2,637.8 M769.6,642.9 L772.4,644.3 L775.3,645.2 L777.4,644.3 M791.4,610.7 L792.8,612.7 L793.0,615.2 L792.4,617.0 M785.0,631.0 L786.4,632.2 L789.2,632.9 M780.5,625.8 L783.1,626.9 L784.0,628.5 L785.6,631.0 M781.0,617.2 L781.5,618.8 L780.3,621.8 M799.6,644.8 L797.5,647.0 L796.6,650.3 L794.6,652.5 L792.3,652.9 M799.2,642.6 L799.0,645.5 L800.6,647.0 M779.2,633.6 L780.2,635.2 L781.5,636.6 L784.1,636.4 L786.0,636.3 M774.8,626.4 L774.8,628.1 L776.4,631.0 L777.4,633.3 L776.1,635.6 M771.9,627.5 L771.4,629.8 L771.0,631.8 L771.0,633.9 L770.8,636.4 M776.0,644.4 L777.3,645.9 L779.1,645.7 M799.5,625.9 L800.3,627.4 L799.9,630.7 M771.3,645.5 L770.3,647.7 L770.5,649.3 M790.7,626.9 L791.2,629.8 L790.5,631.4 L790.4,633.1 M783.8,628.6 L784.9,631.1 L784.8,634.0 L785.9,635.7 M774.9,645.2 L773.6,646.2 L773.6,648.2 M781.7,633.1 L779.9,635.9 L780.1,637.8 M779.1,622.5 L778.3,624.8 L775.7,626.5 M780.4,615.6 L780.6,618.2 L779.1,621.2 L778.5,623.3 L780.1,626.2 M777.1,638.7 L777.0,641.6 L777.0,644.6 L778.2,647.7 L780.4,649.4 M778.1,643.5 L775.6,645.8 L773.3,645.7 L771.6,644.3 L769.4,643.6 M800.6,643.1 L803.0,644.6 L805.4,646.6 L806.2,648.6 M782.8,641.6 L783.1,644.2 L781.0,646.1 M795.2,613.1 L796.7,615.4 L799.6,616.1 L801.4,617.1 M774.2,638.3 L774.3,641.4 L775.0,643.1 L776.3,645.9 M800.2,643.9 L801.0,645.5 L803.1,646.6 L806.5,646.9 L808.0,645.3 M774.7,636.5 L773.4,638.4 L770.1,639.0 M789.2,644.9 L786.2,646.4 L784.4,648.3 L782.0,648.0 M801.1,639.7 L799.3,642.2 L800.3,645.4 L798.7,648.3 L796.4,648.9 M781.4,638.6 L782.5,641.3 L782.9,643.8 L785.1,645.2 L787.0,645.0 M785.5,642.9 L786.0,646.1 L787.5,648.8 L789.6,651.3 L792.8,651.5 M773.7,630.1 L775.0,632.0 L776.7,635.1 L777.0,636.7 M798.0,636.3 L798.3,637.8 L796.1,640.1 M773.6,632.8 L772.2,635.9 L770.1,637.4 L769.9,639.3 L770.1,641.0 M789.7,626.5 L792.2,627.8 L793.4,629.3 L795.9,631.3 L796.9,632.6 M770.6,625.1 L768.9,625.7 L767.9,627.1 L765.8,628.4 M775.1,646.5 L776.4,649.0 L778.5,649.6 M799.4,630.3 L799.1,632.2 L796.1,633.9 M792.2,644.6 L793.5,645.6 L796.1,645.9 L798.0,646.9 L798.5,649.1 M771.0,643.5 L769.6,644.6 L766.3,645.1 L764.8,646.0 L763.3,645.5 M796.0,626.8 L797.4,629.5 L796.6,632.7 L795.4,635.2 L793.9,636.2 M778.4,614.9 L777.5,616.1 L776.0,617.1 M801.5,632.2 L799.6,634.1 L798.5,635.8 L796.1,636.2 L793.7,634.6 M796.5,614.3 L795.5,616.5 L793.5,617.2 L792.5,620.0 M799.3,637.1 L796.6,638.9 L795.1,641.7 L795.2,644.9 M769.9,643.7 L767.1,645.8 L763.9,646.4 M779.6,630.2 L779.0,632.8 L777.5,633.6 L775.8,633.5 L772.4,632.9 M777.1,622.0 L776.8,624.2 L776.3,625.7 L778.2,628.4 L780.3,629.7 M800.6,646.2 L799.1,648.7 L799.9,650.7 L798.8,653.8 M791.8,630.7 L791.6,632.8 L789.2,635.3 M778.4,645.4 L779.6,647.2 L779.9,649.0 M790.6,639.2 L789.9,641.1 L790.1,644.4 M769.3,646.4 L768.2,647.4 L766.0,648.7 L763.9,650.3 L763.2,653.7 M771.6,643.2 L771.1,646.6 L770.9,648.4 L770.2,651.1 L770.3,653.9 M795.0,629.1 L792.1,630.0 L789.5,630.6 L787.9,630.1 L785.1,629.6" fill="none" stroke="#000" stroke-width="2.1" stroke-linecap="round" stroke-linejoin="round"/>
<path d="M759.5,618.5 L761,622 L763,624 L764.5,628 L767,629.5 L769,633 L768,637 L765,639" fill="none" stroke="#000" stroke-width="1.6" stroke-linecap="round" stroke-linejoin="round"/>
<path d="M54,567 L58,564 L64,562.5 L71,563 L73,565.5 L67,567.5 L62,569.5 L64,572 L60,575.5 L56,573 Z" fill="#000" stroke="#000" stroke-width="1.2" stroke-linejoin="round"/>
<path d="M61,575 L64,581 L68,587 L73,592 L78,595.5" fill="none" stroke="#000" stroke-width="2.6" stroke-linecap="round" stroke-linejoin="round"/>
<g font-family="'Liberation Sans',sans-serif" font-style="italic" font-size="12.2" fill="#3c3c3c">
<text x="342.7" y="175.8" textLength="40.0" lengthAdjust="spacingAndGlyphs">Ladakh</text>
<text x="194.0" y="214.0" textLength="114.0" lengthAdjust="spacingAndGlyphs">Jammu and Kashmir</text>
<text x="379.3" y="276.0" textLength="100.7" lengthAdjust="spacingAndGlyphs">Himachal Pradesh</text>
<text x="314.0" y="314.5" textLength="37.7" lengthAdjust="spacingAndGlyphs">Punjab</text>
<text x="306.0" y="333.3" textLength="60.7" lengthAdjust="spacingAndGlyphs">Chandigarh</text>
<text x="415.0" y="346.8" textLength="67.7" lengthAdjust="spacingAndGlyphs">Uttarakhand</text>
<text x="323.3" y="380.8" textLength="45.7" lengthAdjust="spacingAndGlyphs">Haryana</text>
<text x="345.7" y="401.0" textLength="27.6" lengthAdjust="spacingAndGlyphs">Delhi</text>
<text x="459.3" y="461.8" textLength="76.0" lengthAdjust="spacingAndGlyphs">Uttar Pradesh</text>
<text x="230.0" y="475.0" textLength="55.0" lengthAdjust="spacingAndGlyphs">Rajasthan</text>
<text x="157.3" y="614.3" textLength="39.4" lengthAdjust="spacingAndGlyphs">Gujarat</text>
<text x="369.3" y="583.1" textLength="94.0" lengthAdjust="spacingAndGlyphs">Madhya Pradesh</text>
<text x="83.3" y="677.7" textLength="80.0" lengthAdjust="spacingAndGlyphs">D&amp;H and D&amp;D</text>
<text x="230.7" y="696.0" textLength="67.6" lengthAdjust="spacingAndGlyphs">D&amp;H &amp; D&amp;D</text>
<text x="303.3" y="729.3" textLength="69.4" lengthAdjust="spacingAndGlyphs">Maharashtra</text>
<text x="663.3" y="507.0" textLength="29.0" lengthAdjust="spacingAndGlyphs">Bihar</text>
<text x="647.3" y="571.8" textLength="57.4" lengthAdjust="spacingAndGlyphs">Jharkhand</text>
<text x="515.0" y="657.6" textLength="70.0" lengthAdjust="spacingAndGlyphs">Chhattisgarh</text>
<text x="615.7" y="691.8" textLength="38.3" lengthAdjust="spacingAndGlyphs">Odisha</text>
<text x="762.3" y="439.0" textLength="36.7" lengthAdjust="spacingAndGlyphs">Sikkim</text>
<text x="1002.7" y="416.0" textLength="105.6" lengthAdjust="spacingAndGlyphs">Arunachal Pradesh</text>
<text x="917.3" y="482.8" textLength="37.7" lengthAdjust="spacingAndGlyphs">Assam</text>
<text x="995.0" y="486.0" textLength="52.3" lengthAdjust="spacingAndGlyphs">Nagaland</text>
<text x="850.7" y="518.7" textLength="61.0" lengthAdjust="spacingAndGlyphs">Meghalaya</text>
<text x="974.3" y="533.7" textLength="44.0" lengthAdjust="spacingAndGlyphs">Manipur</text>
<text x="762.3" y="562.8" textLength="69.4" lengthAdjust="spacingAndGlyphs">West Bengal</text>
<text x="864.3" y="569.3" textLength="37.4" lengthAdjust="spacingAndGlyphs">Tripura</text>
<text x="912.7" y="591.7" textLength="46.6" lengthAdjust="spacingAndGlyphs">Mizoram</text>
<text x="416.0" y="788.7" textLength="56.3" lengthAdjust="spacingAndGlyphs">Telangana</text>
<text x="430.0" y="863.3" textLength="90.0" lengthAdjust="spacingAndGlyphs">Andhra Pradesh</text>
<text x="242.3" y="876.0" textLength="22.0" lengthAdjust="spacingAndGlyphs">Goa</text>
<text x="290.7" y="892.0" textLength="56.0" lengthAdjust="spacingAndGlyphs">Karnataka</text>
<text x="436.7" y="999.2" textLength="63.3" lengthAdjust="spacingAndGlyphs">Puducherry</text>
<text x="390.0" y="1031.2" textLength="61.0" lengthAdjust="spacingAndGlyphs">Tamil Nadu</text>
<text x="317.7" y="1044.3" textLength="35.6" lengthAdjust="spacingAndGlyphs">Kerala</text>
<text x="190.8" y="1129.2" textLength="77.0" lengthAdjust="spacingAndGlyphs">Lakshadweep</text>
<text x="867.5" y="974.3" textLength="136.8" lengthAdjust="spacingAndGlyphs">Andaman and Nicobar Is</text>
<text x="474.7" y="724.8" textLength="112" lengthAdjust="spacingAndGlyphs" fill="#98a2c2" fill-opacity="0.7">#WRIIndiaGeoAnalytics</text>
</g>
<g transform="translate(50.7,50.7) rotate(-45)" fill="#f9b416"><rect x="-14.75" y="-14.75" width="7.95" height="3.40"/><rect x="-1.90" y="-14.75" width="16.65" height="3.40"/><rect x="-14.75" y="-14.75" width="3.40" height="16.65"/><rect x="-14.75" y="6.80" width="3.40" height="7.95"/><rect x="-18.90" y="-6.05" width="3.40" height="3.40"/><rect x="-10.60" y="-6.05" width="12.50" height="3.40"/><rect x="6.80" y="-6.05" width="12.10" height="3.40"/><rect x="-6.05" y="-18.90" width="3.40" height="12.10"/><rect x="-6.05" y="-1.90" width="3.40" height="12.50"/><rect x="-6.05" y="15.50" width="3.40" height="3.40"/><rect x="-18.90" y="2.65" width="12.10" height="3.40"/><rect x="-1.90" y="2.65" width="12.50" height="3.40"/><rect x="15.50" y="2.65" width="3.40" height="3.40"/><rect x="2.65" y="-18.90" width="3.40" height="3.40"/><rect x="2.65" y="-10.60" width="3.40" height="12.50"/><rect x="2.65" y="6.80" width="3.40" height="12.10"/><rect x="-14.75" y="11.35" width="16.65" height="3.40"/><rect x="6.80" y="11.35" width="7.95" height="3.40"/><rect x="11.35" y="-14.75" width="3.40" height="7.95"/><rect x="11.35" y="-1.90" width="3.40" height="16.65"/></g>
<rect x="13.5" y="790.5" width="143" height="396.5" fill="#fff" stroke="#000" stroke-width="1.2"/>
<text x="23" y="822.7" font-family="'Liberation Sans',sans-serif" font-weight="bold" font-size="20.5" textLength="77.5" lengthAdjust="spacingAndGlyphs">LEGEND</text>
<rect x="23.5" y="846" width="33.5" height="19" fill="#fff" stroke="#000" stroke-width="1.3" rx="1"/>
<text x="66.5" y="858.5" font-family="'Liberation Sans',sans-serif" font-style="italic" font-size="8.6" textLength="70" lengthAdjust="spacingAndGlyphs" fill="#222">State Boundaries</text>
<text x="23" y="892.0" font-family="'Liberation Sans',sans-serif" font-size="11.4" textLength="123.3" lengthAdjust="spacingAndGlyphs" fill="#222">Wet Bulb Temperature</text>
<text x="23" y="909.5" font-family="'Liberation Sans',sans-serif" font-size="11.4" textLength="115.3" lengthAdjust="spacingAndGlyphs" fill="#222">Maximum forecasted</text>
<text x="23" y="927.0" font-family="'Liberation Sans',sans-serif" font-size="11.4" textLength="69.8" lengthAdjust="spacingAndGlyphs" fill="#222">(30-04-2022)</text>
<rect x="23.3" y="940.0" width="33.7" height="19.4" fill="#ffffb4" stroke="#8a8a6a" stroke-width="0.8"/>
<text x="66.5" y="952.7" font-family="'Liberation Sans',sans-serif" font-style="italic" font-size="8.6" textLength="14.5" lengthAdjust="spacingAndGlyphs" fill="#222">&lt;15</text>
<rect x="23.3" y="971.1" width="33.7" height="19.4" fill="#fffbb0" stroke="#8a8a6a" stroke-width="0.8"/>
<text x="66.5" y="983.9" font-family="'Liberation Sans',sans-serif" font-style="italic" font-size="8.6" textLength="18.5" lengthAdjust="spacingAndGlyphs" fill="#222">15.0</text>
<rect x="23.3" y="1002.3" width="33.7" height="19.4" fill="#fed976" stroke="#8a8a6a" stroke-width="0.8"/>
<text x="66.5" y="1015.0" font-family="'Liberation Sans',sans-serif" font-style="italic" font-size="8.6" textLength="18.5" lengthAdjust="spacingAndGlyphs" fill="#222">17.5</text>
<rect x="23.3" y="1033.5" width="33.7" height="19.4" fill="#fdab4b" stroke="#8a8a6a" stroke-width="0.8"/>
<text x="66.5" y="1046.2" font-family="'Liberation Sans',sans-serif" font-style="italic" font-size="8.6" textLength="18.5" lengthAdjust="spacingAndGlyphs" fill="#222">20.0</text>
<rect x="23.3" y="1064.6" width="33.7" height="19.4" fill="#f97a32" stroke="#8a8a6a" stroke-width="0.8"/>
<text x="66.5" y="1077.3" font-family="'Liberation Sans',sans-serif" font-style="italic" font-size="8.6" textLength="18.5" lengthAdjust="spacingAndGlyphs" fill="#222">22.5</text>
<rect x="23.3" y="1095.8" width="33.7" height="19.4" fill="#e8301f" stroke="#8a8a6a" stroke-width="0.8"/>
<text x="66.5" y="1108.5" font-family="'Liberation Sans',sans-serif" font-style="italic" font-size="8.6" textLength="18.5" lengthAdjust="spacingAndGlyphs" fill="#222">25.0</text>
<rect x="23.3" y="1126.9" width="33.7" height="19.4" fill="#b00026" stroke="#8a8a6a" stroke-width="0.8"/>
<text x="66.5" y="1139.6" font-family="'Liberation Sans',sans-serif" font-style="italic" font-size="8.6" textLength="18.5" lengthAdjust="spacingAndGlyphs" fill="#222">27.5</text>
<rect x="23.3" y="1158.0" width="33.7" height="19.4" fill="#730020" stroke="#8a8a6a" stroke-width="0.8"/>
<text x="66.5" y="1170.8" font-family="'Liberation Sans',sans-serif" font-style="italic" font-size="8.6" textLength="22.5" lengthAdjust="spacingAndGlyphs" fill="#222">&gt;27.5</text>
<text x="503" y="69" font-family="'Liberation Sans',sans-serif" font-weight="bold" fill="#000" font-size="37" textLength="469.5" lengthAdjust="spacingAndGlyphs">WET BULB TEMPERATURE</text>
<text x="700" y="110.5" font-family="'Liberation Sans',sans-serif" font-weight="bold" fill="#000" font-size="26" textLength="77.5" lengthAdjust="spacingAndGlyphs">INDIA</text>
<text x="548.6" y="146.7" font-family="'Liberation Sans',sans-serif" font-weight="bold" fill="#000" font-size="24" textLength="385.5" lengthAdjust="spacingAndGlyphs">Based on 30th April 2022 forecast</text>
<text x="84.6" y="47" font-family="'Liberation Serif',serif" font-size="20.5" letter-spacing="2.8" textLength="155.5" lengthAdjust="spacingAndGlyphs" fill="#1a1a1a">WRI INDIA</text>
<text x="109.6" y="67.5" font-family="'Liberation Serif',serif" font-size="16" letter-spacing="1.2" textLength="129.3" lengthAdjust="spacingAndGlyphs" fill="#8a8d84">ROSS CENTER</text>
<rect x="83.5" y="60.2" width="22" height="1.6" fill="#f5922a"/>
<text x="184.5" y="1186.7" font-family="'Liberation Sans',sans-serif" font-style="italic" font-size="15" textLength="462" lengthAdjust="spacingAndGlyphs" fill="#222">Prepared by WRI India Geo-Analytics; Data: GFS (NOAA/NCEP/EMC)</text>
</svg>
</body></html>
